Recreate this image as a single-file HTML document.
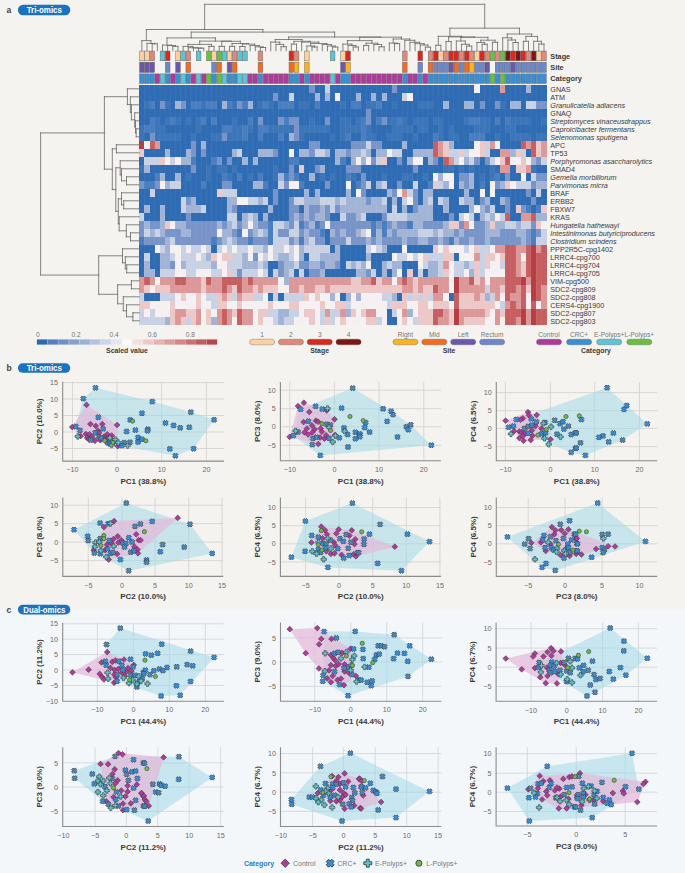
<!DOCTYPE html>
<html><head><meta charset="utf-8"><style>html,body{margin:0;padding:0;background:#f4f3ef;}svg{display:block;}</style></head>
<body><svg width="685" height="873" viewBox="0 0 685 873"><rect width="685" height="873" fill="#f4f3ef"/><rect x="0" y="609.5" width="685" height="263.5" fill="#f3f7fa"/><g shape-rendering="crispEdges"><rect x="139.30" y="84.80" width="5.21" height="8.05" fill="#2f6cb4"/><rect x="144.46" y="84.80" width="5.21" height="8.05" fill="#2f6cb4"/><rect x="149.61" y="84.80" width="5.21" height="8.05" fill="#2f6cb4"/><rect x="154.77" y="84.80" width="5.21" height="8.05" fill="#2f6cb4"/><rect x="159.92" y="84.80" width="5.21" height="8.05" fill="#2f6cb4"/><rect x="165.08" y="84.80" width="5.21" height="8.05" fill="#2f6cb4"/><rect x="170.23" y="84.80" width="5.21" height="8.05" fill="#2f6cb4"/><rect x="175.39" y="84.80" width="5.21" height="8.05" fill="#2f6cb4"/><rect x="180.54" y="84.80" width="5.21" height="8.05" fill="#2f6cb4"/><rect x="185.70" y="84.80" width="5.21" height="8.05" fill="#2f6cb4"/><rect x="190.85" y="84.80" width="5.21" height="8.05" fill="#2f6cb4"/><rect x="196.01" y="84.80" width="5.21" height="8.05" fill="#2f6cb4"/><rect x="201.16" y="84.80" width="5.21" height="8.05" fill="#2f6cb4"/><rect x="206.31" y="84.80" width="5.21" height="8.05" fill="#2f6cb4"/><rect x="211.47" y="84.80" width="5.21" height="8.05" fill="#2f6cb4"/><rect x="216.62" y="84.80" width="5.21" height="8.05" fill="#2f6cb4"/><rect x="221.78" y="84.80" width="5.21" height="8.05" fill="#2f6cb4"/><rect x="226.94" y="84.80" width="5.21" height="8.05" fill="#2f6cb4"/><rect x="232.09" y="84.80" width="5.21" height="8.05" fill="#2f6cb4"/><rect x="237.25" y="84.80" width="5.21" height="8.05" fill="#2f6cb4"/><rect x="242.40" y="84.80" width="5.21" height="8.05" fill="#2f6cb4"/><rect x="247.56" y="84.80" width="5.21" height="8.05" fill="#2f6cb4"/><rect x="252.71" y="84.80" width="5.21" height="8.05" fill="#2f6cb4"/><rect x="257.87" y="84.80" width="5.21" height="8.05" fill="#2f6cb4"/><rect x="263.02" y="84.80" width="5.21" height="8.05" fill="#2f6cb4"/><rect x="268.18" y="84.80" width="5.21" height="8.05" fill="#2f6cb4"/><rect x="273.33" y="84.80" width="5.21" height="8.05" fill="#2f6cb4"/><rect x="278.49" y="84.80" width="5.21" height="8.05" fill="#2f6cb4"/><rect x="283.64" y="84.80" width="5.21" height="8.05" fill="#2f6cb4"/><rect x="288.80" y="84.80" width="5.21" height="8.05" fill="#2f6cb4"/><rect x="293.95" y="84.80" width="5.21" height="8.05" fill="#2f6cb4"/><rect x="299.11" y="84.80" width="5.21" height="8.05" fill="#2f6cb4"/><rect x="304.26" y="84.80" width="5.21" height="8.05" fill="#2f6cb4"/><rect x="309.42" y="84.80" width="5.21" height="8.05" fill="#7894c8"/><rect x="314.57" y="84.80" width="5.21" height="8.05" fill="#2f6cb4"/><rect x="319.73" y="84.80" width="5.21" height="8.05" fill="#2f6cb4"/><rect x="324.88" y="84.80" width="5.21" height="8.05" fill="#c9d2e5"/><rect x="330.04" y="84.80" width="5.21" height="8.05" fill="#2f6cb4"/><rect x="335.19" y="84.80" width="5.21" height="8.05" fill="#2f6cb4"/><rect x="340.35" y="84.80" width="5.21" height="8.05" fill="#2f6cb4"/><rect x="345.50" y="84.80" width="5.21" height="8.05" fill="#2f6cb4"/><rect x="350.66" y="84.80" width="5.21" height="8.05" fill="#2f6cb4"/><rect x="355.81" y="84.80" width="5.21" height="8.05" fill="#2f6cb4"/><rect x="360.97" y="84.80" width="5.21" height="8.05" fill="#2f6cb4"/><rect x="366.12" y="84.80" width="5.21" height="8.05" fill="#2f6cb4"/><rect x="371.28" y="84.80" width="5.21" height="8.05" fill="#2f6cb4"/><rect x="376.43" y="84.80" width="5.21" height="8.05" fill="#2f6cb4"/><rect x="381.59" y="84.80" width="5.21" height="8.05" fill="#2f6cb4"/><rect x="386.74" y="84.80" width="5.21" height="8.05" fill="#2f6cb4"/><rect x="391.89" y="84.80" width="5.21" height="8.05" fill="#7894c8"/><rect x="397.05" y="84.80" width="5.21" height="8.05" fill="#2f6cb4"/><rect x="402.21" y="84.80" width="5.21" height="8.05" fill="#2f6cb4"/><rect x="407.36" y="84.80" width="5.21" height="8.05" fill="#2f6cb4"/><rect x="412.52" y="84.80" width="5.21" height="8.05" fill="#2f6cb4"/><rect x="417.67" y="84.80" width="5.21" height="8.05" fill="#2f6cb4"/><rect x="422.83" y="84.80" width="5.21" height="8.05" fill="#2f6cb4"/><rect x="427.98" y="84.80" width="5.21" height="8.05" fill="#2f6cb4"/><rect x="433.14" y="84.80" width="5.21" height="8.05" fill="#2f6cb4"/><rect x="438.29" y="84.80" width="5.21" height="8.05" fill="#2f6cb4"/><rect x="443.45" y="84.80" width="5.21" height="8.05" fill="#2f6cb4"/><rect x="448.60" y="84.80" width="5.21" height="8.05" fill="#2f6cb4"/><rect x="453.76" y="84.80" width="5.21" height="8.05" fill="#2f6cb4"/><rect x="458.91" y="84.80" width="5.21" height="8.05" fill="#2f6cb4"/><rect x="464.07" y="84.80" width="5.21" height="8.05" fill="#2f6cb4"/><rect x="469.22" y="84.80" width="5.21" height="8.05" fill="#2f6cb4"/><rect x="474.38" y="84.80" width="5.21" height="8.05" fill="#f5f0f1"/><rect x="479.53" y="84.80" width="5.21" height="8.05" fill="#2f6cb4"/><rect x="484.69" y="84.80" width="5.21" height="8.05" fill="#2f6cb4"/><rect x="489.84" y="84.80" width="5.21" height="8.05" fill="#2f6cb4"/><rect x="495.00" y="84.80" width="5.21" height="8.05" fill="#2f6cb4"/><rect x="500.15" y="84.80" width="5.21" height="8.05" fill="#dc9899"/><rect x="505.31" y="84.80" width="5.21" height="8.05" fill="#2f6cb4"/><rect x="510.46" y="84.80" width="5.21" height="8.05" fill="#2f6cb4"/><rect x="515.62" y="84.80" width="5.21" height="8.05" fill="#2f6cb4"/><rect x="520.77" y="84.80" width="5.21" height="8.05" fill="#2f6cb4"/><rect x="525.92" y="84.80" width="5.21" height="8.05" fill="#a2b4d6"/><rect x="531.08" y="84.80" width="5.21" height="8.05" fill="#2f6cb4"/><rect x="536.24" y="84.80" width="5.21" height="8.05" fill="#2f6cb4"/><rect x="541.39" y="84.80" width="5.21" height="8.05" fill="#2f6cb4"/><rect x="139.30" y="92.80" width="5.21" height="8.05" fill="#2f6cb4"/><rect x="144.46" y="92.80" width="5.21" height="8.05" fill="#2f6cb4"/><rect x="149.61" y="92.80" width="5.21" height="8.05" fill="#2f6cb4"/><rect x="154.77" y="92.80" width="5.21" height="8.05" fill="#2f6cb4"/><rect x="159.92" y="92.80" width="5.21" height="8.05" fill="#2f6cb4"/><rect x="165.08" y="92.80" width="5.21" height="8.05" fill="#2f6cb4"/><rect x="170.23" y="92.80" width="5.21" height="8.05" fill="#2f6cb4"/><rect x="175.39" y="92.80" width="5.21" height="8.05" fill="#2f6cb4"/><rect x="180.54" y="92.80" width="5.21" height="8.05" fill="#2f6cb4"/><rect x="185.70" y="92.80" width="5.21" height="8.05" fill="#2f6cb4"/><rect x="190.85" y="92.80" width="5.21" height="8.05" fill="#2f6cb4"/><rect x="196.01" y="92.80" width="5.21" height="8.05" fill="#2f6cb4"/><rect x="201.16" y="92.80" width="5.21" height="8.05" fill="#2f6cb4"/><rect x="206.31" y="92.80" width="5.21" height="8.05" fill="#2f6cb4"/><rect x="211.47" y="92.80" width="5.21" height="8.05" fill="#2f6cb4"/><rect x="216.62" y="92.80" width="5.21" height="8.05" fill="#2f6cb4"/><rect x="221.78" y="92.80" width="5.21" height="8.05" fill="#2f6cb4"/><rect x="226.94" y="92.80" width="5.21" height="8.05" fill="#2f6cb4"/><rect x="232.09" y="92.80" width="5.21" height="8.05" fill="#2f6cb4"/><rect x="237.25" y="92.80" width="5.21" height="8.05" fill="#2f6cb4"/><rect x="242.40" y="92.80" width="5.21" height="8.05" fill="#2f6cb4"/><rect x="247.56" y="92.80" width="5.21" height="8.05" fill="#2f6cb4"/><rect x="252.71" y="92.80" width="5.21" height="8.05" fill="#2f6cb4"/><rect x="257.87" y="92.80" width="5.21" height="8.05" fill="#2f6cb4"/><rect x="263.02" y="92.80" width="5.21" height="8.05" fill="#2f6cb4"/><rect x="268.18" y="92.80" width="5.21" height="8.05" fill="#2f6cb4"/><rect x="273.33" y="92.80" width="5.21" height="8.05" fill="#7894c8"/><rect x="278.49" y="92.80" width="5.21" height="8.05" fill="#2f6cb4"/><rect x="283.64" y="92.80" width="5.21" height="8.05" fill="#2f6cb4"/><rect x="288.80" y="92.80" width="5.21" height="8.05" fill="#c9d2e5"/><rect x="293.95" y="92.80" width="5.21" height="8.05" fill="#2f6cb4"/><rect x="299.11" y="92.80" width="5.21" height="8.05" fill="#2f6cb4"/><rect x="304.26" y="92.80" width="5.21" height="8.05" fill="#2f6cb4"/><rect x="309.42" y="92.80" width="5.21" height="8.05" fill="#2f6cb4"/><rect x="314.57" y="92.80" width="5.21" height="8.05" fill="#a2b4d6"/><rect x="319.73" y="92.80" width="5.21" height="8.05" fill="#2f6cb4"/><rect x="324.88" y="92.80" width="5.21" height="8.05" fill="#a2b4d6"/><rect x="330.04" y="92.80" width="5.21" height="8.05" fill="#2f6cb4"/><rect x="335.19" y="92.80" width="5.21" height="8.05" fill="#f5f0f1"/><rect x="340.35" y="92.80" width="5.21" height="8.05" fill="#2f6cb4"/><rect x="345.50" y="92.80" width="5.21" height="8.05" fill="#2f6cb4"/><rect x="350.66" y="92.80" width="5.21" height="8.05" fill="#2f6cb4"/><rect x="355.81" y="92.80" width="5.21" height="8.05" fill="#a2b4d6"/><rect x="360.97" y="92.80" width="5.21" height="8.05" fill="#2f6cb4"/><rect x="366.12" y="92.80" width="5.21" height="8.05" fill="#2f6cb4"/><rect x="371.28" y="92.80" width="5.21" height="8.05" fill="#a2b4d6"/><rect x="376.43" y="92.80" width="5.21" height="8.05" fill="#2f6cb4"/><rect x="381.59" y="92.80" width="5.21" height="8.05" fill="#a2b4d6"/><rect x="386.74" y="92.80" width="5.21" height="8.05" fill="#2f6cb4"/><rect x="391.89" y="92.80" width="5.21" height="8.05" fill="#2f6cb4"/><rect x="397.05" y="92.80" width="5.21" height="8.05" fill="#2f6cb4"/><rect x="402.21" y="92.80" width="5.21" height="8.05" fill="#c9d2e5"/><rect x="407.36" y="92.80" width="5.21" height="8.05" fill="#f5f0f1"/><rect x="412.52" y="92.80" width="5.21" height="8.05" fill="#2f6cb4"/><rect x="417.67" y="92.80" width="5.21" height="8.05" fill="#2f6cb4"/><rect x="422.83" y="92.80" width="5.21" height="8.05" fill="#2f6cb4"/><rect x="427.98" y="92.80" width="5.21" height="8.05" fill="#2f6cb4"/><rect x="433.14" y="92.80" width="5.21" height="8.05" fill="#2f6cb4"/><rect x="438.29" y="92.80" width="5.21" height="8.05" fill="#2f6cb4"/><rect x="443.45" y="92.80" width="5.21" height="8.05" fill="#2f6cb4"/><rect x="448.60" y="92.80" width="5.21" height="8.05" fill="#2f6cb4"/><rect x="453.76" y="92.80" width="5.21" height="8.05" fill="#2f6cb4"/><rect x="458.91" y="92.80" width="5.21" height="8.05" fill="#2f6cb4"/><rect x="464.07" y="92.80" width="5.21" height="8.05" fill="#2f6cb4"/><rect x="469.22" y="92.80" width="5.21" height="8.05" fill="#2f6cb4"/><rect x="474.38" y="92.80" width="5.21" height="8.05" fill="#2f6cb4"/><rect x="479.53" y="92.80" width="5.21" height="8.05" fill="#2f6cb4"/><rect x="484.69" y="92.80" width="5.21" height="8.05" fill="#2f6cb4"/><rect x="489.84" y="92.80" width="5.21" height="8.05" fill="#2f6cb4"/><rect x="495.00" y="92.80" width="5.21" height="8.05" fill="#2f6cb4"/><rect x="500.15" y="92.80" width="5.21" height="8.05" fill="#2f6cb4"/><rect x="505.31" y="92.80" width="5.21" height="8.05" fill="#2f6cb4"/><rect x="510.46" y="92.80" width="5.21" height="8.05" fill="#2f6cb4"/><rect x="515.62" y="92.80" width="5.21" height="8.05" fill="#2f6cb4"/><rect x="520.77" y="92.80" width="5.21" height="8.05" fill="#2f6cb4"/><rect x="525.92" y="92.80" width="5.21" height="8.05" fill="#2f6cb4"/><rect x="531.08" y="92.80" width="5.21" height="8.05" fill="#2f6cb4"/><rect x="536.24" y="92.80" width="5.21" height="8.05" fill="#2f6cb4"/><rect x="541.39" y="92.80" width="5.21" height="8.05" fill="#2f6cb4"/><rect x="139.30" y="100.80" width="5.21" height="8.05" fill="#2f6cb4"/><rect x="144.46" y="100.80" width="5.21" height="8.05" fill="#3c76b9"/><rect x="149.61" y="100.80" width="5.21" height="8.05" fill="#4a7ebf"/><rect x="154.77" y="100.80" width="5.21" height="8.05" fill="#2f6cb4"/><rect x="159.92" y="100.80" width="5.21" height="8.05" fill="#7894c8"/><rect x="165.08" y="100.80" width="5.21" height="8.05" fill="#3c76b9"/><rect x="170.23" y="100.80" width="5.21" height="8.05" fill="#2f6cb4"/><rect x="175.39" y="100.80" width="5.21" height="8.05" fill="#a2b4d6"/><rect x="180.54" y="100.80" width="5.21" height="8.05" fill="#7894c8"/><rect x="185.70" y="100.80" width="5.21" height="8.05" fill="#2f6cb4"/><rect x="190.85" y="100.80" width="5.21" height="8.05" fill="#4a7ebf"/><rect x="196.01" y="100.80" width="5.21" height="8.05" fill="#4a7ebf"/><rect x="201.16" y="100.80" width="5.21" height="8.05" fill="#3c76b9"/><rect x="206.31" y="100.80" width="5.21" height="8.05" fill="#4a7ebf"/><rect x="211.47" y="100.80" width="5.21" height="8.05" fill="#4a7ebf"/><rect x="216.62" y="100.80" width="5.21" height="8.05" fill="#2f6cb4"/><rect x="221.78" y="100.80" width="5.21" height="8.05" fill="#a2b4d6"/><rect x="226.94" y="100.80" width="5.21" height="8.05" fill="#4a7ebf"/><rect x="232.09" y="100.80" width="5.21" height="8.05" fill="#3c76b9"/><rect x="237.25" y="100.80" width="5.21" height="8.05" fill="#7894c8"/><rect x="242.40" y="100.80" width="5.21" height="8.05" fill="#4a7ebf"/><rect x="247.56" y="100.80" width="5.21" height="8.05" fill="#a2b4d6"/><rect x="252.71" y="100.80" width="5.21" height="8.05" fill="#2f6cb4"/><rect x="257.87" y="100.80" width="5.21" height="8.05" fill="#3c76b9"/><rect x="263.02" y="100.80" width="5.21" height="8.05" fill="#4a7ebf"/><rect x="268.18" y="100.80" width="5.21" height="8.05" fill="#3c76b9"/><rect x="273.33" y="100.80" width="5.21" height="8.05" fill="#2f6cb4"/><rect x="278.49" y="100.80" width="5.21" height="8.05" fill="#4a7ebf"/><rect x="283.64" y="100.80" width="5.21" height="8.05" fill="#4a7ebf"/><rect x="288.80" y="100.80" width="5.21" height="8.05" fill="#4a7ebf"/><rect x="293.95" y="100.80" width="5.21" height="8.05" fill="#2f6cb4"/><rect x="299.11" y="100.80" width="5.21" height="8.05" fill="#3c76b9"/><rect x="304.26" y="100.80" width="5.21" height="8.05" fill="#3c76b9"/><rect x="309.42" y="100.80" width="5.21" height="8.05" fill="#2f6cb4"/><rect x="314.57" y="100.80" width="5.21" height="8.05" fill="#4a7ebf"/><rect x="319.73" y="100.80" width="5.21" height="8.05" fill="#2f6cb4"/><rect x="324.88" y="100.80" width="5.21" height="8.05" fill="#2f6cb4"/><rect x="330.04" y="100.80" width="5.21" height="8.05" fill="#2f6cb4"/><rect x="335.19" y="100.80" width="5.21" height="8.05" fill="#2f6cb4"/><rect x="340.35" y="100.80" width="5.21" height="8.05" fill="#3c76b9"/><rect x="345.50" y="100.80" width="5.21" height="8.05" fill="#2f6cb4"/><rect x="350.66" y="100.80" width="5.21" height="8.05" fill="#4a7ebf"/><rect x="355.81" y="100.80" width="5.21" height="8.05" fill="#4a7ebf"/><rect x="360.97" y="100.80" width="5.21" height="8.05" fill="#2f6cb4"/><rect x="366.12" y="100.80" width="5.21" height="8.05" fill="#3c76b9"/><rect x="371.28" y="100.80" width="5.21" height="8.05" fill="#3c76b9"/><rect x="376.43" y="100.80" width="5.21" height="8.05" fill="#4a7ebf"/><rect x="381.59" y="100.80" width="5.21" height="8.05" fill="#2f6cb4"/><rect x="386.74" y="100.80" width="5.21" height="8.05" fill="#2f6cb4"/><rect x="391.89" y="100.80" width="5.21" height="8.05" fill="#3c76b9"/><rect x="397.05" y="100.80" width="5.21" height="8.05" fill="#2f6cb4"/><rect x="402.21" y="100.80" width="5.21" height="8.05" fill="#2f6cb4"/><rect x="407.36" y="100.80" width="5.21" height="8.05" fill="#2f6cb4"/><rect x="412.52" y="100.80" width="5.21" height="8.05" fill="#2f6cb4"/><rect x="417.67" y="100.80" width="5.21" height="8.05" fill="#3c76b9"/><rect x="422.83" y="100.80" width="5.21" height="8.05" fill="#3c76b9"/><rect x="427.98" y="100.80" width="5.21" height="8.05" fill="#3c76b9"/><rect x="433.14" y="100.80" width="5.21" height="8.05" fill="#2f6cb4"/><rect x="438.29" y="100.80" width="5.21" height="8.05" fill="#2f6cb4"/><rect x="443.45" y="100.80" width="5.21" height="8.05" fill="#a2b4d6"/><rect x="448.60" y="100.80" width="5.21" height="8.05" fill="#2f6cb4"/><rect x="453.76" y="100.80" width="5.21" height="8.05" fill="#2f6cb4"/><rect x="458.91" y="100.80" width="5.21" height="8.05" fill="#2f6cb4"/><rect x="464.07" y="100.80" width="5.21" height="8.05" fill="#a2b4d6"/><rect x="469.22" y="100.80" width="5.21" height="8.05" fill="#a2b4d6"/><rect x="474.38" y="100.80" width="5.21" height="8.05" fill="#2f6cb4"/><rect x="479.53" y="100.80" width="5.21" height="8.05" fill="#7894c8"/><rect x="484.69" y="100.80" width="5.21" height="8.05" fill="#2f6cb4"/><rect x="489.84" y="100.80" width="5.21" height="8.05" fill="#2f6cb4"/><rect x="495.00" y="100.80" width="5.21" height="8.05" fill="#7894c8"/><rect x="500.15" y="100.80" width="5.21" height="8.05" fill="#3c76b9"/><rect x="505.31" y="100.80" width="5.21" height="8.05" fill="#2f6cb4"/><rect x="510.46" y="100.80" width="5.21" height="8.05" fill="#a2b4d6"/><rect x="515.62" y="100.80" width="5.21" height="8.05" fill="#a2b4d6"/><rect x="520.77" y="100.80" width="5.21" height="8.05" fill="#2f6cb4"/><rect x="525.92" y="100.80" width="5.21" height="8.05" fill="#c9d2e5"/><rect x="531.08" y="100.80" width="5.21" height="8.05" fill="#c9d2e5"/><rect x="536.24" y="100.80" width="5.21" height="8.05" fill="#7894c8"/><rect x="541.39" y="100.80" width="5.21" height="8.05" fill="#7894c8"/><rect x="139.30" y="108.80" width="5.21" height="8.05" fill="#2f6cb4"/><rect x="144.46" y="108.80" width="5.21" height="8.05" fill="#2f6cb4"/><rect x="149.61" y="108.80" width="5.21" height="8.05" fill="#2f6cb4"/><rect x="154.77" y="108.80" width="5.21" height="8.05" fill="#2f6cb4"/><rect x="159.92" y="108.80" width="5.21" height="8.05" fill="#2f6cb4"/><rect x="165.08" y="108.80" width="5.21" height="8.05" fill="#2f6cb4"/><rect x="170.23" y="108.80" width="5.21" height="8.05" fill="#2f6cb4"/><rect x="175.39" y="108.80" width="5.21" height="8.05" fill="#2f6cb4"/><rect x="180.54" y="108.80" width="5.21" height="8.05" fill="#2f6cb4"/><rect x="185.70" y="108.80" width="5.21" height="8.05" fill="#2f6cb4"/><rect x="190.85" y="108.80" width="5.21" height="8.05" fill="#2f6cb4"/><rect x="196.01" y="108.80" width="5.21" height="8.05" fill="#2f6cb4"/><rect x="201.16" y="108.80" width="5.21" height="8.05" fill="#2f6cb4"/><rect x="206.31" y="108.80" width="5.21" height="8.05" fill="#2f6cb4"/><rect x="211.47" y="108.80" width="5.21" height="8.05" fill="#2f6cb4"/><rect x="216.62" y="108.80" width="5.21" height="8.05" fill="#2f6cb4"/><rect x="221.78" y="108.80" width="5.21" height="8.05" fill="#2f6cb4"/><rect x="226.94" y="108.80" width="5.21" height="8.05" fill="#2f6cb4"/><rect x="232.09" y="108.80" width="5.21" height="8.05" fill="#2f6cb4"/><rect x="237.25" y="108.80" width="5.21" height="8.05" fill="#2f6cb4"/><rect x="242.40" y="108.80" width="5.21" height="8.05" fill="#2f6cb4"/><rect x="247.56" y="108.80" width="5.21" height="8.05" fill="#2f6cb4"/><rect x="252.71" y="108.80" width="5.21" height="8.05" fill="#2f6cb4"/><rect x="257.87" y="108.80" width="5.21" height="8.05" fill="#2f6cb4"/><rect x="263.02" y="108.80" width="5.21" height="8.05" fill="#2f6cb4"/><rect x="268.18" y="108.80" width="5.21" height="8.05" fill="#2f6cb4"/><rect x="273.33" y="108.80" width="5.21" height="8.05" fill="#2f6cb4"/><rect x="278.49" y="108.80" width="5.21" height="8.05" fill="#2f6cb4"/><rect x="283.64" y="108.80" width="5.21" height="8.05" fill="#2f6cb4"/><rect x="288.80" y="108.80" width="5.21" height="8.05" fill="#2f6cb4"/><rect x="293.95" y="108.80" width="5.21" height="8.05" fill="#2f6cb4"/><rect x="299.11" y="108.80" width="5.21" height="8.05" fill="#2f6cb4"/><rect x="304.26" y="108.80" width="5.21" height="8.05" fill="#2f6cb4"/><rect x="309.42" y="108.80" width="5.21" height="8.05" fill="#2f6cb4"/><rect x="314.57" y="108.80" width="5.21" height="8.05" fill="#2f6cb4"/><rect x="319.73" y="108.80" width="5.21" height="8.05" fill="#2f6cb4"/><rect x="324.88" y="108.80" width="5.21" height="8.05" fill="#2f6cb4"/><rect x="330.04" y="108.80" width="5.21" height="8.05" fill="#2f6cb4"/><rect x="335.19" y="108.80" width="5.21" height="8.05" fill="#2f6cb4"/><rect x="340.35" y="108.80" width="5.21" height="8.05" fill="#2f6cb4"/><rect x="345.50" y="108.80" width="5.21" height="8.05" fill="#2f6cb4"/><rect x="350.66" y="108.80" width="5.21" height="8.05" fill="#2f6cb4"/><rect x="355.81" y="108.80" width="5.21" height="8.05" fill="#2f6cb4"/><rect x="360.97" y="108.80" width="5.21" height="8.05" fill="#2f6cb4"/><rect x="366.12" y="108.80" width="5.21" height="8.05" fill="#7894c8"/><rect x="371.28" y="108.80" width="5.21" height="8.05" fill="#2f6cb4"/><rect x="376.43" y="108.80" width="5.21" height="8.05" fill="#2f6cb4"/><rect x="381.59" y="108.80" width="5.21" height="8.05" fill="#2f6cb4"/><rect x="386.74" y="108.80" width="5.21" height="8.05" fill="#2f6cb4"/><rect x="391.89" y="108.80" width="5.21" height="8.05" fill="#2f6cb4"/><rect x="397.05" y="108.80" width="5.21" height="8.05" fill="#2f6cb4"/><rect x="402.21" y="108.80" width="5.21" height="8.05" fill="#2f6cb4"/><rect x="407.36" y="108.80" width="5.21" height="8.05" fill="#2f6cb4"/><rect x="412.52" y="108.80" width="5.21" height="8.05" fill="#2f6cb4"/><rect x="417.67" y="108.80" width="5.21" height="8.05" fill="#2f6cb4"/><rect x="422.83" y="108.80" width="5.21" height="8.05" fill="#2f6cb4"/><rect x="427.98" y="108.80" width="5.21" height="8.05" fill="#2f6cb4"/><rect x="433.14" y="108.80" width="5.21" height="8.05" fill="#2f6cb4"/><rect x="438.29" y="108.80" width="5.21" height="8.05" fill="#2f6cb4"/><rect x="443.45" y="108.80" width="5.21" height="8.05" fill="#2f6cb4"/><rect x="448.60" y="108.80" width="5.21" height="8.05" fill="#2f6cb4"/><rect x="453.76" y="108.80" width="5.21" height="8.05" fill="#2f6cb4"/><rect x="458.91" y="108.80" width="5.21" height="8.05" fill="#2f6cb4"/><rect x="464.07" y="108.80" width="5.21" height="8.05" fill="#2f6cb4"/><rect x="469.22" y="108.80" width="5.21" height="8.05" fill="#2f6cb4"/><rect x="474.38" y="108.80" width="5.21" height="8.05" fill="#2f6cb4"/><rect x="479.53" y="108.80" width="5.21" height="8.05" fill="#2f6cb4"/><rect x="484.69" y="108.80" width="5.21" height="8.05" fill="#2f6cb4"/><rect x="489.84" y="108.80" width="5.21" height="8.05" fill="#2f6cb4"/><rect x="495.00" y="108.80" width="5.21" height="8.05" fill="#2f6cb4"/><rect x="500.15" y="108.80" width="5.21" height="8.05" fill="#2f6cb4"/><rect x="505.31" y="108.80" width="5.21" height="8.05" fill="#2f6cb4"/><rect x="510.46" y="108.80" width="5.21" height="8.05" fill="#2f6cb4"/><rect x="515.62" y="108.80" width="5.21" height="8.05" fill="#2f6cb4"/><rect x="520.77" y="108.80" width="5.21" height="8.05" fill="#2f6cb4"/><rect x="525.92" y="108.80" width="5.21" height="8.05" fill="#2f6cb4"/><rect x="531.08" y="108.80" width="5.21" height="8.05" fill="#2f6cb4"/><rect x="536.24" y="108.80" width="5.21" height="8.05" fill="#2f6cb4"/><rect x="541.39" y="108.80" width="5.21" height="8.05" fill="#2f6cb4"/><rect x="139.30" y="116.80" width="5.21" height="8.05" fill="#2f6cb4"/><rect x="144.46" y="116.80" width="5.21" height="8.05" fill="#2f6cb4"/><rect x="149.61" y="116.80" width="5.21" height="8.05" fill="#4a7ebf"/><rect x="154.77" y="116.80" width="5.21" height="8.05" fill="#3c76b9"/><rect x="159.92" y="116.80" width="5.21" height="8.05" fill="#2f6cb4"/><rect x="165.08" y="116.80" width="5.21" height="8.05" fill="#3c76b9"/><rect x="170.23" y="116.80" width="5.21" height="8.05" fill="#4a7ebf"/><rect x="175.39" y="116.80" width="5.21" height="8.05" fill="#3c76b9"/><rect x="180.54" y="116.80" width="5.21" height="8.05" fill="#2f6cb4"/><rect x="185.70" y="116.80" width="5.21" height="8.05" fill="#3c76b9"/><rect x="190.85" y="116.80" width="5.21" height="8.05" fill="#2f6cb4"/><rect x="196.01" y="116.80" width="5.21" height="8.05" fill="#3c76b9"/><rect x="201.16" y="116.80" width="5.21" height="8.05" fill="#4a7ebf"/><rect x="206.31" y="116.80" width="5.21" height="8.05" fill="#2f6cb4"/><rect x="211.47" y="116.80" width="5.21" height="8.05" fill="#4a7ebf"/><rect x="216.62" y="116.80" width="5.21" height="8.05" fill="#2f6cb4"/><rect x="221.78" y="116.80" width="5.21" height="8.05" fill="#2f6cb4"/><rect x="226.94" y="116.80" width="5.21" height="8.05" fill="#2f6cb4"/><rect x="232.09" y="116.80" width="5.21" height="8.05" fill="#3c76b9"/><rect x="237.25" y="116.80" width="5.21" height="8.05" fill="#2f6cb4"/><rect x="242.40" y="116.80" width="5.21" height="8.05" fill="#2f6cb4"/><rect x="247.56" y="116.80" width="5.21" height="8.05" fill="#4a7ebf"/><rect x="252.71" y="116.80" width="5.21" height="8.05" fill="#2f6cb4"/><rect x="257.87" y="116.80" width="5.21" height="8.05" fill="#7894c8"/><rect x="263.02" y="116.80" width="5.21" height="8.05" fill="#2f6cb4"/><rect x="268.18" y="116.80" width="5.21" height="8.05" fill="#2f6cb4"/><rect x="273.33" y="116.80" width="5.21" height="8.05" fill="#2f6cb4"/><rect x="278.49" y="116.80" width="5.21" height="8.05" fill="#7894c8"/><rect x="283.64" y="116.80" width="5.21" height="8.05" fill="#4a7ebf"/><rect x="288.80" y="116.80" width="5.21" height="8.05" fill="#7894c8"/><rect x="293.95" y="116.80" width="5.21" height="8.05" fill="#7894c8"/><rect x="299.11" y="116.80" width="5.21" height="8.05" fill="#2f6cb4"/><rect x="304.26" y="116.80" width="5.21" height="8.05" fill="#2f6cb4"/><rect x="309.42" y="116.80" width="5.21" height="8.05" fill="#3c76b9"/><rect x="314.57" y="116.80" width="5.21" height="8.05" fill="#2f6cb4"/><rect x="319.73" y="116.80" width="5.21" height="8.05" fill="#2f6cb4"/><rect x="324.88" y="116.80" width="5.21" height="8.05" fill="#7894c8"/><rect x="330.04" y="116.80" width="5.21" height="8.05" fill="#2f6cb4"/><rect x="335.19" y="116.80" width="5.21" height="8.05" fill="#2f6cb4"/><rect x="340.35" y="116.80" width="5.21" height="8.05" fill="#3c76b9"/><rect x="345.50" y="116.80" width="5.21" height="8.05" fill="#3c76b9"/><rect x="350.66" y="116.80" width="5.21" height="8.05" fill="#2f6cb4"/><rect x="355.81" y="116.80" width="5.21" height="8.05" fill="#3c76b9"/><rect x="360.97" y="116.80" width="5.21" height="8.05" fill="#4a7ebf"/><rect x="366.12" y="116.80" width="5.21" height="8.05" fill="#7894c8"/><rect x="371.28" y="116.80" width="5.21" height="8.05" fill="#2f6cb4"/><rect x="376.43" y="116.80" width="5.21" height="8.05" fill="#4a7ebf"/><rect x="381.59" y="116.80" width="5.21" height="8.05" fill="#7894c8"/><rect x="386.74" y="116.80" width="5.21" height="8.05" fill="#3c76b9"/><rect x="391.89" y="116.80" width="5.21" height="8.05" fill="#3c76b9"/><rect x="397.05" y="116.80" width="5.21" height="8.05" fill="#4a7ebf"/><rect x="402.21" y="116.80" width="5.21" height="8.05" fill="#3c76b9"/><rect x="407.36" y="116.80" width="5.21" height="8.05" fill="#2f6cb4"/><rect x="412.52" y="116.80" width="5.21" height="8.05" fill="#3c76b9"/><rect x="417.67" y="116.80" width="5.21" height="8.05" fill="#3c76b9"/><rect x="422.83" y="116.80" width="5.21" height="8.05" fill="#3c76b9"/><rect x="427.98" y="116.80" width="5.21" height="8.05" fill="#2f6cb4"/><rect x="433.14" y="116.80" width="5.21" height="8.05" fill="#3c76b9"/><rect x="438.29" y="116.80" width="5.21" height="8.05" fill="#3c76b9"/><rect x="443.45" y="116.80" width="5.21" height="8.05" fill="#2f6cb4"/><rect x="448.60" y="116.80" width="5.21" height="8.05" fill="#2f6cb4"/><rect x="453.76" y="116.80" width="5.21" height="8.05" fill="#2f6cb4"/><rect x="458.91" y="116.80" width="5.21" height="8.05" fill="#2f6cb4"/><rect x="464.07" y="116.80" width="5.21" height="8.05" fill="#3c76b9"/><rect x="469.22" y="116.80" width="5.21" height="8.05" fill="#4a7ebf"/><rect x="474.38" y="116.80" width="5.21" height="8.05" fill="#4a7ebf"/><rect x="479.53" y="116.80" width="5.21" height="8.05" fill="#3c76b9"/><rect x="484.69" y="116.80" width="5.21" height="8.05" fill="#3c76b9"/><rect x="489.84" y="116.80" width="5.21" height="8.05" fill="#2f6cb4"/><rect x="495.00" y="116.80" width="5.21" height="8.05" fill="#4a7ebf"/><rect x="500.15" y="116.80" width="5.21" height="8.05" fill="#2f6cb4"/><rect x="505.31" y="116.80" width="5.21" height="8.05" fill="#4a7ebf"/><rect x="510.46" y="116.80" width="5.21" height="8.05" fill="#3c76b9"/><rect x="515.62" y="116.80" width="5.21" height="8.05" fill="#3c76b9"/><rect x="520.77" y="116.80" width="5.21" height="8.05" fill="#3c76b9"/><rect x="525.92" y="116.80" width="5.21" height="8.05" fill="#3c76b9"/><rect x="531.08" y="116.80" width="5.21" height="8.05" fill="#2f6cb4"/><rect x="536.24" y="116.80" width="5.21" height="8.05" fill="#2f6cb4"/><rect x="541.39" y="116.80" width="5.21" height="8.05" fill="#3c76b9"/><rect x="139.30" y="124.80" width="5.21" height="8.05" fill="#3c76b9"/><rect x="144.46" y="124.80" width="5.21" height="8.05" fill="#4a7ebf"/><rect x="149.61" y="124.80" width="5.21" height="8.05" fill="#4a7ebf"/><rect x="154.77" y="124.80" width="5.21" height="8.05" fill="#3c76b9"/><rect x="159.92" y="124.80" width="5.21" height="8.05" fill="#3c76b9"/><rect x="165.08" y="124.80" width="5.21" height="8.05" fill="#2f6cb4"/><rect x="170.23" y="124.80" width="5.21" height="8.05" fill="#2f6cb4"/><rect x="175.39" y="124.80" width="5.21" height="8.05" fill="#2f6cb4"/><rect x="180.54" y="124.80" width="5.21" height="8.05" fill="#2f6cb4"/><rect x="185.70" y="124.80" width="5.21" height="8.05" fill="#2f6cb4"/><rect x="190.85" y="124.80" width="5.21" height="8.05" fill="#2f6cb4"/><rect x="196.01" y="124.80" width="5.21" height="8.05" fill="#3c76b9"/><rect x="201.16" y="124.80" width="5.21" height="8.05" fill="#2f6cb4"/><rect x="206.31" y="124.80" width="5.21" height="8.05" fill="#2f6cb4"/><rect x="211.47" y="124.80" width="5.21" height="8.05" fill="#2f6cb4"/><rect x="216.62" y="124.80" width="5.21" height="8.05" fill="#2f6cb4"/><rect x="221.78" y="124.80" width="5.21" height="8.05" fill="#4a7ebf"/><rect x="226.94" y="124.80" width="5.21" height="8.05" fill="#4a7ebf"/><rect x="232.09" y="124.80" width="5.21" height="8.05" fill="#3c76b9"/><rect x="237.25" y="124.80" width="5.21" height="8.05" fill="#3c76b9"/><rect x="242.40" y="124.80" width="5.21" height="8.05" fill="#4a7ebf"/><rect x="247.56" y="124.80" width="5.21" height="8.05" fill="#3c76b9"/><rect x="252.71" y="124.80" width="5.21" height="8.05" fill="#2f6cb4"/><rect x="257.87" y="124.80" width="5.21" height="8.05" fill="#4a7ebf"/><rect x="263.02" y="124.80" width="5.21" height="8.05" fill="#4a7ebf"/><rect x="268.18" y="124.80" width="5.21" height="8.05" fill="#3c76b9"/><rect x="273.33" y="124.80" width="5.21" height="8.05" fill="#3c76b9"/><rect x="278.49" y="124.80" width="5.21" height="8.05" fill="#3c76b9"/><rect x="283.64" y="124.80" width="5.21" height="8.05" fill="#3c76b9"/><rect x="288.80" y="124.80" width="5.21" height="8.05" fill="#3c76b9"/><rect x="293.95" y="124.80" width="5.21" height="8.05" fill="#7894c8"/><rect x="299.11" y="124.80" width="5.21" height="8.05" fill="#3c76b9"/><rect x="304.26" y="124.80" width="5.21" height="8.05" fill="#3c76b9"/><rect x="309.42" y="124.80" width="5.21" height="8.05" fill="#3c76b9"/><rect x="314.57" y="124.80" width="5.21" height="8.05" fill="#3c76b9"/><rect x="319.73" y="124.80" width="5.21" height="8.05" fill="#3c76b9"/><rect x="324.88" y="124.80" width="5.21" height="8.05" fill="#3c76b9"/><rect x="330.04" y="124.80" width="5.21" height="8.05" fill="#2f6cb4"/><rect x="335.19" y="124.80" width="5.21" height="8.05" fill="#2f6cb4"/><rect x="340.35" y="124.80" width="5.21" height="8.05" fill="#3c76b9"/><rect x="345.50" y="124.80" width="5.21" height="8.05" fill="#3c76b9"/><rect x="350.66" y="124.80" width="5.21" height="8.05" fill="#3c76b9"/><rect x="355.81" y="124.80" width="5.21" height="8.05" fill="#3c76b9"/><rect x="360.97" y="124.80" width="5.21" height="8.05" fill="#4a7ebf"/><rect x="366.12" y="124.80" width="5.21" height="8.05" fill="#3c76b9"/><rect x="371.28" y="124.80" width="5.21" height="8.05" fill="#2f6cb4"/><rect x="376.43" y="124.80" width="5.21" height="8.05" fill="#2f6cb4"/><rect x="381.59" y="124.80" width="5.21" height="8.05" fill="#2f6cb4"/><rect x="386.74" y="124.80" width="5.21" height="8.05" fill="#2f6cb4"/><rect x="391.89" y="124.80" width="5.21" height="8.05" fill="#3c76b9"/><rect x="397.05" y="124.80" width="5.21" height="8.05" fill="#3c76b9"/><rect x="402.21" y="124.80" width="5.21" height="8.05" fill="#3c76b9"/><rect x="407.36" y="124.80" width="5.21" height="8.05" fill="#3c76b9"/><rect x="412.52" y="124.80" width="5.21" height="8.05" fill="#2f6cb4"/><rect x="417.67" y="124.80" width="5.21" height="8.05" fill="#3c76b9"/><rect x="422.83" y="124.80" width="5.21" height="8.05" fill="#3c76b9"/><rect x="427.98" y="124.80" width="5.21" height="8.05" fill="#2f6cb4"/><rect x="433.14" y="124.80" width="5.21" height="8.05" fill="#2f6cb4"/><rect x="438.29" y="124.80" width="5.21" height="8.05" fill="#3c76b9"/><rect x="443.45" y="124.80" width="5.21" height="8.05" fill="#2f6cb4"/><rect x="448.60" y="124.80" width="5.21" height="8.05" fill="#3c76b9"/><rect x="453.76" y="124.80" width="5.21" height="8.05" fill="#2f6cb4"/><rect x="458.91" y="124.80" width="5.21" height="8.05" fill="#2f6cb4"/><rect x="464.07" y="124.80" width="5.21" height="8.05" fill="#2f6cb4"/><rect x="469.22" y="124.80" width="5.21" height="8.05" fill="#2f6cb4"/><rect x="474.38" y="124.80" width="5.21" height="8.05" fill="#3c76b9"/><rect x="479.53" y="124.80" width="5.21" height="8.05" fill="#3c76b9"/><rect x="484.69" y="124.80" width="5.21" height="8.05" fill="#3c76b9"/><rect x="489.84" y="124.80" width="5.21" height="8.05" fill="#2f6cb4"/><rect x="495.00" y="124.80" width="5.21" height="8.05" fill="#2f6cb4"/><rect x="500.15" y="124.80" width="5.21" height="8.05" fill="#2f6cb4"/><rect x="505.31" y="124.80" width="5.21" height="8.05" fill="#3c76b9"/><rect x="510.46" y="124.80" width="5.21" height="8.05" fill="#3c76b9"/><rect x="515.62" y="124.80" width="5.21" height="8.05" fill="#2f6cb4"/><rect x="520.77" y="124.80" width="5.21" height="8.05" fill="#2f6cb4"/><rect x="525.92" y="124.80" width="5.21" height="8.05" fill="#2f6cb4"/><rect x="531.08" y="124.80" width="5.21" height="8.05" fill="#2f6cb4"/><rect x="536.24" y="124.80" width="5.21" height="8.05" fill="#2f6cb4"/><rect x="541.39" y="124.80" width="5.21" height="8.05" fill="#2f6cb4"/><rect x="139.30" y="132.80" width="5.21" height="8.05" fill="#3c76b9"/><rect x="144.46" y="132.80" width="5.21" height="8.05" fill="#2f6cb4"/><rect x="149.61" y="132.80" width="5.21" height="8.05" fill="#7894c8"/><rect x="154.77" y="132.80" width="5.21" height="8.05" fill="#3c76b9"/><rect x="159.92" y="132.80" width="5.21" height="8.05" fill="#3c76b9"/><rect x="165.08" y="132.80" width="5.21" height="8.05" fill="#3c76b9"/><rect x="170.23" y="132.80" width="5.21" height="8.05" fill="#3c76b9"/><rect x="175.39" y="132.80" width="5.21" height="8.05" fill="#3c76b9"/><rect x="180.54" y="132.80" width="5.21" height="8.05" fill="#2f6cb4"/><rect x="185.70" y="132.80" width="5.21" height="8.05" fill="#2f6cb4"/><rect x="190.85" y="132.80" width="5.21" height="8.05" fill="#3c76b9"/><rect x="196.01" y="132.80" width="5.21" height="8.05" fill="#2f6cb4"/><rect x="201.16" y="132.80" width="5.21" height="8.05" fill="#2f6cb4"/><rect x="206.31" y="132.80" width="5.21" height="8.05" fill="#2f6cb4"/><rect x="211.47" y="132.80" width="5.21" height="8.05" fill="#3c76b9"/><rect x="216.62" y="132.80" width="5.21" height="8.05" fill="#3c76b9"/><rect x="221.78" y="132.80" width="5.21" height="8.05" fill="#7894c8"/><rect x="226.94" y="132.80" width="5.21" height="8.05" fill="#3c76b9"/><rect x="232.09" y="132.80" width="5.21" height="8.05" fill="#3c76b9"/><rect x="237.25" y="132.80" width="5.21" height="8.05" fill="#3c76b9"/><rect x="242.40" y="132.80" width="5.21" height="8.05" fill="#4a7ebf"/><rect x="247.56" y="132.80" width="5.21" height="8.05" fill="#2f6cb4"/><rect x="252.71" y="132.80" width="5.21" height="8.05" fill="#2f6cb4"/><rect x="257.87" y="132.80" width="5.21" height="8.05" fill="#4a7ebf"/><rect x="263.02" y="132.80" width="5.21" height="8.05" fill="#2f6cb4"/><rect x="268.18" y="132.80" width="5.21" height="8.05" fill="#2f6cb4"/><rect x="273.33" y="132.80" width="5.21" height="8.05" fill="#2f6cb4"/><rect x="278.49" y="132.80" width="5.21" height="8.05" fill="#4a7ebf"/><rect x="283.64" y="132.80" width="5.21" height="8.05" fill="#2f6cb4"/><rect x="288.80" y="132.80" width="5.21" height="8.05" fill="#a2b4d6"/><rect x="293.95" y="132.80" width="5.21" height="8.05" fill="#7894c8"/><rect x="299.11" y="132.80" width="5.21" height="8.05" fill="#3c76b9"/><rect x="304.26" y="132.80" width="5.21" height="8.05" fill="#2f6cb4"/><rect x="309.42" y="132.80" width="5.21" height="8.05" fill="#2f6cb4"/><rect x="314.57" y="132.80" width="5.21" height="8.05" fill="#2f6cb4"/><rect x="319.73" y="132.80" width="5.21" height="8.05" fill="#2f6cb4"/><rect x="324.88" y="132.80" width="5.21" height="8.05" fill="#2f6cb4"/><rect x="330.04" y="132.80" width="5.21" height="8.05" fill="#3c76b9"/><rect x="335.19" y="132.80" width="5.21" height="8.05" fill="#2f6cb4"/><rect x="340.35" y="132.80" width="5.21" height="8.05" fill="#3c76b9"/><rect x="345.50" y="132.80" width="5.21" height="8.05" fill="#4a7ebf"/><rect x="350.66" y="132.80" width="5.21" height="8.05" fill="#2f6cb4"/><rect x="355.81" y="132.80" width="5.21" height="8.05" fill="#2f6cb4"/><rect x="360.97" y="132.80" width="5.21" height="8.05" fill="#4a7ebf"/><rect x="366.12" y="132.80" width="5.21" height="8.05" fill="#3c76b9"/><rect x="371.28" y="132.80" width="5.21" height="8.05" fill="#3c76b9"/><rect x="376.43" y="132.80" width="5.21" height="8.05" fill="#2f6cb4"/><rect x="381.59" y="132.80" width="5.21" height="8.05" fill="#2f6cb4"/><rect x="386.74" y="132.80" width="5.21" height="8.05" fill="#3c76b9"/><rect x="391.89" y="132.80" width="5.21" height="8.05" fill="#3c76b9"/><rect x="397.05" y="132.80" width="5.21" height="8.05" fill="#3c76b9"/><rect x="402.21" y="132.80" width="5.21" height="8.05" fill="#2f6cb4"/><rect x="407.36" y="132.80" width="5.21" height="8.05" fill="#2f6cb4"/><rect x="412.52" y="132.80" width="5.21" height="8.05" fill="#3c76b9"/><rect x="417.67" y="132.80" width="5.21" height="8.05" fill="#2f6cb4"/><rect x="422.83" y="132.80" width="5.21" height="8.05" fill="#2f6cb4"/><rect x="427.98" y="132.80" width="5.21" height="8.05" fill="#2f6cb4"/><rect x="433.14" y="132.80" width="5.21" height="8.05" fill="#4a7ebf"/><rect x="438.29" y="132.80" width="5.21" height="8.05" fill="#3c76b9"/><rect x="443.45" y="132.80" width="5.21" height="8.05" fill="#2f6cb4"/><rect x="448.60" y="132.80" width="5.21" height="8.05" fill="#3c76b9"/><rect x="453.76" y="132.80" width="5.21" height="8.05" fill="#3c76b9"/><rect x="458.91" y="132.80" width="5.21" height="8.05" fill="#2f6cb4"/><rect x="464.07" y="132.80" width="5.21" height="8.05" fill="#2f6cb4"/><rect x="469.22" y="132.80" width="5.21" height="8.05" fill="#4a7ebf"/><rect x="474.38" y="132.80" width="5.21" height="8.05" fill="#4a7ebf"/><rect x="479.53" y="132.80" width="5.21" height="8.05" fill="#4a7ebf"/><rect x="484.69" y="132.80" width="5.21" height="8.05" fill="#2f6cb4"/><rect x="489.84" y="132.80" width="5.21" height="8.05" fill="#2f6cb4"/><rect x="495.00" y="132.80" width="5.21" height="8.05" fill="#3c76b9"/><rect x="500.15" y="132.80" width="5.21" height="8.05" fill="#2f6cb4"/><rect x="505.31" y="132.80" width="5.21" height="8.05" fill="#2f6cb4"/><rect x="510.46" y="132.80" width="5.21" height="8.05" fill="#3c76b9"/><rect x="515.62" y="132.80" width="5.21" height="8.05" fill="#3c76b9"/><rect x="520.77" y="132.80" width="5.21" height="8.05" fill="#3c76b9"/><rect x="525.92" y="132.80" width="5.21" height="8.05" fill="#3c76b9"/><rect x="531.08" y="132.80" width="5.21" height="8.05" fill="#2f6cb4"/><rect x="536.24" y="132.80" width="5.21" height="8.05" fill="#3c76b9"/><rect x="541.39" y="132.80" width="5.21" height="8.05" fill="#3c76b9"/><rect x="139.30" y="140.80" width="5.21" height="8.05" fill="#b73d45"/><rect x="144.46" y="140.80" width="5.21" height="8.05" fill="#f5f0f1"/><rect x="149.61" y="140.80" width="5.21" height="8.05" fill="#c75f62"/><rect x="154.77" y="140.80" width="5.21" height="8.05" fill="#dc9899"/><rect x="159.92" y="140.80" width="5.21" height="8.05" fill="#2f6cb4"/><rect x="165.08" y="140.80" width="5.21" height="8.05" fill="#2f6cb4"/><rect x="170.23" y="140.80" width="5.21" height="8.05" fill="#2f6cb4"/><rect x="175.39" y="140.80" width="5.21" height="8.05" fill="#2f6cb4"/><rect x="180.54" y="140.80" width="5.21" height="8.05" fill="#2f6cb4"/><rect x="185.70" y="140.80" width="5.21" height="8.05" fill="#2f6cb4"/><rect x="190.85" y="140.80" width="5.21" height="8.05" fill="#7894c8"/><rect x="196.01" y="140.80" width="5.21" height="8.05" fill="#2f6cb4"/><rect x="201.16" y="140.80" width="5.21" height="8.05" fill="#a2b4d6"/><rect x="206.31" y="140.80" width="5.21" height="8.05" fill="#2f6cb4"/><rect x="211.47" y="140.80" width="5.21" height="8.05" fill="#2f6cb4"/><rect x="216.62" y="140.80" width="5.21" height="8.05" fill="#2f6cb4"/><rect x="221.78" y="140.80" width="5.21" height="8.05" fill="#2f6cb4"/><rect x="226.94" y="140.80" width="5.21" height="8.05" fill="#2f6cb4"/><rect x="232.09" y="140.80" width="5.21" height="8.05" fill="#2f6cb4"/><rect x="237.25" y="140.80" width="5.21" height="8.05" fill="#2f6cb4"/><rect x="242.40" y="140.80" width="5.21" height="8.05" fill="#2f6cb4"/><rect x="247.56" y="140.80" width="5.21" height="8.05" fill="#2f6cb4"/><rect x="252.71" y="140.80" width="5.21" height="8.05" fill="#2f6cb4"/><rect x="257.87" y="140.80" width="5.21" height="8.05" fill="#2f6cb4"/><rect x="263.02" y="140.80" width="5.21" height="8.05" fill="#2f6cb4"/><rect x="268.18" y="140.80" width="5.21" height="8.05" fill="#2f6cb4"/><rect x="273.33" y="140.80" width="5.21" height="8.05" fill="#2f6cb4"/><rect x="278.49" y="140.80" width="5.21" height="8.05" fill="#2f6cb4"/><rect x="283.64" y="140.80" width="5.21" height="8.05" fill="#2f6cb4"/><rect x="288.80" y="140.80" width="5.21" height="8.05" fill="#2f6cb4"/><rect x="293.95" y="140.80" width="5.21" height="8.05" fill="#2f6cb4"/><rect x="299.11" y="140.80" width="5.21" height="8.05" fill="#2f6cb4"/><rect x="304.26" y="140.80" width="5.21" height="8.05" fill="#2f6cb4"/><rect x="309.42" y="140.80" width="5.21" height="8.05" fill="#7894c8"/><rect x="314.57" y="140.80" width="5.21" height="8.05" fill="#7894c8"/><rect x="319.73" y="140.80" width="5.21" height="8.05" fill="#2f6cb4"/><rect x="324.88" y="140.80" width="5.21" height="8.05" fill="#2f6cb4"/><rect x="330.04" y="140.80" width="5.21" height="8.05" fill="#2f6cb4"/><rect x="335.19" y="140.80" width="5.21" height="8.05" fill="#2f6cb4"/><rect x="340.35" y="140.80" width="5.21" height="8.05" fill="#2f6cb4"/><rect x="345.50" y="140.80" width="5.21" height="8.05" fill="#2f6cb4"/><rect x="350.66" y="140.80" width="5.21" height="8.05" fill="#7894c8"/><rect x="355.81" y="140.80" width="5.21" height="8.05" fill="#7894c8"/><rect x="360.97" y="140.80" width="5.21" height="8.05" fill="#7894c8"/><rect x="366.12" y="140.80" width="5.21" height="8.05" fill="#c9d2e5"/><rect x="371.28" y="140.80" width="5.21" height="8.05" fill="#7894c8"/><rect x="376.43" y="140.80" width="5.21" height="8.05" fill="#7894c8"/><rect x="381.59" y="140.80" width="5.21" height="8.05" fill="#2f6cb4"/><rect x="386.74" y="140.80" width="5.21" height="8.05" fill="#2f6cb4"/><rect x="391.89" y="140.80" width="5.21" height="8.05" fill="#2f6cb4"/><rect x="397.05" y="140.80" width="5.21" height="8.05" fill="#2f6cb4"/><rect x="402.21" y="140.80" width="5.21" height="8.05" fill="#a2b4d6"/><rect x="407.36" y="140.80" width="5.21" height="8.05" fill="#2f6cb4"/><rect x="412.52" y="140.80" width="5.21" height="8.05" fill="#2f6cb4"/><rect x="417.67" y="140.80" width="5.21" height="8.05" fill="#2f6cb4"/><rect x="422.83" y="140.80" width="5.21" height="8.05" fill="#2f6cb4"/><rect x="427.98" y="140.80" width="5.21" height="8.05" fill="#2f6cb4"/><rect x="433.14" y="140.80" width="5.21" height="8.05" fill="#c75f62"/><rect x="438.29" y="140.80" width="5.21" height="8.05" fill="#dc9899"/><rect x="443.45" y="140.80" width="5.21" height="8.05" fill="#ecc8c8"/><rect x="448.60" y="140.80" width="5.21" height="8.05" fill="#a2b4d6"/><rect x="453.76" y="140.80" width="5.21" height="8.05" fill="#2f6cb4"/><rect x="458.91" y="140.80" width="5.21" height="8.05" fill="#2f6cb4"/><rect x="464.07" y="140.80" width="5.21" height="8.05" fill="#2f6cb4"/><rect x="469.22" y="140.80" width="5.21" height="8.05" fill="#2f6cb4"/><rect x="474.38" y="140.80" width="5.21" height="8.05" fill="#f5f0f1"/><rect x="479.53" y="140.80" width="5.21" height="8.05" fill="#ecc8c8"/><rect x="484.69" y="140.80" width="5.21" height="8.05" fill="#c9d2e5"/><rect x="489.84" y="140.80" width="5.21" height="8.05" fill="#dc9899"/><rect x="495.00" y="140.80" width="5.21" height="8.05" fill="#f5f0f1"/><rect x="500.15" y="140.80" width="5.21" height="8.05" fill="#2f6cb4"/><rect x="505.31" y="140.80" width="5.21" height="8.05" fill="#2f6cb4"/><rect x="510.46" y="140.80" width="5.21" height="8.05" fill="#2f6cb4"/><rect x="515.62" y="140.80" width="5.21" height="8.05" fill="#2f6cb4"/><rect x="520.77" y="140.80" width="5.21" height="8.05" fill="#c75f62"/><rect x="525.92" y="140.80" width="5.21" height="8.05" fill="#dc9899"/><rect x="531.08" y="140.80" width="5.21" height="8.05" fill="#c75f62"/><rect x="536.24" y="140.80" width="5.21" height="8.05" fill="#ecc8c8"/><rect x="541.39" y="140.80" width="5.21" height="8.05" fill="#dc9899"/><rect x="139.30" y="148.80" width="5.21" height="8.05" fill="#ecc8c8"/><rect x="144.46" y="148.80" width="5.21" height="8.05" fill="#2f6cb4"/><rect x="149.61" y="148.80" width="5.21" height="8.05" fill="#2f6cb4"/><rect x="154.77" y="148.80" width="5.21" height="8.05" fill="#2f6cb4"/><rect x="159.92" y="148.80" width="5.21" height="8.05" fill="#2f6cb4"/><rect x="165.08" y="148.80" width="5.21" height="8.05" fill="#a2b4d6"/><rect x="170.23" y="148.80" width="5.21" height="8.05" fill="#2f6cb4"/><rect x="175.39" y="148.80" width="5.21" height="8.05" fill="#2f6cb4"/><rect x="180.54" y="148.80" width="5.21" height="8.05" fill="#2f6cb4"/><rect x="185.70" y="148.80" width="5.21" height="8.05" fill="#a2b4d6"/><rect x="190.85" y="148.80" width="5.21" height="8.05" fill="#7894c8"/><rect x="196.01" y="148.80" width="5.21" height="8.05" fill="#2f6cb4"/><rect x="201.16" y="148.80" width="5.21" height="8.05" fill="#7894c8"/><rect x="206.31" y="148.80" width="5.21" height="8.05" fill="#2f6cb4"/><rect x="211.47" y="148.80" width="5.21" height="8.05" fill="#2f6cb4"/><rect x="216.62" y="148.80" width="5.21" height="8.05" fill="#2f6cb4"/><rect x="221.78" y="148.80" width="5.21" height="8.05" fill="#2f6cb4"/><rect x="226.94" y="148.80" width="5.21" height="8.05" fill="#2f6cb4"/><rect x="232.09" y="148.80" width="5.21" height="8.05" fill="#a2b4d6"/><rect x="237.25" y="148.80" width="5.21" height="8.05" fill="#c9d2e5"/><rect x="242.40" y="148.80" width="5.21" height="8.05" fill="#2f6cb4"/><rect x="247.56" y="148.80" width="5.21" height="8.05" fill="#2f6cb4"/><rect x="252.71" y="148.80" width="5.21" height="8.05" fill="#2f6cb4"/><rect x="257.87" y="148.80" width="5.21" height="8.05" fill="#a2b4d6"/><rect x="263.02" y="148.80" width="5.21" height="8.05" fill="#a2b4d6"/><rect x="268.18" y="148.80" width="5.21" height="8.05" fill="#a2b4d6"/><rect x="273.33" y="148.80" width="5.21" height="8.05" fill="#7894c8"/><rect x="278.49" y="148.80" width="5.21" height="8.05" fill="#2f6cb4"/><rect x="283.64" y="148.80" width="5.21" height="8.05" fill="#2f6cb4"/><rect x="288.80" y="148.80" width="5.21" height="8.05" fill="#f5f0f1"/><rect x="293.95" y="148.80" width="5.21" height="8.05" fill="#2f6cb4"/><rect x="299.11" y="148.80" width="5.21" height="8.05" fill="#a2b4d6"/><rect x="304.26" y="148.80" width="5.21" height="8.05" fill="#a2b4d6"/><rect x="309.42" y="148.80" width="5.21" height="8.05" fill="#7894c8"/><rect x="314.57" y="148.80" width="5.21" height="8.05" fill="#c9d2e5"/><rect x="319.73" y="148.80" width="5.21" height="8.05" fill="#c9d2e5"/><rect x="324.88" y="148.80" width="5.21" height="8.05" fill="#a2b4d6"/><rect x="330.04" y="148.80" width="5.21" height="8.05" fill="#2f6cb4"/><rect x="335.19" y="148.80" width="5.21" height="8.05" fill="#a2b4d6"/><rect x="340.35" y="148.80" width="5.21" height="8.05" fill="#a2b4d6"/><rect x="345.50" y="148.80" width="5.21" height="8.05" fill="#7894c8"/><rect x="350.66" y="148.80" width="5.21" height="8.05" fill="#a2b4d6"/><rect x="355.81" y="148.80" width="5.21" height="8.05" fill="#a2b4d6"/><rect x="360.97" y="148.80" width="5.21" height="8.05" fill="#c9d2e5"/><rect x="366.12" y="148.80" width="5.21" height="8.05" fill="#a2b4d6"/><rect x="371.28" y="148.80" width="5.21" height="8.05" fill="#2f6cb4"/><rect x="376.43" y="148.80" width="5.21" height="8.05" fill="#a2b4d6"/><rect x="381.59" y="148.80" width="5.21" height="8.05" fill="#a2b4d6"/><rect x="386.74" y="148.80" width="5.21" height="8.05" fill="#f5f0f1"/><rect x="391.89" y="148.80" width="5.21" height="8.05" fill="#c9d2e5"/><rect x="397.05" y="148.80" width="5.21" height="8.05" fill="#c9d2e5"/><rect x="402.21" y="148.80" width="5.21" height="8.05" fill="#2f6cb4"/><rect x="407.36" y="148.80" width="5.21" height="8.05" fill="#2f6cb4"/><rect x="412.52" y="148.80" width="5.21" height="8.05" fill="#a2b4d6"/><rect x="417.67" y="148.80" width="5.21" height="8.05" fill="#a2b4d6"/><rect x="422.83" y="148.80" width="5.21" height="8.05" fill="#a2b4d6"/><rect x="427.98" y="148.80" width="5.21" height="8.05" fill="#a2b4d6"/><rect x="433.14" y="148.80" width="5.21" height="8.05" fill="#c75f62"/><rect x="438.29" y="148.80" width="5.21" height="8.05" fill="#dc9899"/><rect x="443.45" y="148.80" width="5.21" height="8.05" fill="#ecc8c8"/><rect x="448.60" y="148.80" width="5.21" height="8.05" fill="#c9d2e5"/><rect x="453.76" y="148.80" width="5.21" height="8.05" fill="#c9d2e5"/><rect x="458.91" y="148.80" width="5.21" height="8.05" fill="#ecc8c8"/><rect x="464.07" y="148.80" width="5.21" height="8.05" fill="#c9d2e5"/><rect x="469.22" y="148.80" width="5.21" height="8.05" fill="#f5f0f1"/><rect x="474.38" y="148.80" width="5.21" height="8.05" fill="#f5f0f1"/><rect x="479.53" y="148.80" width="5.21" height="8.05" fill="#ecc8c8"/><rect x="484.69" y="148.80" width="5.21" height="8.05" fill="#c9d2e5"/><rect x="489.84" y="148.80" width="5.21" height="8.05" fill="#2f6cb4"/><rect x="495.00" y="148.80" width="5.21" height="8.05" fill="#2f6cb4"/><rect x="500.15" y="148.80" width="5.21" height="8.05" fill="#dc9899"/><rect x="505.31" y="148.80" width="5.21" height="8.05" fill="#dc9899"/><rect x="510.46" y="148.80" width="5.21" height="8.05" fill="#a2b4d6"/><rect x="515.62" y="148.80" width="5.21" height="8.05" fill="#ecc8c8"/><rect x="520.77" y="148.80" width="5.21" height="8.05" fill="#c9d2e5"/><rect x="525.92" y="148.80" width="5.21" height="8.05" fill="#2f6cb4"/><rect x="531.08" y="148.80" width="5.21" height="8.05" fill="#c75f62"/><rect x="536.24" y="148.80" width="5.21" height="8.05" fill="#ecc8c8"/><rect x="541.39" y="148.80" width="5.21" height="8.05" fill="#dc9899"/><rect x="139.30" y="156.80" width="5.21" height="8.05" fill="#2f6cb4"/><rect x="144.46" y="156.80" width="5.21" height="8.05" fill="#c9d2e5"/><rect x="149.61" y="156.80" width="5.21" height="8.05" fill="#c9d2e5"/><rect x="154.77" y="156.80" width="5.21" height="8.05" fill="#c9d2e5"/><rect x="159.92" y="156.80" width="5.21" height="8.05" fill="#ecc8c8"/><rect x="165.08" y="156.80" width="5.21" height="8.05" fill="#f5f0f1"/><rect x="170.23" y="156.80" width="5.21" height="8.05" fill="#c9d2e5"/><rect x="175.39" y="156.80" width="5.21" height="8.05" fill="#f5f0f1"/><rect x="180.54" y="156.80" width="5.21" height="8.05" fill="#a2b4d6"/><rect x="185.70" y="156.80" width="5.21" height="8.05" fill="#a2b4d6"/><rect x="190.85" y="156.80" width="5.21" height="8.05" fill="#4a7ebf"/><rect x="196.01" y="156.80" width="5.21" height="8.05" fill="#2f6cb4"/><rect x="201.16" y="156.80" width="5.21" height="8.05" fill="#2f6cb4"/><rect x="206.31" y="156.80" width="5.21" height="8.05" fill="#2f6cb4"/><rect x="211.47" y="156.80" width="5.21" height="8.05" fill="#4a7ebf"/><rect x="216.62" y="156.80" width="5.21" height="8.05" fill="#7894c8"/><rect x="221.78" y="156.80" width="5.21" height="8.05" fill="#2f6cb4"/><rect x="226.94" y="156.80" width="5.21" height="8.05" fill="#7894c8"/><rect x="232.09" y="156.80" width="5.21" height="8.05" fill="#2f6cb4"/><rect x="237.25" y="156.80" width="5.21" height="8.05" fill="#2f6cb4"/><rect x="242.40" y="156.80" width="5.21" height="8.05" fill="#a2b4d6"/><rect x="247.56" y="156.80" width="5.21" height="8.05" fill="#2f6cb4"/><rect x="252.71" y="156.80" width="5.21" height="8.05" fill="#a2b4d6"/><rect x="257.87" y="156.80" width="5.21" height="8.05" fill="#2f6cb4"/><rect x="263.02" y="156.80" width="5.21" height="8.05" fill="#2f6cb4"/><rect x="268.18" y="156.80" width="5.21" height="8.05" fill="#2f6cb4"/><rect x="273.33" y="156.80" width="5.21" height="8.05" fill="#2f6cb4"/><rect x="278.49" y="156.80" width="5.21" height="8.05" fill="#2f6cb4"/><rect x="283.64" y="156.80" width="5.21" height="8.05" fill="#2f6cb4"/><rect x="288.80" y="156.80" width="5.21" height="8.05" fill="#4a7ebf"/><rect x="293.95" y="156.80" width="5.21" height="8.05" fill="#4a7ebf"/><rect x="299.11" y="156.80" width="5.21" height="8.05" fill="#2f6cb4"/><rect x="304.26" y="156.80" width="5.21" height="8.05" fill="#2f6cb4"/><rect x="309.42" y="156.80" width="5.21" height="8.05" fill="#2f6cb4"/><rect x="314.57" y="156.80" width="5.21" height="8.05" fill="#2f6cb4"/><rect x="319.73" y="156.80" width="5.21" height="8.05" fill="#2f6cb4"/><rect x="324.88" y="156.80" width="5.21" height="8.05" fill="#2f6cb4"/><rect x="330.04" y="156.80" width="5.21" height="8.05" fill="#2f6cb4"/><rect x="335.19" y="156.80" width="5.21" height="8.05" fill="#a2b4d6"/><rect x="340.35" y="156.80" width="5.21" height="8.05" fill="#4a7ebf"/><rect x="345.50" y="156.80" width="5.21" height="8.05" fill="#2f6cb4"/><rect x="350.66" y="156.80" width="5.21" height="8.05" fill="#a2b4d6"/><rect x="355.81" y="156.80" width="5.21" height="8.05" fill="#f5f0f1"/><rect x="360.97" y="156.80" width="5.21" height="8.05" fill="#a2b4d6"/><rect x="366.12" y="156.80" width="5.21" height="8.05" fill="#f5f0f1"/><rect x="371.28" y="156.80" width="5.21" height="8.05" fill="#7894c8"/><rect x="376.43" y="156.80" width="5.21" height="8.05" fill="#c9d2e5"/><rect x="381.59" y="156.80" width="5.21" height="8.05" fill="#ecc8c8"/><rect x="386.74" y="156.80" width="5.21" height="8.05" fill="#2f6cb4"/><rect x="391.89" y="156.80" width="5.21" height="8.05" fill="#2f6cb4"/><rect x="397.05" y="156.80" width="5.21" height="8.05" fill="#7894c8"/><rect x="402.21" y="156.80" width="5.21" height="8.05" fill="#2f6cb4"/><rect x="407.36" y="156.80" width="5.21" height="8.05" fill="#a2b4d6"/><rect x="412.52" y="156.80" width="5.21" height="8.05" fill="#f5f0f1"/><rect x="417.67" y="156.80" width="5.21" height="8.05" fill="#f5f0f1"/><rect x="422.83" y="156.80" width="5.21" height="8.05" fill="#2f6cb4"/><rect x="427.98" y="156.80" width="5.21" height="8.05" fill="#a2b4d6"/><rect x="433.14" y="156.80" width="5.21" height="8.05" fill="#7894c8"/><rect x="438.29" y="156.80" width="5.21" height="8.05" fill="#2f6cb4"/><rect x="443.45" y="156.80" width="5.21" height="8.05" fill="#c75f62"/><rect x="448.60" y="156.80" width="5.21" height="8.05" fill="#dc9899"/><rect x="453.76" y="156.80" width="5.21" height="8.05" fill="#c9d2e5"/><rect x="458.91" y="156.80" width="5.21" height="8.05" fill="#f5f0f1"/><rect x="464.07" y="156.80" width="5.21" height="8.05" fill="#a2b4d6"/><rect x="469.22" y="156.80" width="5.21" height="8.05" fill="#c9d2e5"/><rect x="474.38" y="156.80" width="5.21" height="8.05" fill="#7894c8"/><rect x="479.53" y="156.80" width="5.21" height="8.05" fill="#2f6cb4"/><rect x="484.69" y="156.80" width="5.21" height="8.05" fill="#7894c8"/><rect x="489.84" y="156.80" width="5.21" height="8.05" fill="#c9d2e5"/><rect x="495.00" y="156.80" width="5.21" height="8.05" fill="#f5f0f1"/><rect x="500.15" y="156.80" width="5.21" height="8.05" fill="#ecc8c8"/><rect x="505.31" y="156.80" width="5.21" height="8.05" fill="#c75f62"/><rect x="510.46" y="156.80" width="5.21" height="8.05" fill="#f5f0f1"/><rect x="515.62" y="156.80" width="5.21" height="8.05" fill="#f5f0f1"/><rect x="520.77" y="156.80" width="5.21" height="8.05" fill="#ecc8c8"/><rect x="525.92" y="156.80" width="5.21" height="8.05" fill="#f5f0f1"/><rect x="531.08" y="156.80" width="5.21" height="8.05" fill="#a2b4d6"/><rect x="536.24" y="156.80" width="5.21" height="8.05" fill="#7894c8"/><rect x="541.39" y="156.80" width="5.21" height="8.05" fill="#c9d2e5"/><rect x="139.30" y="164.80" width="5.21" height="8.05" fill="#3c76b9"/><rect x="144.46" y="164.80" width="5.21" height="8.05" fill="#a2b4d6"/><rect x="149.61" y="164.80" width="5.21" height="8.05" fill="#2f6cb4"/><rect x="154.77" y="164.80" width="5.21" height="8.05" fill="#2f6cb4"/><rect x="159.92" y="164.80" width="5.21" height="8.05" fill="#2f6cb4"/><rect x="165.08" y="164.80" width="5.21" height="8.05" fill="#2f6cb4"/><rect x="170.23" y="164.80" width="5.21" height="8.05" fill="#2f6cb4"/><rect x="175.39" y="164.80" width="5.21" height="8.05" fill="#2f6cb4"/><rect x="180.54" y="164.80" width="5.21" height="8.05" fill="#2f6cb4"/><rect x="185.70" y="164.80" width="5.21" height="8.05" fill="#2f6cb4"/><rect x="190.85" y="164.80" width="5.21" height="8.05" fill="#7894c8"/><rect x="196.01" y="164.80" width="5.21" height="8.05" fill="#2f6cb4"/><rect x="201.16" y="164.80" width="5.21" height="8.05" fill="#2f6cb4"/><rect x="206.31" y="164.80" width="5.21" height="8.05" fill="#3c76b9"/><rect x="211.47" y="164.80" width="5.21" height="8.05" fill="#2f6cb4"/><rect x="216.62" y="164.80" width="5.21" height="8.05" fill="#3c76b9"/><rect x="221.78" y="164.80" width="5.21" height="8.05" fill="#3c76b9"/><rect x="226.94" y="164.80" width="5.21" height="8.05" fill="#2f6cb4"/><rect x="232.09" y="164.80" width="5.21" height="8.05" fill="#3c76b9"/><rect x="237.25" y="164.80" width="5.21" height="8.05" fill="#2f6cb4"/><rect x="242.40" y="164.80" width="5.21" height="8.05" fill="#2f6cb4"/><rect x="247.56" y="164.80" width="5.21" height="8.05" fill="#2f6cb4"/><rect x="252.71" y="164.80" width="5.21" height="8.05" fill="#2f6cb4"/><rect x="257.87" y="164.80" width="5.21" height="8.05" fill="#2f6cb4"/><rect x="263.02" y="164.80" width="5.21" height="8.05" fill="#2f6cb4"/><rect x="268.18" y="164.80" width="5.21" height="8.05" fill="#2f6cb4"/><rect x="273.33" y="164.80" width="5.21" height="8.05" fill="#3c76b9"/><rect x="278.49" y="164.80" width="5.21" height="8.05" fill="#2f6cb4"/><rect x="283.64" y="164.80" width="5.21" height="8.05" fill="#2f6cb4"/><rect x="288.80" y="164.80" width="5.21" height="8.05" fill="#7894c8"/><rect x="293.95" y="164.80" width="5.21" height="8.05" fill="#2f6cb4"/><rect x="299.11" y="164.80" width="5.21" height="8.05" fill="#ecc8c8"/><rect x="304.26" y="164.80" width="5.21" height="8.05" fill="#2f6cb4"/><rect x="309.42" y="164.80" width="5.21" height="8.05" fill="#2f6cb4"/><rect x="314.57" y="164.80" width="5.21" height="8.05" fill="#7894c8"/><rect x="319.73" y="164.80" width="5.21" height="8.05" fill="#a2b4d6"/><rect x="324.88" y="164.80" width="5.21" height="8.05" fill="#2f6cb4"/><rect x="330.04" y="164.80" width="5.21" height="8.05" fill="#2f6cb4"/><rect x="335.19" y="164.80" width="5.21" height="8.05" fill="#2f6cb4"/><rect x="340.35" y="164.80" width="5.21" height="8.05" fill="#2f6cb4"/><rect x="345.50" y="164.80" width="5.21" height="8.05" fill="#7894c8"/><rect x="350.66" y="164.80" width="5.21" height="8.05" fill="#7894c8"/><rect x="355.81" y="164.80" width="5.21" height="8.05" fill="#7894c8"/><rect x="360.97" y="164.80" width="5.21" height="8.05" fill="#2f6cb4"/><rect x="366.12" y="164.80" width="5.21" height="8.05" fill="#2f6cb4"/><rect x="371.28" y="164.80" width="5.21" height="8.05" fill="#2f6cb4"/><rect x="376.43" y="164.80" width="5.21" height="8.05" fill="#2f6cb4"/><rect x="381.59" y="164.80" width="5.21" height="8.05" fill="#2f6cb4"/><rect x="386.74" y="164.80" width="5.21" height="8.05" fill="#2f6cb4"/><rect x="391.89" y="164.80" width="5.21" height="8.05" fill="#2f6cb4"/><rect x="397.05" y="164.80" width="5.21" height="8.05" fill="#2f6cb4"/><rect x="402.21" y="164.80" width="5.21" height="8.05" fill="#2f6cb4"/><rect x="407.36" y="164.80" width="5.21" height="8.05" fill="#2f6cb4"/><rect x="412.52" y="164.80" width="5.21" height="8.05" fill="#7894c8"/><rect x="417.67" y="164.80" width="5.21" height="8.05" fill="#2f6cb4"/><rect x="422.83" y="164.80" width="5.21" height="8.05" fill="#2f6cb4"/><rect x="427.98" y="164.80" width="5.21" height="8.05" fill="#2f6cb4"/><rect x="433.14" y="164.80" width="5.21" height="8.05" fill="#2f6cb4"/><rect x="438.29" y="164.80" width="5.21" height="8.05" fill="#2f6cb4"/><rect x="443.45" y="164.80" width="5.21" height="8.05" fill="#3c76b9"/><rect x="448.60" y="164.80" width="5.21" height="8.05" fill="#3c76b9"/><rect x="453.76" y="164.80" width="5.21" height="8.05" fill="#2f6cb4"/><rect x="458.91" y="164.80" width="5.21" height="8.05" fill="#3c76b9"/><rect x="464.07" y="164.80" width="5.21" height="8.05" fill="#2f6cb4"/><rect x="469.22" y="164.80" width="5.21" height="8.05" fill="#3c76b9"/><rect x="474.38" y="164.80" width="5.21" height="8.05" fill="#2f6cb4"/><rect x="479.53" y="164.80" width="5.21" height="8.05" fill="#2f6cb4"/><rect x="484.69" y="164.80" width="5.21" height="8.05" fill="#2f6cb4"/><rect x="489.84" y="164.80" width="5.21" height="8.05" fill="#3c76b9"/><rect x="495.00" y="164.80" width="5.21" height="8.05" fill="#2f6cb4"/><rect x="500.15" y="164.80" width="5.21" height="8.05" fill="#dc9899"/><rect x="505.31" y="164.80" width="5.21" height="8.05" fill="#dc9899"/><rect x="510.46" y="164.80" width="5.21" height="8.05" fill="#2f6cb4"/><rect x="515.62" y="164.80" width="5.21" height="8.05" fill="#ecc8c8"/><rect x="520.77" y="164.80" width="5.21" height="8.05" fill="#ecc8c8"/><rect x="525.92" y="164.80" width="5.21" height="8.05" fill="#dc9899"/><rect x="531.08" y="164.80" width="5.21" height="8.05" fill="#3c76b9"/><rect x="536.24" y="164.80" width="5.21" height="8.05" fill="#2f6cb4"/><rect x="541.39" y="164.80" width="5.21" height="8.05" fill="#2f6cb4"/><rect x="139.30" y="172.80" width="5.21" height="8.05" fill="#2f6cb4"/><rect x="144.46" y="172.80" width="5.21" height="8.05" fill="#2f6cb4"/><rect x="149.61" y="172.80" width="5.21" height="8.05" fill="#2f6cb4"/><rect x="154.77" y="172.80" width="5.21" height="8.05" fill="#4a7ebf"/><rect x="159.92" y="172.80" width="5.21" height="8.05" fill="#a2b4d6"/><rect x="165.08" y="172.80" width="5.21" height="8.05" fill="#2f6cb4"/><rect x="170.23" y="172.80" width="5.21" height="8.05" fill="#2f6cb4"/><rect x="175.39" y="172.80" width="5.21" height="8.05" fill="#a2b4d6"/><rect x="180.54" y="172.80" width="5.21" height="8.05" fill="#2f6cb4"/><rect x="185.70" y="172.80" width="5.21" height="8.05" fill="#3c76b9"/><rect x="190.85" y="172.80" width="5.21" height="8.05" fill="#2f6cb4"/><rect x="196.01" y="172.80" width="5.21" height="8.05" fill="#2f6cb4"/><rect x="201.16" y="172.80" width="5.21" height="8.05" fill="#2f6cb4"/><rect x="206.31" y="172.80" width="5.21" height="8.05" fill="#3c76b9"/><rect x="211.47" y="172.80" width="5.21" height="8.05" fill="#2f6cb4"/><rect x="216.62" y="172.80" width="5.21" height="8.05" fill="#2f6cb4"/><rect x="221.78" y="172.80" width="5.21" height="8.05" fill="#4a7ebf"/><rect x="226.94" y="172.80" width="5.21" height="8.05" fill="#3c76b9"/><rect x="232.09" y="172.80" width="5.21" height="8.05" fill="#2f6cb4"/><rect x="237.25" y="172.80" width="5.21" height="8.05" fill="#4a7ebf"/><rect x="242.40" y="172.80" width="5.21" height="8.05" fill="#2f6cb4"/><rect x="247.56" y="172.80" width="5.21" height="8.05" fill="#3c76b9"/><rect x="252.71" y="172.80" width="5.21" height="8.05" fill="#2f6cb4"/><rect x="257.87" y="172.80" width="5.21" height="8.05" fill="#4a7ebf"/><rect x="263.02" y="172.80" width="5.21" height="8.05" fill="#2f6cb4"/><rect x="268.18" y="172.80" width="5.21" height="8.05" fill="#2f6cb4"/><rect x="273.33" y="172.80" width="5.21" height="8.05" fill="#3c76b9"/><rect x="278.49" y="172.80" width="5.21" height="8.05" fill="#a2b4d6"/><rect x="283.64" y="172.80" width="5.21" height="8.05" fill="#4a7ebf"/><rect x="288.80" y="172.80" width="5.21" height="8.05" fill="#7894c8"/><rect x="293.95" y="172.80" width="5.21" height="8.05" fill="#4a7ebf"/><rect x="299.11" y="172.80" width="5.21" height="8.05" fill="#2f6cb4"/><rect x="304.26" y="172.80" width="5.21" height="8.05" fill="#2f6cb4"/><rect x="309.42" y="172.80" width="5.21" height="8.05" fill="#a2b4d6"/><rect x="314.57" y="172.80" width="5.21" height="8.05" fill="#2f6cb4"/><rect x="319.73" y="172.80" width="5.21" height="8.05" fill="#3c76b9"/><rect x="324.88" y="172.80" width="5.21" height="8.05" fill="#2f6cb4"/><rect x="330.04" y="172.80" width="5.21" height="8.05" fill="#3c76b9"/><rect x="335.19" y="172.80" width="5.21" height="8.05" fill="#2f6cb4"/><rect x="340.35" y="172.80" width="5.21" height="8.05" fill="#2f6cb4"/><rect x="345.50" y="172.80" width="5.21" height="8.05" fill="#4a7ebf"/><rect x="350.66" y="172.80" width="5.21" height="8.05" fill="#3c76b9"/><rect x="355.81" y="172.80" width="5.21" height="8.05" fill="#2f6cb4"/><rect x="360.97" y="172.80" width="5.21" height="8.05" fill="#7894c8"/><rect x="366.12" y="172.80" width="5.21" height="8.05" fill="#2f6cb4"/><rect x="371.28" y="172.80" width="5.21" height="8.05" fill="#2f6cb4"/><rect x="376.43" y="172.80" width="5.21" height="8.05" fill="#2f6cb4"/><rect x="381.59" y="172.80" width="5.21" height="8.05" fill="#3c76b9"/><rect x="386.74" y="172.80" width="5.21" height="8.05" fill="#2f6cb4"/><rect x="391.89" y="172.80" width="5.21" height="8.05" fill="#2f6cb4"/><rect x="397.05" y="172.80" width="5.21" height="8.05" fill="#2f6cb4"/><rect x="402.21" y="172.80" width="5.21" height="8.05" fill="#3c76b9"/><rect x="407.36" y="172.80" width="5.21" height="8.05" fill="#3c76b9"/><rect x="412.52" y="172.80" width="5.21" height="8.05" fill="#2f6cb4"/><rect x="417.67" y="172.80" width="5.21" height="8.05" fill="#2f6cb4"/><rect x="422.83" y="172.80" width="5.21" height="8.05" fill="#3c76b9"/><rect x="427.98" y="172.80" width="5.21" height="8.05" fill="#2f6cb4"/><rect x="433.14" y="172.80" width="5.21" height="8.05" fill="#f5f0f1"/><rect x="438.29" y="172.80" width="5.21" height="8.05" fill="#a2b4d6"/><rect x="443.45" y="172.80" width="5.21" height="8.05" fill="#f5f0f1"/><rect x="448.60" y="172.80" width="5.21" height="8.05" fill="#f5f0f1"/><rect x="453.76" y="172.80" width="5.21" height="8.05" fill="#2f6cb4"/><rect x="458.91" y="172.80" width="5.21" height="8.05" fill="#7894c8"/><rect x="464.07" y="172.80" width="5.21" height="8.05" fill="#7894c8"/><rect x="469.22" y="172.80" width="5.21" height="8.05" fill="#a2b4d6"/><rect x="474.38" y="172.80" width="5.21" height="8.05" fill="#2f6cb4"/><rect x="479.53" y="172.80" width="5.21" height="8.05" fill="#3c76b9"/><rect x="484.69" y="172.80" width="5.21" height="8.05" fill="#2f6cb4"/><rect x="489.84" y="172.80" width="5.21" height="8.05" fill="#3c76b9"/><rect x="495.00" y="172.80" width="5.21" height="8.05" fill="#4a7ebf"/><rect x="500.15" y="172.80" width="5.21" height="8.05" fill="#2f6cb4"/><rect x="505.31" y="172.80" width="5.21" height="8.05" fill="#7894c8"/><rect x="510.46" y="172.80" width="5.21" height="8.05" fill="#2f6cb4"/><rect x="515.62" y="172.80" width="5.21" height="8.05" fill="#2f6cb4"/><rect x="520.77" y="172.80" width="5.21" height="8.05" fill="#f5f0f1"/><rect x="525.92" y="172.80" width="5.21" height="8.05" fill="#2f6cb4"/><rect x="531.08" y="172.80" width="5.21" height="8.05" fill="#c9d2e5"/><rect x="536.24" y="172.80" width="5.21" height="8.05" fill="#7894c8"/><rect x="541.39" y="172.80" width="5.21" height="8.05" fill="#7894c8"/><rect x="139.30" y="180.80" width="5.21" height="8.05" fill="#7894c8"/><rect x="144.46" y="180.80" width="5.21" height="8.05" fill="#4a7ebf"/><rect x="149.61" y="180.80" width="5.21" height="8.05" fill="#4a7ebf"/><rect x="154.77" y="180.80" width="5.21" height="8.05" fill="#7894c8"/><rect x="159.92" y="180.80" width="5.21" height="8.05" fill="#f5f0f1"/><rect x="165.08" y="180.80" width="5.21" height="8.05" fill="#a2b4d6"/><rect x="170.23" y="180.80" width="5.21" height="8.05" fill="#c9d2e5"/><rect x="175.39" y="180.80" width="5.21" height="8.05" fill="#c9d2e5"/><rect x="180.54" y="180.80" width="5.21" height="8.05" fill="#2f6cb4"/><rect x="185.70" y="180.80" width="5.21" height="8.05" fill="#2f6cb4"/><rect x="190.85" y="180.80" width="5.21" height="8.05" fill="#2f6cb4"/><rect x="196.01" y="180.80" width="5.21" height="8.05" fill="#2f6cb4"/><rect x="201.16" y="180.80" width="5.21" height="8.05" fill="#4a7ebf"/><rect x="206.31" y="180.80" width="5.21" height="8.05" fill="#2f6cb4"/><rect x="211.47" y="180.80" width="5.21" height="8.05" fill="#2f6cb4"/><rect x="216.62" y="180.80" width="5.21" height="8.05" fill="#2f6cb4"/><rect x="221.78" y="180.80" width="5.21" height="8.05" fill="#7894c8"/><rect x="226.94" y="180.80" width="5.21" height="8.05" fill="#7894c8"/><rect x="232.09" y="180.80" width="5.21" height="8.05" fill="#2f6cb4"/><rect x="237.25" y="180.80" width="5.21" height="8.05" fill="#2f6cb4"/><rect x="242.40" y="180.80" width="5.21" height="8.05" fill="#2f6cb4"/><rect x="247.56" y="180.80" width="5.21" height="8.05" fill="#2f6cb4"/><rect x="252.71" y="180.80" width="5.21" height="8.05" fill="#a2b4d6"/><rect x="257.87" y="180.80" width="5.21" height="8.05" fill="#a2b4d6"/><rect x="263.02" y="180.80" width="5.21" height="8.05" fill="#4a7ebf"/><rect x="268.18" y="180.80" width="5.21" height="8.05" fill="#2f6cb4"/><rect x="273.33" y="180.80" width="5.21" height="8.05" fill="#2f6cb4"/><rect x="278.49" y="180.80" width="5.21" height="8.05" fill="#c9d2e5"/><rect x="283.64" y="180.80" width="5.21" height="8.05" fill="#7894c8"/><rect x="288.80" y="180.80" width="5.21" height="8.05" fill="#f5f0f1"/><rect x="293.95" y="180.80" width="5.21" height="8.05" fill="#f5f0f1"/><rect x="299.11" y="180.80" width="5.21" height="8.05" fill="#4a7ebf"/><rect x="304.26" y="180.80" width="5.21" height="8.05" fill="#2f6cb4"/><rect x="309.42" y="180.80" width="5.21" height="8.05" fill="#2f6cb4"/><rect x="314.57" y="180.80" width="5.21" height="8.05" fill="#2f6cb4"/><rect x="319.73" y="180.80" width="5.21" height="8.05" fill="#2f6cb4"/><rect x="324.88" y="180.80" width="5.21" height="8.05" fill="#7894c8"/><rect x="330.04" y="180.80" width="5.21" height="8.05" fill="#2f6cb4"/><rect x="335.19" y="180.80" width="5.21" height="8.05" fill="#2f6cb4"/><rect x="340.35" y="180.80" width="5.21" height="8.05" fill="#2f6cb4"/><rect x="345.50" y="180.80" width="5.21" height="8.05" fill="#f5f0f1"/><rect x="350.66" y="180.80" width="5.21" height="8.05" fill="#2f6cb4"/><rect x="355.81" y="180.80" width="5.21" height="8.05" fill="#4a7ebf"/><rect x="360.97" y="180.80" width="5.21" height="8.05" fill="#7894c8"/><rect x="366.12" y="180.80" width="5.21" height="8.05" fill="#c9d2e5"/><rect x="371.28" y="180.80" width="5.21" height="8.05" fill="#2f6cb4"/><rect x="376.43" y="180.80" width="5.21" height="8.05" fill="#a2b4d6"/><rect x="381.59" y="180.80" width="5.21" height="8.05" fill="#c9d2e5"/><rect x="386.74" y="180.80" width="5.21" height="8.05" fill="#2f6cb4"/><rect x="391.89" y="180.80" width="5.21" height="8.05" fill="#2f6cb4"/><rect x="397.05" y="180.80" width="5.21" height="8.05" fill="#7894c8"/><rect x="402.21" y="180.80" width="5.21" height="8.05" fill="#2f6cb4"/><rect x="407.36" y="180.80" width="5.21" height="8.05" fill="#2f6cb4"/><rect x="412.52" y="180.80" width="5.21" height="8.05" fill="#c9d2e5"/><rect x="417.67" y="180.80" width="5.21" height="8.05" fill="#2f6cb4"/><rect x="422.83" y="180.80" width="5.21" height="8.05" fill="#2f6cb4"/><rect x="427.98" y="180.80" width="5.21" height="8.05" fill="#4a7ebf"/><rect x="433.14" y="180.80" width="5.21" height="8.05" fill="#ecc8c8"/><rect x="438.29" y="180.80" width="5.21" height="8.05" fill="#c9d2e5"/><rect x="443.45" y="180.80" width="5.21" height="8.05" fill="#a2b4d6"/><rect x="448.60" y="180.80" width="5.21" height="8.05" fill="#f5f0f1"/><rect x="453.76" y="180.80" width="5.21" height="8.05" fill="#2f6cb4"/><rect x="458.91" y="180.80" width="5.21" height="8.05" fill="#a2b4d6"/><rect x="464.07" y="180.80" width="5.21" height="8.05" fill="#7894c8"/><rect x="469.22" y="180.80" width="5.21" height="8.05" fill="#a2b4d6"/><rect x="474.38" y="180.80" width="5.21" height="8.05" fill="#2f6cb4"/><rect x="479.53" y="180.80" width="5.21" height="8.05" fill="#4a7ebf"/><rect x="484.69" y="180.80" width="5.21" height="8.05" fill="#2f6cb4"/><rect x="489.84" y="180.80" width="5.21" height="8.05" fill="#f5f0f1"/><rect x="495.00" y="180.80" width="5.21" height="8.05" fill="#7894c8"/><rect x="500.15" y="180.80" width="5.21" height="8.05" fill="#a2b4d6"/><rect x="505.31" y="180.80" width="5.21" height="8.05" fill="#ecc8c8"/><rect x="510.46" y="180.80" width="5.21" height="8.05" fill="#f5f0f1"/><rect x="515.62" y="180.80" width="5.21" height="8.05" fill="#c9d2e5"/><rect x="520.77" y="180.80" width="5.21" height="8.05" fill="#c9d2e5"/><rect x="525.92" y="180.80" width="5.21" height="8.05" fill="#c9d2e5"/><rect x="531.08" y="180.80" width="5.21" height="8.05" fill="#7894c8"/><rect x="536.24" y="180.80" width="5.21" height="8.05" fill="#a2b4d6"/><rect x="541.39" y="180.80" width="5.21" height="8.05" fill="#a2b4d6"/><rect x="139.30" y="188.80" width="5.21" height="8.05" fill="#2f6cb4"/><rect x="144.46" y="188.80" width="5.21" height="8.05" fill="#2f6cb4"/><rect x="149.61" y="188.80" width="5.21" height="8.05" fill="#c9d2e5"/><rect x="154.77" y="188.80" width="5.21" height="8.05" fill="#2f6cb4"/><rect x="159.92" y="188.80" width="5.21" height="8.05" fill="#2f6cb4"/><rect x="165.08" y="188.80" width="5.21" height="8.05" fill="#2f6cb4"/><rect x="170.23" y="188.80" width="5.21" height="8.05" fill="#2f6cb4"/><rect x="175.39" y="188.80" width="5.21" height="8.05" fill="#2f6cb4"/><rect x="180.54" y="188.80" width="5.21" height="8.05" fill="#2f6cb4"/><rect x="185.70" y="188.80" width="5.21" height="8.05" fill="#2f6cb4"/><rect x="190.85" y="188.80" width="5.21" height="8.05" fill="#2f6cb4"/><rect x="196.01" y="188.80" width="5.21" height="8.05" fill="#2f6cb4"/><rect x="201.16" y="188.80" width="5.21" height="8.05" fill="#2f6cb4"/><rect x="206.31" y="188.80" width="5.21" height="8.05" fill="#2f6cb4"/><rect x="211.47" y="188.80" width="5.21" height="8.05" fill="#2f6cb4"/><rect x="216.62" y="188.80" width="5.21" height="8.05" fill="#ecc8c8"/><rect x="221.78" y="188.80" width="5.21" height="8.05" fill="#c9d2e5"/><rect x="226.94" y="188.80" width="5.21" height="8.05" fill="#c9d2e5"/><rect x="232.09" y="188.80" width="5.21" height="8.05" fill="#c9d2e5"/><rect x="237.25" y="188.80" width="5.21" height="8.05" fill="#2f6cb4"/><rect x="242.40" y="188.80" width="5.21" height="8.05" fill="#2f6cb4"/><rect x="247.56" y="188.80" width="5.21" height="8.05" fill="#2f6cb4"/><rect x="252.71" y="188.80" width="5.21" height="8.05" fill="#2f6cb4"/><rect x="257.87" y="188.80" width="5.21" height="8.05" fill="#2f6cb4"/><rect x="263.02" y="188.80" width="5.21" height="8.05" fill="#2f6cb4"/><rect x="268.18" y="188.80" width="5.21" height="8.05" fill="#2f6cb4"/><rect x="273.33" y="188.80" width="5.21" height="8.05" fill="#7894c8"/><rect x="278.49" y="188.80" width="5.21" height="8.05" fill="#2f6cb4"/><rect x="283.64" y="188.80" width="5.21" height="8.05" fill="#2f6cb4"/><rect x="288.80" y="188.80" width="5.21" height="8.05" fill="#2f6cb4"/><rect x="293.95" y="188.80" width="5.21" height="8.05" fill="#2f6cb4"/><rect x="299.11" y="188.80" width="5.21" height="8.05" fill="#2f6cb4"/><rect x="304.26" y="188.80" width="5.21" height="8.05" fill="#a2b4d6"/><rect x="309.42" y="188.80" width="5.21" height="8.05" fill="#2f6cb4"/><rect x="314.57" y="188.80" width="5.21" height="8.05" fill="#a2b4d6"/><rect x="319.73" y="188.80" width="5.21" height="8.05" fill="#2f6cb4"/><rect x="324.88" y="188.80" width="5.21" height="8.05" fill="#2f6cb4"/><rect x="330.04" y="188.80" width="5.21" height="8.05" fill="#2f6cb4"/><rect x="335.19" y="188.80" width="5.21" height="8.05" fill="#2f6cb4"/><rect x="340.35" y="188.80" width="5.21" height="8.05" fill="#2f6cb4"/><rect x="345.50" y="188.80" width="5.21" height="8.05" fill="#a2b4d6"/><rect x="350.66" y="188.80" width="5.21" height="8.05" fill="#2f6cb4"/><rect x="355.81" y="188.80" width="5.21" height="8.05" fill="#f5f0f1"/><rect x="360.97" y="188.80" width="5.21" height="8.05" fill="#7894c8"/><rect x="366.12" y="188.80" width="5.21" height="8.05" fill="#2f6cb4"/><rect x="371.28" y="188.80" width="5.21" height="8.05" fill="#2f6cb4"/><rect x="376.43" y="188.80" width="5.21" height="8.05" fill="#2f6cb4"/><rect x="381.59" y="188.80" width="5.21" height="8.05" fill="#2f6cb4"/><rect x="386.74" y="188.80" width="5.21" height="8.05" fill="#a2b4d6"/><rect x="391.89" y="188.80" width="5.21" height="8.05" fill="#7894c8"/><rect x="397.05" y="188.80" width="5.21" height="8.05" fill="#f5f0f1"/><rect x="402.21" y="188.80" width="5.21" height="8.05" fill="#dc9899"/><rect x="407.36" y="188.80" width="5.21" height="8.05" fill="#c9d2e5"/><rect x="412.52" y="188.80" width="5.21" height="8.05" fill="#7894c8"/><rect x="417.67" y="188.80" width="5.21" height="8.05" fill="#2f6cb4"/><rect x="422.83" y="188.80" width="5.21" height="8.05" fill="#a2b4d6"/><rect x="427.98" y="188.80" width="5.21" height="8.05" fill="#a2b4d6"/><rect x="433.14" y="188.80" width="5.21" height="8.05" fill="#2f6cb4"/><rect x="438.29" y="188.80" width="5.21" height="8.05" fill="#2f6cb4"/><rect x="443.45" y="188.80" width="5.21" height="8.05" fill="#2f6cb4"/><rect x="448.60" y="188.80" width="5.21" height="8.05" fill="#2f6cb4"/><rect x="453.76" y="188.80" width="5.21" height="8.05" fill="#2f6cb4"/><rect x="458.91" y="188.80" width="5.21" height="8.05" fill="#2f6cb4"/><rect x="464.07" y="188.80" width="5.21" height="8.05" fill="#a2b4d6"/><rect x="469.22" y="188.80" width="5.21" height="8.05" fill="#2f6cb4"/><rect x="474.38" y="188.80" width="5.21" height="8.05" fill="#2f6cb4"/><rect x="479.53" y="188.80" width="5.21" height="8.05" fill="#f5f0f1"/><rect x="484.69" y="188.80" width="5.21" height="8.05" fill="#2f6cb4"/><rect x="489.84" y="188.80" width="5.21" height="8.05" fill="#f5f0f1"/><rect x="495.00" y="188.80" width="5.21" height="8.05" fill="#2f6cb4"/><rect x="500.15" y="188.80" width="5.21" height="8.05" fill="#2f6cb4"/><rect x="505.31" y="188.80" width="5.21" height="8.05" fill="#2f6cb4"/><rect x="510.46" y="188.80" width="5.21" height="8.05" fill="#2f6cb4"/><rect x="515.62" y="188.80" width="5.21" height="8.05" fill="#2f6cb4"/><rect x="520.77" y="188.80" width="5.21" height="8.05" fill="#2f6cb4"/><rect x="525.92" y="188.80" width="5.21" height="8.05" fill="#7894c8"/><rect x="531.08" y="188.80" width="5.21" height="8.05" fill="#2f6cb4"/><rect x="536.24" y="188.80" width="5.21" height="8.05" fill="#c9d2e5"/><rect x="541.39" y="188.80" width="5.21" height="8.05" fill="#2f6cb4"/><rect x="139.30" y="196.80" width="5.21" height="8.05" fill="#2f6cb4"/><rect x="144.46" y="196.80" width="5.21" height="8.05" fill="#2f6cb4"/><rect x="149.61" y="196.80" width="5.21" height="8.05" fill="#2f6cb4"/><rect x="154.77" y="196.80" width="5.21" height="8.05" fill="#2f6cb4"/><rect x="159.92" y="196.80" width="5.21" height="8.05" fill="#2f6cb4"/><rect x="165.08" y="196.80" width="5.21" height="8.05" fill="#2f6cb4"/><rect x="170.23" y="196.80" width="5.21" height="8.05" fill="#2f6cb4"/><rect x="175.39" y="196.80" width="5.21" height="8.05" fill="#2f6cb4"/><rect x="180.54" y="196.80" width="5.21" height="8.05" fill="#c9d2e5"/><rect x="185.70" y="196.80" width="5.21" height="8.05" fill="#7894c8"/><rect x="190.85" y="196.80" width="5.21" height="8.05" fill="#a2b4d6"/><rect x="196.01" y="196.80" width="5.21" height="8.05" fill="#2f6cb4"/><rect x="201.16" y="196.80" width="5.21" height="8.05" fill="#2f6cb4"/><rect x="206.31" y="196.80" width="5.21" height="8.05" fill="#2f6cb4"/><rect x="211.47" y="196.80" width="5.21" height="8.05" fill="#2f6cb4"/><rect x="216.62" y="196.80" width="5.21" height="8.05" fill="#2f6cb4"/><rect x="221.78" y="196.80" width="5.21" height="8.05" fill="#2f6cb4"/><rect x="226.94" y="196.80" width="5.21" height="8.05" fill="#a2b4d6"/><rect x="232.09" y="196.80" width="5.21" height="8.05" fill="#a2b4d6"/><rect x="237.25" y="196.80" width="5.21" height="8.05" fill="#f5f0f1"/><rect x="242.40" y="196.80" width="5.21" height="8.05" fill="#f5f0f1"/><rect x="247.56" y="196.80" width="5.21" height="8.05" fill="#c9d2e5"/><rect x="252.71" y="196.80" width="5.21" height="8.05" fill="#c9d2e5"/><rect x="257.87" y="196.80" width="5.21" height="8.05" fill="#a2b4d6"/><rect x="263.02" y="196.80" width="5.21" height="8.05" fill="#c9d2e5"/><rect x="268.18" y="196.80" width="5.21" height="8.05" fill="#2f6cb4"/><rect x="273.33" y="196.80" width="5.21" height="8.05" fill="#7894c8"/><rect x="278.49" y="196.80" width="5.21" height="8.05" fill="#2f6cb4"/><rect x="283.64" y="196.80" width="5.21" height="8.05" fill="#2f6cb4"/><rect x="288.80" y="196.80" width="5.21" height="8.05" fill="#7894c8"/><rect x="293.95" y="196.80" width="5.21" height="8.05" fill="#c9d2e5"/><rect x="299.11" y="196.80" width="5.21" height="8.05" fill="#c9d2e5"/><rect x="304.26" y="196.80" width="5.21" height="8.05" fill="#a2b4d6"/><rect x="309.42" y="196.80" width="5.21" height="8.05" fill="#a2b4d6"/><rect x="314.57" y="196.80" width="5.21" height="8.05" fill="#a2b4d6"/><rect x="319.73" y="196.80" width="5.21" height="8.05" fill="#c9d2e5"/><rect x="324.88" y="196.80" width="5.21" height="8.05" fill="#c9d2e5"/><rect x="330.04" y="196.80" width="5.21" height="8.05" fill="#c9d2e5"/><rect x="335.19" y="196.80" width="5.21" height="8.05" fill="#a2b4d6"/><rect x="340.35" y="196.80" width="5.21" height="8.05" fill="#c9d2e5"/><rect x="345.50" y="196.80" width="5.21" height="8.05" fill="#a2b4d6"/><rect x="350.66" y="196.80" width="5.21" height="8.05" fill="#a2b4d6"/><rect x="355.81" y="196.80" width="5.21" height="8.05" fill="#a2b4d6"/><rect x="360.97" y="196.80" width="5.21" height="8.05" fill="#a2b4d6"/><rect x="366.12" y="196.80" width="5.21" height="8.05" fill="#7894c8"/><rect x="371.28" y="196.80" width="5.21" height="8.05" fill="#a2b4d6"/><rect x="376.43" y="196.80" width="5.21" height="8.05" fill="#a2b4d6"/><rect x="381.59" y="196.80" width="5.21" height="8.05" fill="#c9d2e5"/><rect x="386.74" y="196.80" width="5.21" height="8.05" fill="#2f6cb4"/><rect x="391.89" y="196.80" width="5.21" height="8.05" fill="#a2b4d6"/><rect x="397.05" y="196.80" width="5.21" height="8.05" fill="#2f6cb4"/><rect x="402.21" y="196.80" width="5.21" height="8.05" fill="#c9d2e5"/><rect x="407.36" y="196.80" width="5.21" height="8.05" fill="#f5f0f1"/><rect x="412.52" y="196.80" width="5.21" height="8.05" fill="#7894c8"/><rect x="417.67" y="196.80" width="5.21" height="8.05" fill="#2f6cb4"/><rect x="422.83" y="196.80" width="5.21" height="8.05" fill="#a2b4d6"/><rect x="427.98" y="196.80" width="5.21" height="8.05" fill="#c9d2e5"/><rect x="433.14" y="196.80" width="5.21" height="8.05" fill="#2f6cb4"/><rect x="438.29" y="196.80" width="5.21" height="8.05" fill="#c9d2e5"/><rect x="443.45" y="196.80" width="5.21" height="8.05" fill="#a2b4d6"/><rect x="448.60" y="196.80" width="5.21" height="8.05" fill="#2f6cb4"/><rect x="453.76" y="196.80" width="5.21" height="8.05" fill="#2f6cb4"/><rect x="458.91" y="196.80" width="5.21" height="8.05" fill="#c9d2e5"/><rect x="464.07" y="196.80" width="5.21" height="8.05" fill="#a2b4d6"/><rect x="469.22" y="196.80" width="5.21" height="8.05" fill="#a2b4d6"/><rect x="474.38" y="196.80" width="5.21" height="8.05" fill="#2f6cb4"/><rect x="479.53" y="196.80" width="5.21" height="8.05" fill="#7894c8"/><rect x="484.69" y="196.80" width="5.21" height="8.05" fill="#a2b4d6"/><rect x="489.84" y="196.80" width="5.21" height="8.05" fill="#2f6cb4"/><rect x="495.00" y="196.80" width="5.21" height="8.05" fill="#2f6cb4"/><rect x="500.15" y="196.80" width="5.21" height="8.05" fill="#a2b4d6"/><rect x="505.31" y="196.80" width="5.21" height="8.05" fill="#7894c8"/><rect x="510.46" y="196.80" width="5.21" height="8.05" fill="#2f6cb4"/><rect x="515.62" y="196.80" width="5.21" height="8.05" fill="#2f6cb4"/><rect x="520.77" y="196.80" width="5.21" height="8.05" fill="#2f6cb4"/><rect x="525.92" y="196.80" width="5.21" height="8.05" fill="#2f6cb4"/><rect x="531.08" y="196.80" width="5.21" height="8.05" fill="#7894c8"/><rect x="536.24" y="196.80" width="5.21" height="8.05" fill="#2f6cb4"/><rect x="541.39" y="196.80" width="5.21" height="8.05" fill="#2f6cb4"/><rect x="139.30" y="204.80" width="5.21" height="8.05" fill="#2f6cb4"/><rect x="144.46" y="204.80" width="5.21" height="8.05" fill="#a2b4d6"/><rect x="149.61" y="204.80" width="5.21" height="8.05" fill="#2f6cb4"/><rect x="154.77" y="204.80" width="5.21" height="8.05" fill="#2f6cb4"/><rect x="159.92" y="204.80" width="5.21" height="8.05" fill="#a2b4d6"/><rect x="165.08" y="204.80" width="5.21" height="8.05" fill="#2f6cb4"/><rect x="170.23" y="204.80" width="5.21" height="8.05" fill="#2f6cb4"/><rect x="175.39" y="204.80" width="5.21" height="8.05" fill="#2f6cb4"/><rect x="180.54" y="204.80" width="5.21" height="8.05" fill="#c9d2e5"/><rect x="185.70" y="204.80" width="5.21" height="8.05" fill="#a2b4d6"/><rect x="190.85" y="204.80" width="5.21" height="8.05" fill="#a2b4d6"/><rect x="196.01" y="204.80" width="5.21" height="8.05" fill="#a2b4d6"/><rect x="201.16" y="204.80" width="5.21" height="8.05" fill="#c9d2e5"/><rect x="206.31" y="204.80" width="5.21" height="8.05" fill="#2f6cb4"/><rect x="211.47" y="204.80" width="5.21" height="8.05" fill="#2f6cb4"/><rect x="216.62" y="204.80" width="5.21" height="8.05" fill="#2f6cb4"/><rect x="221.78" y="204.80" width="5.21" height="8.05" fill="#2f6cb4"/><rect x="226.94" y="204.80" width="5.21" height="8.05" fill="#a2b4d6"/><rect x="232.09" y="204.80" width="5.21" height="8.05" fill="#7894c8"/><rect x="237.25" y="204.80" width="5.21" height="8.05" fill="#2f6cb4"/><rect x="242.40" y="204.80" width="5.21" height="8.05" fill="#2f6cb4"/><rect x="247.56" y="204.80" width="5.21" height="8.05" fill="#2f6cb4"/><rect x="252.71" y="204.80" width="5.21" height="8.05" fill="#2f6cb4"/><rect x="257.87" y="204.80" width="5.21" height="8.05" fill="#2f6cb4"/><rect x="263.02" y="204.80" width="5.21" height="8.05" fill="#2f6cb4"/><rect x="268.18" y="204.80" width="5.21" height="8.05" fill="#a2b4d6"/><rect x="273.33" y="204.80" width="5.21" height="8.05" fill="#2f6cb4"/><rect x="278.49" y="204.80" width="5.21" height="8.05" fill="#2f6cb4"/><rect x="283.64" y="204.80" width="5.21" height="8.05" fill="#2f6cb4"/><rect x="288.80" y="204.80" width="5.21" height="8.05" fill="#7894c8"/><rect x="293.95" y="204.80" width="5.21" height="8.05" fill="#7894c8"/><rect x="299.11" y="204.80" width="5.21" height="8.05" fill="#2f6cb4"/><rect x="304.26" y="204.80" width="5.21" height="8.05" fill="#a2b4d6"/><rect x="309.42" y="204.80" width="5.21" height="8.05" fill="#7894c8"/><rect x="314.57" y="204.80" width="5.21" height="8.05" fill="#7894c8"/><rect x="319.73" y="204.80" width="5.21" height="8.05" fill="#a2b4d6"/><rect x="324.88" y="204.80" width="5.21" height="8.05" fill="#7894c8"/><rect x="330.04" y="204.80" width="5.21" height="8.05" fill="#c9d2e5"/><rect x="335.19" y="204.80" width="5.21" height="8.05" fill="#7894c8"/><rect x="340.35" y="204.80" width="5.21" height="8.05" fill="#a2b4d6"/><rect x="345.50" y="204.80" width="5.21" height="8.05" fill="#a2b4d6"/><rect x="350.66" y="204.80" width="5.21" height="8.05" fill="#a2b4d6"/><rect x="355.81" y="204.80" width="5.21" height="8.05" fill="#a2b4d6"/><rect x="360.97" y="204.80" width="5.21" height="8.05" fill="#a2b4d6"/><rect x="366.12" y="204.80" width="5.21" height="8.05" fill="#a2b4d6"/><rect x="371.28" y="204.80" width="5.21" height="8.05" fill="#a2b4d6"/><rect x="376.43" y="204.80" width="5.21" height="8.05" fill="#a2b4d6"/><rect x="381.59" y="204.80" width="5.21" height="8.05" fill="#a2b4d6"/><rect x="386.74" y="204.80" width="5.21" height="8.05" fill="#2f6cb4"/><rect x="391.89" y="204.80" width="5.21" height="8.05" fill="#c9d2e5"/><rect x="397.05" y="204.80" width="5.21" height="8.05" fill="#2f6cb4"/><rect x="402.21" y="204.80" width="5.21" height="8.05" fill="#a2b4d6"/><rect x="407.36" y="204.80" width="5.21" height="8.05" fill="#2f6cb4"/><rect x="412.52" y="204.80" width="5.21" height="8.05" fill="#7894c8"/><rect x="417.67" y="204.80" width="5.21" height="8.05" fill="#a2b4d6"/><rect x="422.83" y="204.80" width="5.21" height="8.05" fill="#a2b4d6"/><rect x="427.98" y="204.80" width="5.21" height="8.05" fill="#a2b4d6"/><rect x="433.14" y="204.80" width="5.21" height="8.05" fill="#2f6cb4"/><rect x="438.29" y="204.80" width="5.21" height="8.05" fill="#2f6cb4"/><rect x="443.45" y="204.80" width="5.21" height="8.05" fill="#a2b4d6"/><rect x="448.60" y="204.80" width="5.21" height="8.05" fill="#2f6cb4"/><rect x="453.76" y="204.80" width="5.21" height="8.05" fill="#2f6cb4"/><rect x="458.91" y="204.80" width="5.21" height="8.05" fill="#2f6cb4"/><rect x="464.07" y="204.80" width="5.21" height="8.05" fill="#2f6cb4"/><rect x="469.22" y="204.80" width="5.21" height="8.05" fill="#a2b4d6"/><rect x="474.38" y="204.80" width="5.21" height="8.05" fill="#f5f0f1"/><rect x="479.53" y="204.80" width="5.21" height="8.05" fill="#a2b4d6"/><rect x="484.69" y="204.80" width="5.21" height="8.05" fill="#7894c8"/><rect x="489.84" y="204.80" width="5.21" height="8.05" fill="#c9d2e5"/><rect x="495.00" y="204.80" width="5.21" height="8.05" fill="#2f6cb4"/><rect x="500.15" y="204.80" width="5.21" height="8.05" fill="#2f6cb4"/><rect x="505.31" y="204.80" width="5.21" height="8.05" fill="#7894c8"/><rect x="510.46" y="204.80" width="5.21" height="8.05" fill="#2f6cb4"/><rect x="515.62" y="204.80" width="5.21" height="8.05" fill="#ecc8c8"/><rect x="520.77" y="204.80" width="5.21" height="8.05" fill="#7894c8"/><rect x="525.92" y="204.80" width="5.21" height="8.05" fill="#4a7ebf"/><rect x="531.08" y="204.80" width="5.21" height="8.05" fill="#2f6cb4"/><rect x="536.24" y="204.80" width="5.21" height="8.05" fill="#4a7ebf"/><rect x="541.39" y="204.80" width="5.21" height="8.05" fill="#ecc8c8"/><rect x="139.30" y="212.80" width="5.21" height="8.05" fill="#c9d2e5"/><rect x="144.46" y="212.80" width="5.21" height="8.05" fill="#2f6cb4"/><rect x="149.61" y="212.80" width="5.21" height="8.05" fill="#2f6cb4"/><rect x="154.77" y="212.80" width="5.21" height="8.05" fill="#2f6cb4"/><rect x="159.92" y="212.80" width="5.21" height="8.05" fill="#a2b4d6"/><rect x="165.08" y="212.80" width="5.21" height="8.05" fill="#2f6cb4"/><rect x="170.23" y="212.80" width="5.21" height="8.05" fill="#2f6cb4"/><rect x="175.39" y="212.80" width="5.21" height="8.05" fill="#2f6cb4"/><rect x="180.54" y="212.80" width="5.21" height="8.05" fill="#2f6cb4"/><rect x="185.70" y="212.80" width="5.21" height="8.05" fill="#7894c8"/><rect x="190.85" y="212.80" width="5.21" height="8.05" fill="#2f6cb4"/><rect x="196.01" y="212.80" width="5.21" height="8.05" fill="#2f6cb4"/><rect x="201.16" y="212.80" width="5.21" height="8.05" fill="#2f6cb4"/><rect x="206.31" y="212.80" width="5.21" height="8.05" fill="#2f6cb4"/><rect x="211.47" y="212.80" width="5.21" height="8.05" fill="#2f6cb4"/><rect x="216.62" y="212.80" width="5.21" height="8.05" fill="#2f6cb4"/><rect x="221.78" y="212.80" width="5.21" height="8.05" fill="#2f6cb4"/><rect x="226.94" y="212.80" width="5.21" height="8.05" fill="#c9d2e5"/><rect x="232.09" y="212.80" width="5.21" height="8.05" fill="#c9d2e5"/><rect x="237.25" y="212.80" width="5.21" height="8.05" fill="#2f6cb4"/><rect x="242.40" y="212.80" width="5.21" height="8.05" fill="#a2b4d6"/><rect x="247.56" y="212.80" width="5.21" height="8.05" fill="#c9d2e5"/><rect x="252.71" y="212.80" width="5.21" height="8.05" fill="#a2b4d6"/><rect x="257.87" y="212.80" width="5.21" height="8.05" fill="#2f6cb4"/><rect x="263.02" y="212.80" width="5.21" height="8.05" fill="#a2b4d6"/><rect x="268.18" y="212.80" width="5.21" height="8.05" fill="#2f6cb4"/><rect x="273.33" y="212.80" width="5.21" height="8.05" fill="#2f6cb4"/><rect x="278.49" y="212.80" width="5.21" height="8.05" fill="#2f6cb4"/><rect x="283.64" y="212.80" width="5.21" height="8.05" fill="#2f6cb4"/><rect x="288.80" y="212.80" width="5.21" height="8.05" fill="#7894c8"/><rect x="293.95" y="212.80" width="5.21" height="8.05" fill="#a2b4d6"/><rect x="299.11" y="212.80" width="5.21" height="8.05" fill="#7894c8"/><rect x="304.26" y="212.80" width="5.21" height="8.05" fill="#a2b4d6"/><rect x="309.42" y="212.80" width="5.21" height="8.05" fill="#7894c8"/><rect x="314.57" y="212.80" width="5.21" height="8.05" fill="#a2b4d6"/><rect x="319.73" y="212.80" width="5.21" height="8.05" fill="#a2b4d6"/><rect x="324.88" y="212.80" width="5.21" height="8.05" fill="#7894c8"/><rect x="330.04" y="212.80" width="5.21" height="8.05" fill="#2f6cb4"/><rect x="335.19" y="212.80" width="5.21" height="8.05" fill="#2f6cb4"/><rect x="340.35" y="212.80" width="5.21" height="8.05" fill="#c9d2e5"/><rect x="345.50" y="212.80" width="5.21" height="8.05" fill="#7894c8"/><rect x="350.66" y="212.80" width="5.21" height="8.05" fill="#7894c8"/><rect x="355.81" y="212.80" width="5.21" height="8.05" fill="#a2b4d6"/><rect x="360.97" y="212.80" width="5.21" height="8.05" fill="#c9d2e5"/><rect x="366.12" y="212.80" width="5.21" height="8.05" fill="#2f6cb4"/><rect x="371.28" y="212.80" width="5.21" height="8.05" fill="#2f6cb4"/><rect x="376.43" y="212.80" width="5.21" height="8.05" fill="#2f6cb4"/><rect x="381.59" y="212.80" width="5.21" height="8.05" fill="#7894c8"/><rect x="386.74" y="212.80" width="5.21" height="8.05" fill="#c9d2e5"/><rect x="391.89" y="212.80" width="5.21" height="8.05" fill="#c9d2e5"/><rect x="397.05" y="212.80" width="5.21" height="8.05" fill="#c9d2e5"/><rect x="402.21" y="212.80" width="5.21" height="8.05" fill="#c9d2e5"/><rect x="407.36" y="212.80" width="5.21" height="8.05" fill="#a2b4d6"/><rect x="412.52" y="212.80" width="5.21" height="8.05" fill="#a2b4d6"/><rect x="417.67" y="212.80" width="5.21" height="8.05" fill="#a2b4d6"/><rect x="422.83" y="212.80" width="5.21" height="8.05" fill="#a2b4d6"/><rect x="427.98" y="212.80" width="5.21" height="8.05" fill="#a2b4d6"/><rect x="433.14" y="212.80" width="5.21" height="8.05" fill="#2f6cb4"/><rect x="438.29" y="212.80" width="5.21" height="8.05" fill="#2f6cb4"/><rect x="443.45" y="212.80" width="5.21" height="8.05" fill="#2f6cb4"/><rect x="448.60" y="212.80" width="5.21" height="8.05" fill="#7894c8"/><rect x="453.76" y="212.80" width="5.21" height="8.05" fill="#2f6cb4"/><rect x="458.91" y="212.80" width="5.21" height="8.05" fill="#c9d2e5"/><rect x="464.07" y="212.80" width="5.21" height="8.05" fill="#f5f0f1"/><rect x="469.22" y="212.80" width="5.21" height="8.05" fill="#c9d2e5"/><rect x="474.38" y="212.80" width="5.21" height="8.05" fill="#2f6cb4"/><rect x="479.53" y="212.80" width="5.21" height="8.05" fill="#a2b4d6"/><rect x="484.69" y="212.80" width="5.21" height="8.05" fill="#c9d2e5"/><rect x="489.84" y="212.80" width="5.21" height="8.05" fill="#a2b4d6"/><rect x="495.00" y="212.80" width="5.21" height="8.05" fill="#f5f0f1"/><rect x="500.15" y="212.80" width="5.21" height="8.05" fill="#c9d2e5"/><rect x="505.31" y="212.80" width="5.21" height="8.05" fill="#c75f62"/><rect x="510.46" y="212.80" width="5.21" height="8.05" fill="#2f6cb4"/><rect x="515.62" y="212.80" width="5.21" height="8.05" fill="#2f6cb4"/><rect x="520.77" y="212.80" width="5.21" height="8.05" fill="#dc9899"/><rect x="525.92" y="212.80" width="5.21" height="8.05" fill="#dc9899"/><rect x="531.08" y="212.80" width="5.21" height="8.05" fill="#c75f62"/><rect x="536.24" y="212.80" width="5.21" height="8.05" fill="#a2b4d6"/><rect x="541.39" y="212.80" width="5.21" height="8.05" fill="#a2b4d6"/><rect x="139.30" y="220.80" width="5.21" height="8.05" fill="#7894c8"/><rect x="144.46" y="220.80" width="5.21" height="8.05" fill="#a2b4d6"/><rect x="149.61" y="220.80" width="5.21" height="8.05" fill="#7894c8"/><rect x="154.77" y="220.80" width="5.21" height="8.05" fill="#7894c8"/><rect x="159.92" y="220.80" width="5.21" height="8.05" fill="#a2b4d6"/><rect x="165.08" y="220.80" width="5.21" height="8.05" fill="#ecc8c8"/><rect x="170.23" y="220.80" width="5.21" height="8.05" fill="#f5f0f1"/><rect x="175.39" y="220.80" width="5.21" height="8.05" fill="#a2b4d6"/><rect x="180.54" y="220.80" width="5.21" height="8.05" fill="#a2b4d6"/><rect x="185.70" y="220.80" width="5.21" height="8.05" fill="#7894c8"/><rect x="190.85" y="220.80" width="5.21" height="8.05" fill="#7894c8"/><rect x="196.01" y="220.80" width="5.21" height="8.05" fill="#7894c8"/><rect x="201.16" y="220.80" width="5.21" height="8.05" fill="#7894c8"/><rect x="206.31" y="220.80" width="5.21" height="8.05" fill="#7894c8"/><rect x="211.47" y="220.80" width="5.21" height="8.05" fill="#7894c8"/><rect x="216.62" y="220.80" width="5.21" height="8.05" fill="#a2b4d6"/><rect x="221.78" y="220.80" width="5.21" height="8.05" fill="#7894c8"/><rect x="226.94" y="220.80" width="5.21" height="8.05" fill="#a2b4d6"/><rect x="232.09" y="220.80" width="5.21" height="8.05" fill="#c9d2e5"/><rect x="237.25" y="220.80" width="5.21" height="8.05" fill="#7894c8"/><rect x="242.40" y="220.80" width="5.21" height="8.05" fill="#a2b4d6"/><rect x="247.56" y="220.80" width="5.21" height="8.05" fill="#f5f0f1"/><rect x="252.71" y="220.80" width="5.21" height="8.05" fill="#a2b4d6"/><rect x="257.87" y="220.80" width="5.21" height="8.05" fill="#7894c8"/><rect x="263.02" y="220.80" width="5.21" height="8.05" fill="#7894c8"/><rect x="268.18" y="220.80" width="5.21" height="8.05" fill="#4a7ebf"/><rect x="273.33" y="220.80" width="5.21" height="8.05" fill="#c9d2e5"/><rect x="278.49" y="220.80" width="5.21" height="8.05" fill="#c9d2e5"/><rect x="283.64" y="220.80" width="5.21" height="8.05" fill="#a2b4d6"/><rect x="288.80" y="220.80" width="5.21" height="8.05" fill="#7894c8"/><rect x="293.95" y="220.80" width="5.21" height="8.05" fill="#c9d2e5"/><rect x="299.11" y="220.80" width="5.21" height="8.05" fill="#4a7ebf"/><rect x="304.26" y="220.80" width="5.21" height="8.05" fill="#7894c8"/><rect x="309.42" y="220.80" width="5.21" height="8.05" fill="#a2b4d6"/><rect x="314.57" y="220.80" width="5.21" height="8.05" fill="#4a7ebf"/><rect x="319.73" y="220.80" width="5.21" height="8.05" fill="#7894c8"/><rect x="324.88" y="220.80" width="5.21" height="8.05" fill="#f5f0f1"/><rect x="330.04" y="220.80" width="5.21" height="8.05" fill="#7894c8"/><rect x="335.19" y="220.80" width="5.21" height="8.05" fill="#7894c8"/><rect x="340.35" y="220.80" width="5.21" height="8.05" fill="#7894c8"/><rect x="345.50" y="220.80" width="5.21" height="8.05" fill="#7894c8"/><rect x="350.66" y="220.80" width="5.21" height="8.05" fill="#7894c8"/><rect x="355.81" y="220.80" width="5.21" height="8.05" fill="#7894c8"/><rect x="360.97" y="220.80" width="5.21" height="8.05" fill="#7894c8"/><rect x="366.12" y="220.80" width="5.21" height="8.05" fill="#7894c8"/><rect x="371.28" y="220.80" width="5.21" height="8.05" fill="#4a7ebf"/><rect x="376.43" y="220.80" width="5.21" height="8.05" fill="#7894c8"/><rect x="381.59" y="220.80" width="5.21" height="8.05" fill="#4a7ebf"/><rect x="386.74" y="220.80" width="5.21" height="8.05" fill="#7894c8"/><rect x="391.89" y="220.80" width="5.21" height="8.05" fill="#a2b4d6"/><rect x="397.05" y="220.80" width="5.21" height="8.05" fill="#7894c8"/><rect x="402.21" y="220.80" width="5.21" height="8.05" fill="#7894c8"/><rect x="407.36" y="220.80" width="5.21" height="8.05" fill="#4a7ebf"/><rect x="412.52" y="220.80" width="5.21" height="8.05" fill="#a2b4d6"/><rect x="417.67" y="220.80" width="5.21" height="8.05" fill="#a2b4d6"/><rect x="422.83" y="220.80" width="5.21" height="8.05" fill="#7894c8"/><rect x="427.98" y="220.80" width="5.21" height="8.05" fill="#7894c8"/><rect x="433.14" y="220.80" width="5.21" height="8.05" fill="#7894c8"/><rect x="438.29" y="220.80" width="5.21" height="8.05" fill="#7894c8"/><rect x="443.45" y="220.80" width="5.21" height="8.05" fill="#a2b4d6"/><rect x="448.60" y="220.80" width="5.21" height="8.05" fill="#ecc8c8"/><rect x="453.76" y="220.80" width="5.21" height="8.05" fill="#ecc8c8"/><rect x="458.91" y="220.80" width="5.21" height="8.05" fill="#7894c8"/><rect x="464.07" y="220.80" width="5.21" height="8.05" fill="#dc9899"/><rect x="469.22" y="220.80" width="5.21" height="8.05" fill="#f5f0f1"/><rect x="474.38" y="220.80" width="5.21" height="8.05" fill="#7894c8"/><rect x="479.53" y="220.80" width="5.21" height="8.05" fill="#7894c8"/><rect x="484.69" y="220.80" width="5.21" height="8.05" fill="#a2b4d6"/><rect x="489.84" y="220.80" width="5.21" height="8.05" fill="#ecc8c8"/><rect x="495.00" y="220.80" width="5.21" height="8.05" fill="#a2b4d6"/><rect x="500.15" y="220.80" width="5.21" height="8.05" fill="#a2b4d6"/><rect x="505.31" y="220.80" width="5.21" height="8.05" fill="#c9d2e5"/><rect x="510.46" y="220.80" width="5.21" height="8.05" fill="#c9d2e5"/><rect x="515.62" y="220.80" width="5.21" height="8.05" fill="#a2b4d6"/><rect x="520.77" y="220.80" width="5.21" height="8.05" fill="#c9d2e5"/><rect x="525.92" y="220.80" width="5.21" height="8.05" fill="#c9d2e5"/><rect x="531.08" y="220.80" width="5.21" height="8.05" fill="#7894c8"/><rect x="536.24" y="220.80" width="5.21" height="8.05" fill="#ecc8c8"/><rect x="541.39" y="220.80" width="5.21" height="8.05" fill="#f5f0f1"/><rect x="139.30" y="228.80" width="5.21" height="8.05" fill="#7894c8"/><rect x="144.46" y="228.80" width="5.21" height="8.05" fill="#c9d2e5"/><rect x="149.61" y="228.80" width="5.21" height="8.05" fill="#a2b4d6"/><rect x="154.77" y="228.80" width="5.21" height="8.05" fill="#c9d2e5"/><rect x="159.92" y="228.80" width="5.21" height="8.05" fill="#a2b4d6"/><rect x="165.08" y="228.80" width="5.21" height="8.05" fill="#7894c8"/><rect x="170.23" y="228.80" width="5.21" height="8.05" fill="#7894c8"/><rect x="175.39" y="228.80" width="5.21" height="8.05" fill="#7894c8"/><rect x="180.54" y="228.80" width="5.21" height="8.05" fill="#a2b4d6"/><rect x="185.70" y="228.80" width="5.21" height="8.05" fill="#a2b4d6"/><rect x="190.85" y="228.80" width="5.21" height="8.05" fill="#7894c8"/><rect x="196.01" y="228.80" width="5.21" height="8.05" fill="#7894c8"/><rect x="201.16" y="228.80" width="5.21" height="8.05" fill="#7894c8"/><rect x="206.31" y="228.80" width="5.21" height="8.05" fill="#7894c8"/><rect x="211.47" y="228.80" width="5.21" height="8.05" fill="#7894c8"/><rect x="216.62" y="228.80" width="5.21" height="8.05" fill="#f5f0f1"/><rect x="221.78" y="228.80" width="5.21" height="8.05" fill="#a2b4d6"/><rect x="226.94" y="228.80" width="5.21" height="8.05" fill="#a2b4d6"/><rect x="232.09" y="228.80" width="5.21" height="8.05" fill="#7894c8"/><rect x="237.25" y="228.80" width="5.21" height="8.05" fill="#4a7ebf"/><rect x="242.40" y="228.80" width="5.21" height="8.05" fill="#f5f0f1"/><rect x="247.56" y="228.80" width="5.21" height="8.05" fill="#7894c8"/><rect x="252.71" y="228.80" width="5.21" height="8.05" fill="#a2b4d6"/><rect x="257.87" y="228.80" width="5.21" height="8.05" fill="#c9d2e5"/><rect x="263.02" y="228.80" width="5.21" height="8.05" fill="#a2b4d6"/><rect x="268.18" y="228.80" width="5.21" height="8.05" fill="#4a7ebf"/><rect x="273.33" y="228.80" width="5.21" height="8.05" fill="#c9d2e5"/><rect x="278.49" y="228.80" width="5.21" height="8.05" fill="#7894c8"/><rect x="283.64" y="228.80" width="5.21" height="8.05" fill="#7894c8"/><rect x="288.80" y="228.80" width="5.21" height="8.05" fill="#c9d2e5"/><rect x="293.95" y="228.80" width="5.21" height="8.05" fill="#c9d2e5"/><rect x="299.11" y="228.80" width="5.21" height="8.05" fill="#7894c8"/><rect x="304.26" y="228.80" width="5.21" height="8.05" fill="#a2b4d6"/><rect x="309.42" y="228.80" width="5.21" height="8.05" fill="#7894c8"/><rect x="314.57" y="228.80" width="5.21" height="8.05" fill="#7894c8"/><rect x="319.73" y="228.80" width="5.21" height="8.05" fill="#4a7ebf"/><rect x="324.88" y="228.80" width="5.21" height="8.05" fill="#2f6cb4"/><rect x="330.04" y="228.80" width="5.21" height="8.05" fill="#a2b4d6"/><rect x="335.19" y="228.80" width="5.21" height="8.05" fill="#7894c8"/><rect x="340.35" y="228.80" width="5.21" height="8.05" fill="#a2b4d6"/><rect x="345.50" y="228.80" width="5.21" height="8.05" fill="#7894c8"/><rect x="350.66" y="228.80" width="5.21" height="8.05" fill="#7894c8"/><rect x="355.81" y="228.80" width="5.21" height="8.05" fill="#a2b4d6"/><rect x="360.97" y="228.80" width="5.21" height="8.05" fill="#c9d2e5"/><rect x="366.12" y="228.80" width="5.21" height="8.05" fill="#f5f0f1"/><rect x="371.28" y="228.80" width="5.21" height="8.05" fill="#4a7ebf"/><rect x="376.43" y="228.80" width="5.21" height="8.05" fill="#a2b4d6"/><rect x="381.59" y="228.80" width="5.21" height="8.05" fill="#4a7ebf"/><rect x="386.74" y="228.80" width="5.21" height="8.05" fill="#a2b4d6"/><rect x="391.89" y="228.80" width="5.21" height="8.05" fill="#7894c8"/><rect x="397.05" y="228.80" width="5.21" height="8.05" fill="#a2b4d6"/><rect x="402.21" y="228.80" width="5.21" height="8.05" fill="#a2b4d6"/><rect x="407.36" y="228.80" width="5.21" height="8.05" fill="#a2b4d6"/><rect x="412.52" y="228.80" width="5.21" height="8.05" fill="#a2b4d6"/><rect x="417.67" y="228.80" width="5.21" height="8.05" fill="#c9d2e5"/><rect x="422.83" y="228.80" width="5.21" height="8.05" fill="#c9d2e5"/><rect x="427.98" y="228.80" width="5.21" height="8.05" fill="#c9d2e5"/><rect x="433.14" y="228.80" width="5.21" height="8.05" fill="#a2b4d6"/><rect x="438.29" y="228.80" width="5.21" height="8.05" fill="#c9d2e5"/><rect x="443.45" y="228.80" width="5.21" height="8.05" fill="#a2b4d6"/><rect x="448.60" y="228.80" width="5.21" height="8.05" fill="#a2b4d6"/><rect x="453.76" y="228.80" width="5.21" height="8.05" fill="#7894c8"/><rect x="458.91" y="228.80" width="5.21" height="8.05" fill="#a2b4d6"/><rect x="464.07" y="228.80" width="5.21" height="8.05" fill="#7894c8"/><rect x="469.22" y="228.80" width="5.21" height="8.05" fill="#7894c8"/><rect x="474.38" y="228.80" width="5.21" height="8.05" fill="#7894c8"/><rect x="479.53" y="228.80" width="5.21" height="8.05" fill="#7894c8"/><rect x="484.69" y="228.80" width="5.21" height="8.05" fill="#a2b4d6"/><rect x="489.84" y="228.80" width="5.21" height="8.05" fill="#a2b4d6"/><rect x="495.00" y="228.80" width="5.21" height="8.05" fill="#a2b4d6"/><rect x="500.15" y="228.80" width="5.21" height="8.05" fill="#7894c8"/><rect x="505.31" y="228.80" width="5.21" height="8.05" fill="#7894c8"/><rect x="510.46" y="228.80" width="5.21" height="8.05" fill="#7894c8"/><rect x="515.62" y="228.80" width="5.21" height="8.05" fill="#a2b4d6"/><rect x="520.77" y="228.80" width="5.21" height="8.05" fill="#a2b4d6"/><rect x="525.92" y="228.80" width="5.21" height="8.05" fill="#7894c8"/><rect x="531.08" y="228.80" width="5.21" height="8.05" fill="#4a7ebf"/><rect x="536.24" y="228.80" width="5.21" height="8.05" fill="#7894c8"/><rect x="541.39" y="228.80" width="5.21" height="8.05" fill="#c9d2e5"/><rect x="139.30" y="236.80" width="5.21" height="8.05" fill="#4a7ebf"/><rect x="144.46" y="236.80" width="5.21" height="8.05" fill="#7894c8"/><rect x="149.61" y="236.80" width="5.21" height="8.05" fill="#7894c8"/><rect x="154.77" y="236.80" width="5.21" height="8.05" fill="#7894c8"/><rect x="159.92" y="236.80" width="5.21" height="8.05" fill="#7894c8"/><rect x="165.08" y="236.80" width="5.21" height="8.05" fill="#a2b4d6"/><rect x="170.23" y="236.80" width="5.21" height="8.05" fill="#c9d2e5"/><rect x="175.39" y="236.80" width="5.21" height="8.05" fill="#7894c8"/><rect x="180.54" y="236.80" width="5.21" height="8.05" fill="#7894c8"/><rect x="185.70" y="236.80" width="5.21" height="8.05" fill="#7894c8"/><rect x="190.85" y="236.80" width="5.21" height="8.05" fill="#7894c8"/><rect x="196.01" y="236.80" width="5.21" height="8.05" fill="#7894c8"/><rect x="201.16" y="236.80" width="5.21" height="8.05" fill="#7894c8"/><rect x="206.31" y="236.80" width="5.21" height="8.05" fill="#7894c8"/><rect x="211.47" y="236.80" width="5.21" height="8.05" fill="#4a7ebf"/><rect x="216.62" y="236.80" width="5.21" height="8.05" fill="#7894c8"/><rect x="221.78" y="236.80" width="5.21" height="8.05" fill="#a2b4d6"/><rect x="226.94" y="236.80" width="5.21" height="8.05" fill="#c9d2e5"/><rect x="232.09" y="236.80" width="5.21" height="8.05" fill="#a2b4d6"/><rect x="237.25" y="236.80" width="5.21" height="8.05" fill="#7894c8"/><rect x="242.40" y="236.80" width="5.21" height="8.05" fill="#7894c8"/><rect x="247.56" y="236.80" width="5.21" height="8.05" fill="#4a7ebf"/><rect x="252.71" y="236.80" width="5.21" height="8.05" fill="#7894c8"/><rect x="257.87" y="236.80" width="5.21" height="8.05" fill="#7894c8"/><rect x="263.02" y="236.80" width="5.21" height="8.05" fill="#7894c8"/><rect x="268.18" y="236.80" width="5.21" height="8.05" fill="#4a7ebf"/><rect x="273.33" y="236.80" width="5.21" height="8.05" fill="#c9d2e5"/><rect x="278.49" y="236.80" width="5.21" height="8.05" fill="#c9d2e5"/><rect x="283.64" y="236.80" width="5.21" height="8.05" fill="#c9d2e5"/><rect x="288.80" y="236.80" width="5.21" height="8.05" fill="#7894c8"/><rect x="293.95" y="236.80" width="5.21" height="8.05" fill="#a2b4d6"/><rect x="299.11" y="236.80" width="5.21" height="8.05" fill="#4a7ebf"/><rect x="304.26" y="236.80" width="5.21" height="8.05" fill="#a2b4d6"/><rect x="309.42" y="236.80" width="5.21" height="8.05" fill="#c9d2e5"/><rect x="314.57" y="236.80" width="5.21" height="8.05" fill="#7894c8"/><rect x="319.73" y="236.80" width="5.21" height="8.05" fill="#7894c8"/><rect x="324.88" y="236.80" width="5.21" height="8.05" fill="#2f6cb4"/><rect x="330.04" y="236.80" width="5.21" height="8.05" fill="#7894c8"/><rect x="335.19" y="236.80" width="5.21" height="8.05" fill="#7894c8"/><rect x="340.35" y="236.80" width="5.21" height="8.05" fill="#7894c8"/><rect x="345.50" y="236.80" width="5.21" height="8.05" fill="#c9d2e5"/><rect x="350.66" y="236.80" width="5.21" height="8.05" fill="#7894c8"/><rect x="355.81" y="236.80" width="5.21" height="8.05" fill="#7894c8"/><rect x="360.97" y="236.80" width="5.21" height="8.05" fill="#7894c8"/><rect x="366.12" y="236.80" width="5.21" height="8.05" fill="#a2b4d6"/><rect x="371.28" y="236.80" width="5.21" height="8.05" fill="#7894c8"/><rect x="376.43" y="236.80" width="5.21" height="8.05" fill="#a2b4d6"/><rect x="381.59" y="236.80" width="5.21" height="8.05" fill="#7894c8"/><rect x="386.74" y="236.80" width="5.21" height="8.05" fill="#7894c8"/><rect x="391.89" y="236.80" width="5.21" height="8.05" fill="#7894c8"/><rect x="397.05" y="236.80" width="5.21" height="8.05" fill="#7894c8"/><rect x="402.21" y="236.80" width="5.21" height="8.05" fill="#a2b4d6"/><rect x="407.36" y="236.80" width="5.21" height="8.05" fill="#7894c8"/><rect x="412.52" y="236.80" width="5.21" height="8.05" fill="#7894c8"/><rect x="417.67" y="236.80" width="5.21" height="8.05" fill="#a2b4d6"/><rect x="422.83" y="236.80" width="5.21" height="8.05" fill="#a2b4d6"/><rect x="427.98" y="236.80" width="5.21" height="8.05" fill="#7894c8"/><rect x="433.14" y="236.80" width="5.21" height="8.05" fill="#7894c8"/><rect x="438.29" y="236.80" width="5.21" height="8.05" fill="#a2b4d6"/><rect x="443.45" y="236.80" width="5.21" height="8.05" fill="#7894c8"/><rect x="448.60" y="236.80" width="5.21" height="8.05" fill="#4a7ebf"/><rect x="453.76" y="236.80" width="5.21" height="8.05" fill="#a2b4d6"/><rect x="458.91" y="236.80" width="5.21" height="8.05" fill="#7894c8"/><rect x="464.07" y="236.80" width="5.21" height="8.05" fill="#7894c8"/><rect x="469.22" y="236.80" width="5.21" height="8.05" fill="#a2b4d6"/><rect x="474.38" y="236.80" width="5.21" height="8.05" fill="#7894c8"/><rect x="479.53" y="236.80" width="5.21" height="8.05" fill="#7894c8"/><rect x="484.69" y="236.80" width="5.21" height="8.05" fill="#a2b4d6"/><rect x="489.84" y="236.80" width="5.21" height="8.05" fill="#7894c8"/><rect x="495.00" y="236.80" width="5.21" height="8.05" fill="#7894c8"/><rect x="500.15" y="236.80" width="5.21" height="8.05" fill="#7894c8"/><rect x="505.31" y="236.80" width="5.21" height="8.05" fill="#7894c8"/><rect x="510.46" y="236.80" width="5.21" height="8.05" fill="#7894c8"/><rect x="515.62" y="236.80" width="5.21" height="8.05" fill="#7894c8"/><rect x="520.77" y="236.80" width="5.21" height="8.05" fill="#a2b4d6"/><rect x="525.92" y="236.80" width="5.21" height="8.05" fill="#7894c8"/><rect x="531.08" y="236.80" width="5.21" height="8.05" fill="#4a7ebf"/><rect x="536.24" y="236.80" width="5.21" height="8.05" fill="#c9d2e5"/><rect x="541.39" y="236.80" width="5.21" height="8.05" fill="#c9d2e5"/><rect x="139.30" y="244.80" width="5.21" height="8.05" fill="#2f6cb4"/><rect x="144.46" y="244.80" width="5.21" height="8.05" fill="#2f6cb4"/><rect x="149.61" y="244.80" width="5.21" height="8.05" fill="#2f6cb4"/><rect x="154.77" y="244.80" width="5.21" height="8.05" fill="#f5f0f1"/><rect x="159.92" y="244.80" width="5.21" height="8.05" fill="#c9d2e5"/><rect x="165.08" y="244.80" width="5.21" height="8.05" fill="#a2b4d6"/><rect x="170.23" y="244.80" width="5.21" height="8.05" fill="#f5f0f1"/><rect x="175.39" y="244.80" width="5.21" height="8.05" fill="#f5f0f1"/><rect x="180.54" y="244.80" width="5.21" height="8.05" fill="#c9d2e5"/><rect x="185.70" y="244.80" width="5.21" height="8.05" fill="#f5f0f1"/><rect x="190.85" y="244.80" width="5.21" height="8.05" fill="#c9d2e5"/><rect x="196.01" y="244.80" width="5.21" height="8.05" fill="#c9d2e5"/><rect x="201.16" y="244.80" width="5.21" height="8.05" fill="#f5f0f1"/><rect x="206.31" y="244.80" width="5.21" height="8.05" fill="#c9d2e5"/><rect x="211.47" y="244.80" width="5.21" height="8.05" fill="#2f6cb4"/><rect x="216.62" y="244.80" width="5.21" height="8.05" fill="#c9d2e5"/><rect x="221.78" y="244.80" width="5.21" height="8.05" fill="#f5f0f1"/><rect x="226.94" y="244.80" width="5.21" height="8.05" fill="#c9d2e5"/><rect x="232.09" y="244.80" width="5.21" height="8.05" fill="#f5f0f1"/><rect x="237.25" y="244.80" width="5.21" height="8.05" fill="#c9d2e5"/><rect x="242.40" y="244.80" width="5.21" height="8.05" fill="#c9d2e5"/><rect x="247.56" y="244.80" width="5.21" height="8.05" fill="#f5f0f1"/><rect x="252.71" y="244.80" width="5.21" height="8.05" fill="#c9d2e5"/><rect x="257.87" y="244.80" width="5.21" height="8.05" fill="#c9d2e5"/><rect x="263.02" y="244.80" width="5.21" height="8.05" fill="#a2b4d6"/><rect x="268.18" y="244.80" width="5.21" height="8.05" fill="#f5f0f1"/><rect x="273.33" y="244.80" width="5.21" height="8.05" fill="#c9d2e5"/><rect x="278.49" y="244.80" width="5.21" height="8.05" fill="#c9d2e5"/><rect x="283.64" y="244.80" width="5.21" height="8.05" fill="#f5f0f1"/><rect x="288.80" y="244.80" width="5.21" height="8.05" fill="#c9d2e5"/><rect x="293.95" y="244.80" width="5.21" height="8.05" fill="#f5f0f1"/><rect x="299.11" y="244.80" width="5.21" height="8.05" fill="#a2b4d6"/><rect x="304.26" y="244.80" width="5.21" height="8.05" fill="#c9d2e5"/><rect x="309.42" y="244.80" width="5.21" height="8.05" fill="#c9d2e5"/><rect x="314.57" y="244.80" width="5.21" height="8.05" fill="#c9d2e5"/><rect x="319.73" y="244.80" width="5.21" height="8.05" fill="#c9d2e5"/><rect x="324.88" y="244.80" width="5.21" height="8.05" fill="#c9d2e5"/><rect x="330.04" y="244.80" width="5.21" height="8.05" fill="#2f6cb4"/><rect x="335.19" y="244.80" width="5.21" height="8.05" fill="#a2b4d6"/><rect x="340.35" y="244.80" width="5.21" height="8.05" fill="#2f6cb4"/><rect x="345.50" y="244.80" width="5.21" height="8.05" fill="#2f6cb4"/><rect x="350.66" y="244.80" width="5.21" height="8.05" fill="#2f6cb4"/><rect x="355.81" y="244.80" width="5.21" height="8.05" fill="#2f6cb4"/><rect x="360.97" y="244.80" width="5.21" height="8.05" fill="#2f6cb4"/><rect x="366.12" y="244.80" width="5.21" height="8.05" fill="#c9d2e5"/><rect x="371.28" y="244.80" width="5.21" height="8.05" fill="#f5f0f1"/><rect x="376.43" y="244.80" width="5.21" height="8.05" fill="#c9d2e5"/><rect x="381.59" y="244.80" width="5.21" height="8.05" fill="#a2b4d6"/><rect x="386.74" y="244.80" width="5.21" height="8.05" fill="#2f6cb4"/><rect x="391.89" y="244.80" width="5.21" height="8.05" fill="#2f6cb4"/><rect x="397.05" y="244.80" width="5.21" height="8.05" fill="#2f6cb4"/><rect x="402.21" y="244.80" width="5.21" height="8.05" fill="#f5f0f1"/><rect x="407.36" y="244.80" width="5.21" height="8.05" fill="#2f6cb4"/><rect x="412.52" y="244.80" width="5.21" height="8.05" fill="#2f6cb4"/><rect x="417.67" y="244.80" width="5.21" height="8.05" fill="#2f6cb4"/><rect x="422.83" y="244.80" width="5.21" height="8.05" fill="#2f6cb4"/><rect x="427.98" y="244.80" width="5.21" height="8.05" fill="#2f6cb4"/><rect x="433.14" y="244.80" width="5.21" height="8.05" fill="#ecc8c8"/><rect x="438.29" y="244.80" width="5.21" height="8.05" fill="#f5f0f1"/><rect x="443.45" y="244.80" width="5.21" height="8.05" fill="#ecc8c8"/><rect x="448.60" y="244.80" width="5.21" height="8.05" fill="#f5f0f1"/><rect x="453.76" y="244.80" width="5.21" height="8.05" fill="#f5f0f1"/><rect x="458.91" y="244.80" width="5.21" height="8.05" fill="#f5f0f1"/><rect x="464.07" y="244.80" width="5.21" height="8.05" fill="#c9d2e5"/><rect x="469.22" y="244.80" width="5.21" height="8.05" fill="#f5f0f1"/><rect x="474.38" y="244.80" width="5.21" height="8.05" fill="#ecc8c8"/><rect x="479.53" y="244.80" width="5.21" height="8.05" fill="#c9d2e5"/><rect x="484.69" y="244.80" width="5.21" height="8.05" fill="#c9d2e5"/><rect x="489.84" y="244.80" width="5.21" height="8.05" fill="#f5f0f1"/><rect x="495.00" y="244.80" width="5.21" height="8.05" fill="#dc9899"/><rect x="500.15" y="244.80" width="5.21" height="8.05" fill="#dc9899"/><rect x="505.31" y="244.80" width="5.21" height="8.05" fill="#c75f62"/><rect x="510.46" y="244.80" width="5.21" height="8.05" fill="#c75f62"/><rect x="515.62" y="244.80" width="5.21" height="8.05" fill="#dc9899"/><rect x="520.77" y="244.80" width="5.21" height="8.05" fill="#dc9899"/><rect x="525.92" y="244.80" width="5.21" height="8.05" fill="#c75f62"/><rect x="531.08" y="244.80" width="5.21" height="8.05" fill="#b73d45"/><rect x="536.24" y="244.80" width="5.21" height="8.05" fill="#dc9899"/><rect x="541.39" y="244.80" width="5.21" height="8.05" fill="#c75f62"/><rect x="139.30" y="252.80" width="5.21" height="8.05" fill="#2f6cb4"/><rect x="144.46" y="252.80" width="5.21" height="8.05" fill="#c9d2e5"/><rect x="149.61" y="252.80" width="5.21" height="8.05" fill="#2f6cb4"/><rect x="154.77" y="252.80" width="5.21" height="8.05" fill="#2f6cb4"/><rect x="159.92" y="252.80" width="5.21" height="8.05" fill="#a2b4d6"/><rect x="165.08" y="252.80" width="5.21" height="8.05" fill="#a2b4d6"/><rect x="170.23" y="252.80" width="5.21" height="8.05" fill="#c9d2e5"/><rect x="175.39" y="252.80" width="5.21" height="8.05" fill="#f5f0f1"/><rect x="180.54" y="252.80" width="5.21" height="8.05" fill="#c9d2e5"/><rect x="185.70" y="252.80" width="5.21" height="8.05" fill="#c9d2e5"/><rect x="190.85" y="252.80" width="5.21" height="8.05" fill="#c9d2e5"/><rect x="196.01" y="252.80" width="5.21" height="8.05" fill="#f5f0f1"/><rect x="201.16" y="252.80" width="5.21" height="8.05" fill="#c9d2e5"/><rect x="206.31" y="252.80" width="5.21" height="8.05" fill="#a2b4d6"/><rect x="211.47" y="252.80" width="5.21" height="8.05" fill="#ecc8c8"/><rect x="216.62" y="252.80" width="5.21" height="8.05" fill="#f5f0f1"/><rect x="221.78" y="252.80" width="5.21" height="8.05" fill="#ecc8c8"/><rect x="226.94" y="252.80" width="5.21" height="8.05" fill="#ecc8c8"/><rect x="232.09" y="252.80" width="5.21" height="8.05" fill="#c9d2e5"/><rect x="237.25" y="252.80" width="5.21" height="8.05" fill="#c9d2e5"/><rect x="242.40" y="252.80" width="5.21" height="8.05" fill="#a2b4d6"/><rect x="247.56" y="252.80" width="5.21" height="8.05" fill="#f5f0f1"/><rect x="252.71" y="252.80" width="5.21" height="8.05" fill="#7894c8"/><rect x="257.87" y="252.80" width="5.21" height="8.05" fill="#f5f0f1"/><rect x="263.02" y="252.80" width="5.21" height="8.05" fill="#c9d2e5"/><rect x="268.18" y="252.80" width="5.21" height="8.05" fill="#f5f0f1"/><rect x="273.33" y="252.80" width="5.21" height="8.05" fill="#c9d2e5"/><rect x="278.49" y="252.80" width="5.21" height="8.05" fill="#a2b4d6"/><rect x="283.64" y="252.80" width="5.21" height="8.05" fill="#a2b4d6"/><rect x="288.80" y="252.80" width="5.21" height="8.05" fill="#c9d2e5"/><rect x="293.95" y="252.80" width="5.21" height="8.05" fill="#f5f0f1"/><rect x="299.11" y="252.80" width="5.21" height="8.05" fill="#a2b4d6"/><rect x="304.26" y="252.80" width="5.21" height="8.05" fill="#2f6cb4"/><rect x="309.42" y="252.80" width="5.21" height="8.05" fill="#c9d2e5"/><rect x="314.57" y="252.80" width="5.21" height="8.05" fill="#c9d2e5"/><rect x="319.73" y="252.80" width="5.21" height="8.05" fill="#a2b4d6"/><rect x="324.88" y="252.80" width="5.21" height="8.05" fill="#a2b4d6"/><rect x="330.04" y="252.80" width="5.21" height="8.05" fill="#a2b4d6"/><rect x="335.19" y="252.80" width="5.21" height="8.05" fill="#a2b4d6"/><rect x="340.35" y="252.80" width="5.21" height="8.05" fill="#2f6cb4"/><rect x="345.50" y="252.80" width="5.21" height="8.05" fill="#2f6cb4"/><rect x="350.66" y="252.80" width="5.21" height="8.05" fill="#2f6cb4"/><rect x="355.81" y="252.80" width="5.21" height="8.05" fill="#2f6cb4"/><rect x="360.97" y="252.80" width="5.21" height="8.05" fill="#2f6cb4"/><rect x="366.12" y="252.80" width="5.21" height="8.05" fill="#a2b4d6"/><rect x="371.28" y="252.80" width="5.21" height="8.05" fill="#2f6cb4"/><rect x="376.43" y="252.80" width="5.21" height="8.05" fill="#2f6cb4"/><rect x="381.59" y="252.80" width="5.21" height="8.05" fill="#2f6cb4"/><rect x="386.74" y="252.80" width="5.21" height="8.05" fill="#2f6cb4"/><rect x="391.89" y="252.80" width="5.21" height="8.05" fill="#f5f0f1"/><rect x="397.05" y="252.80" width="5.21" height="8.05" fill="#c9d2e5"/><rect x="402.21" y="252.80" width="5.21" height="8.05" fill="#c9d2e5"/><rect x="407.36" y="252.80" width="5.21" height="8.05" fill="#f5f0f1"/><rect x="412.52" y="252.80" width="5.21" height="8.05" fill="#c9d2e5"/><rect x="417.67" y="252.80" width="5.21" height="8.05" fill="#f5f0f1"/><rect x="422.83" y="252.80" width="5.21" height="8.05" fill="#ecc8c8"/><rect x="427.98" y="252.80" width="5.21" height="8.05" fill="#c9d2e5"/><rect x="433.14" y="252.80" width="5.21" height="8.05" fill="#c9d2e5"/><rect x="438.29" y="252.80" width="5.21" height="8.05" fill="#c9d2e5"/><rect x="443.45" y="252.80" width="5.21" height="8.05" fill="#ecc8c8"/><rect x="448.60" y="252.80" width="5.21" height="8.05" fill="#ecc8c8"/><rect x="453.76" y="252.80" width="5.21" height="8.05" fill="#2f6cb4"/><rect x="458.91" y="252.80" width="5.21" height="8.05" fill="#f5f0f1"/><rect x="464.07" y="252.80" width="5.21" height="8.05" fill="#f5f0f1"/><rect x="469.22" y="252.80" width="5.21" height="8.05" fill="#f5f0f1"/><rect x="474.38" y="252.80" width="5.21" height="8.05" fill="#dc9899"/><rect x="479.53" y="252.80" width="5.21" height="8.05" fill="#c9d2e5"/><rect x="484.69" y="252.80" width="5.21" height="8.05" fill="#ecc8c8"/><rect x="489.84" y="252.80" width="5.21" height="8.05" fill="#ecc8c8"/><rect x="495.00" y="252.80" width="5.21" height="8.05" fill="#f5f0f1"/><rect x="500.15" y="252.80" width="5.21" height="8.05" fill="#ecc8c8"/><rect x="505.31" y="252.80" width="5.21" height="8.05" fill="#c75f62"/><rect x="510.46" y="252.80" width="5.21" height="8.05" fill="#c75f62"/><rect x="515.62" y="252.80" width="5.21" height="8.05" fill="#dc9899"/><rect x="520.77" y="252.80" width="5.21" height="8.05" fill="#f5f0f1"/><rect x="525.92" y="252.80" width="5.21" height="8.05" fill="#c75f62"/><rect x="531.08" y="252.80" width="5.21" height="8.05" fill="#b73d45"/><rect x="536.24" y="252.80" width="5.21" height="8.05" fill="#c75f62"/><rect x="541.39" y="252.80" width="5.21" height="8.05" fill="#c75f62"/><rect x="139.30" y="260.80" width="5.21" height="8.05" fill="#2f6cb4"/><rect x="144.46" y="260.80" width="5.21" height="8.05" fill="#a2b4d6"/><rect x="149.61" y="260.80" width="5.21" height="8.05" fill="#2f6cb4"/><rect x="154.77" y="260.80" width="5.21" height="8.05" fill="#2f6cb4"/><rect x="159.92" y="260.80" width="5.21" height="8.05" fill="#a2b4d6"/><rect x="165.08" y="260.80" width="5.21" height="8.05" fill="#a2b4d6"/><rect x="170.23" y="260.80" width="5.21" height="8.05" fill="#7894c8"/><rect x="175.39" y="260.80" width="5.21" height="8.05" fill="#f5f0f1"/><rect x="180.54" y="260.80" width="5.21" height="8.05" fill="#a2b4d6"/><rect x="185.70" y="260.80" width="5.21" height="8.05" fill="#c9d2e5"/><rect x="190.85" y="260.80" width="5.21" height="8.05" fill="#c9d2e5"/><rect x="196.01" y="260.80" width="5.21" height="8.05" fill="#c9d2e5"/><rect x="201.16" y="260.80" width="5.21" height="8.05" fill="#c9d2e5"/><rect x="206.31" y="260.80" width="5.21" height="8.05" fill="#c9d2e5"/><rect x="211.47" y="260.80" width="5.21" height="8.05" fill="#a2b4d6"/><rect x="216.62" y="260.80" width="5.21" height="8.05" fill="#f5f0f1"/><rect x="221.78" y="260.80" width="5.21" height="8.05" fill="#f5f0f1"/><rect x="226.94" y="260.80" width="5.21" height="8.05" fill="#c9d2e5"/><rect x="232.09" y="260.80" width="5.21" height="8.05" fill="#c9d2e5"/><rect x="237.25" y="260.80" width="5.21" height="8.05" fill="#c9d2e5"/><rect x="242.40" y="260.80" width="5.21" height="8.05" fill="#a2b4d6"/><rect x="247.56" y="260.80" width="5.21" height="8.05" fill="#a2b4d6"/><rect x="252.71" y="260.80" width="5.21" height="8.05" fill="#a2b4d6"/><rect x="257.87" y="260.80" width="5.21" height="8.05" fill="#c9d2e5"/><rect x="263.02" y="260.80" width="5.21" height="8.05" fill="#a2b4d6"/><rect x="268.18" y="260.80" width="5.21" height="8.05" fill="#2f6cb4"/><rect x="273.33" y="260.80" width="5.21" height="8.05" fill="#2f6cb4"/><rect x="278.49" y="260.80" width="5.21" height="8.05" fill="#7894c8"/><rect x="283.64" y="260.80" width="5.21" height="8.05" fill="#a2b4d6"/><rect x="288.80" y="260.80" width="5.21" height="8.05" fill="#a2b4d6"/><rect x="293.95" y="260.80" width="5.21" height="8.05" fill="#c9d2e5"/><rect x="299.11" y="260.80" width="5.21" height="8.05" fill="#7894c8"/><rect x="304.26" y="260.80" width="5.21" height="8.05" fill="#7894c8"/><rect x="309.42" y="260.80" width="5.21" height="8.05" fill="#a2b4d6"/><rect x="314.57" y="260.80" width="5.21" height="8.05" fill="#a2b4d6"/><rect x="319.73" y="260.80" width="5.21" height="8.05" fill="#7894c8"/><rect x="324.88" y="260.80" width="5.21" height="8.05" fill="#a2b4d6"/><rect x="330.04" y="260.80" width="5.21" height="8.05" fill="#a2b4d6"/><rect x="335.19" y="260.80" width="5.21" height="8.05" fill="#7894c8"/><rect x="340.35" y="260.80" width="5.21" height="8.05" fill="#2f6cb4"/><rect x="345.50" y="260.80" width="5.21" height="8.05" fill="#c9d2e5"/><rect x="350.66" y="260.80" width="5.21" height="8.05" fill="#a2b4d6"/><rect x="355.81" y="260.80" width="5.21" height="8.05" fill="#c9d2e5"/><rect x="360.97" y="260.80" width="5.21" height="8.05" fill="#a2b4d6"/><rect x="366.12" y="260.80" width="5.21" height="8.05" fill="#f5f0f1"/><rect x="371.28" y="260.80" width="5.21" height="8.05" fill="#2f6cb4"/><rect x="376.43" y="260.80" width="5.21" height="8.05" fill="#2f6cb4"/><rect x="381.59" y="260.80" width="5.21" height="8.05" fill="#a2b4d6"/><rect x="386.74" y="260.80" width="5.21" height="8.05" fill="#c9d2e5"/><rect x="391.89" y="260.80" width="5.21" height="8.05" fill="#a2b4d6"/><rect x="397.05" y="260.80" width="5.21" height="8.05" fill="#a2b4d6"/><rect x="402.21" y="260.80" width="5.21" height="8.05" fill="#2f6cb4"/><rect x="407.36" y="260.80" width="5.21" height="8.05" fill="#2f6cb4"/><rect x="412.52" y="260.80" width="5.21" height="8.05" fill="#2f6cb4"/><rect x="417.67" y="260.80" width="5.21" height="8.05" fill="#f5f0f1"/><rect x="422.83" y="260.80" width="5.21" height="8.05" fill="#c9d2e5"/><rect x="427.98" y="260.80" width="5.21" height="8.05" fill="#a2b4d6"/><rect x="433.14" y="260.80" width="5.21" height="8.05" fill="#a2b4d6"/><rect x="438.29" y="260.80" width="5.21" height="8.05" fill="#c9d2e5"/><rect x="443.45" y="260.80" width="5.21" height="8.05" fill="#dc9899"/><rect x="448.60" y="260.80" width="5.21" height="8.05" fill="#f5f0f1"/><rect x="453.76" y="260.80" width="5.21" height="8.05" fill="#c9d2e5"/><rect x="458.91" y="260.80" width="5.21" height="8.05" fill="#c9d2e5"/><rect x="464.07" y="260.80" width="5.21" height="8.05" fill="#a2b4d6"/><rect x="469.22" y="260.80" width="5.21" height="8.05" fill="#c9d2e5"/><rect x="474.38" y="260.80" width="5.21" height="8.05" fill="#ecc8c8"/><rect x="479.53" y="260.80" width="5.21" height="8.05" fill="#c9d2e5"/><rect x="484.69" y="260.80" width="5.21" height="8.05" fill="#ecc8c8"/><rect x="489.84" y="260.80" width="5.21" height="8.05" fill="#f5f0f1"/><rect x="495.00" y="260.80" width="5.21" height="8.05" fill="#f5f0f1"/><rect x="500.15" y="260.80" width="5.21" height="8.05" fill="#c9d2e5"/><rect x="505.31" y="260.80" width="5.21" height="8.05" fill="#c75f62"/><rect x="510.46" y="260.80" width="5.21" height="8.05" fill="#c75f62"/><rect x="515.62" y="260.80" width="5.21" height="8.05" fill="#dc9899"/><rect x="520.77" y="260.80" width="5.21" height="8.05" fill="#ecc8c8"/><rect x="525.92" y="260.80" width="5.21" height="8.05" fill="#c75f62"/><rect x="531.08" y="260.80" width="5.21" height="8.05" fill="#b73d45"/><rect x="536.24" y="260.80" width="5.21" height="8.05" fill="#c75f62"/><rect x="541.39" y="260.80" width="5.21" height="8.05" fill="#c75f62"/><rect x="139.30" y="268.80" width="5.21" height="8.05" fill="#2f6cb4"/><rect x="144.46" y="268.80" width="5.21" height="8.05" fill="#a2b4d6"/><rect x="149.61" y="268.80" width="5.21" height="8.05" fill="#a2b4d6"/><rect x="154.77" y="268.80" width="5.21" height="8.05" fill="#2f6cb4"/><rect x="159.92" y="268.80" width="5.21" height="8.05" fill="#c9d2e5"/><rect x="165.08" y="268.80" width="5.21" height="8.05" fill="#c9d2e5"/><rect x="170.23" y="268.80" width="5.21" height="8.05" fill="#c9d2e5"/><rect x="175.39" y="268.80" width="5.21" height="8.05" fill="#f5f0f1"/><rect x="180.54" y="268.80" width="5.21" height="8.05" fill="#f5f0f1"/><rect x="185.70" y="268.80" width="5.21" height="8.05" fill="#c9d2e5"/><rect x="190.85" y="268.80" width="5.21" height="8.05" fill="#c9d2e5"/><rect x="196.01" y="268.80" width="5.21" height="8.05" fill="#f5f0f1"/><rect x="201.16" y="268.80" width="5.21" height="8.05" fill="#f5f0f1"/><rect x="206.31" y="268.80" width="5.21" height="8.05" fill="#f5f0f1"/><rect x="211.47" y="268.80" width="5.21" height="8.05" fill="#c9d2e5"/><rect x="216.62" y="268.80" width="5.21" height="8.05" fill="#c9d2e5"/><rect x="221.78" y="268.80" width="5.21" height="8.05" fill="#f5f0f1"/><rect x="226.94" y="268.80" width="5.21" height="8.05" fill="#ecc8c8"/><rect x="232.09" y="268.80" width="5.21" height="8.05" fill="#c9d2e5"/><rect x="237.25" y="268.80" width="5.21" height="8.05" fill="#7894c8"/><rect x="242.40" y="268.80" width="5.21" height="8.05" fill="#c9d2e5"/><rect x="247.56" y="268.80" width="5.21" height="8.05" fill="#c9d2e5"/><rect x="252.71" y="268.80" width="5.21" height="8.05" fill="#c9d2e5"/><rect x="257.87" y="268.80" width="5.21" height="8.05" fill="#f5f0f1"/><rect x="263.02" y="268.80" width="5.21" height="8.05" fill="#c9d2e5"/><rect x="268.18" y="268.80" width="5.21" height="8.05" fill="#2f6cb4"/><rect x="273.33" y="268.80" width="5.21" height="8.05" fill="#c9d2e5"/><rect x="278.49" y="268.80" width="5.21" height="8.05" fill="#7894c8"/><rect x="283.64" y="268.80" width="5.21" height="8.05" fill="#a2b4d6"/><rect x="288.80" y="268.80" width="5.21" height="8.05" fill="#c9d2e5"/><rect x="293.95" y="268.80" width="5.21" height="8.05" fill="#2f6cb4"/><rect x="299.11" y="268.80" width="5.21" height="8.05" fill="#c9d2e5"/><rect x="304.26" y="268.80" width="5.21" height="8.05" fill="#2f6cb4"/><rect x="309.42" y="268.80" width="5.21" height="8.05" fill="#7894c8"/><rect x="314.57" y="268.80" width="5.21" height="8.05" fill="#7894c8"/><rect x="319.73" y="268.80" width="5.21" height="8.05" fill="#a2b4d6"/><rect x="324.88" y="268.80" width="5.21" height="8.05" fill="#2f6cb4"/><rect x="330.04" y="268.80" width="5.21" height="8.05" fill="#2f6cb4"/><rect x="335.19" y="268.80" width="5.21" height="8.05" fill="#2f6cb4"/><rect x="340.35" y="268.80" width="5.21" height="8.05" fill="#2f6cb4"/><rect x="345.50" y="268.80" width="5.21" height="8.05" fill="#2f6cb4"/><rect x="350.66" y="268.80" width="5.21" height="8.05" fill="#2f6cb4"/><rect x="355.81" y="268.80" width="5.21" height="8.05" fill="#a2b4d6"/><rect x="360.97" y="268.80" width="5.21" height="8.05" fill="#a2b4d6"/><rect x="366.12" y="268.80" width="5.21" height="8.05" fill="#7894c8"/><rect x="371.28" y="268.80" width="5.21" height="8.05" fill="#c9d2e5"/><rect x="376.43" y="268.80" width="5.21" height="8.05" fill="#2f6cb4"/><rect x="381.59" y="268.80" width="5.21" height="8.05" fill="#a2b4d6"/><rect x="386.74" y="268.80" width="5.21" height="8.05" fill="#2f6cb4"/><rect x="391.89" y="268.80" width="5.21" height="8.05" fill="#a2b4d6"/><rect x="397.05" y="268.80" width="5.21" height="8.05" fill="#f5f0f1"/><rect x="402.21" y="268.80" width="5.21" height="8.05" fill="#2f6cb4"/><rect x="407.36" y="268.80" width="5.21" height="8.05" fill="#ecc8c8"/><rect x="412.52" y="268.80" width="5.21" height="8.05" fill="#2f6cb4"/><rect x="417.67" y="268.80" width="5.21" height="8.05" fill="#c9d2e5"/><rect x="422.83" y="268.80" width="5.21" height="8.05" fill="#2f6cb4"/><rect x="427.98" y="268.80" width="5.21" height="8.05" fill="#a2b4d6"/><rect x="433.14" y="268.80" width="5.21" height="8.05" fill="#a2b4d6"/><rect x="438.29" y="268.80" width="5.21" height="8.05" fill="#c9d2e5"/><rect x="443.45" y="268.80" width="5.21" height="8.05" fill="#ecc8c8"/><rect x="448.60" y="268.80" width="5.21" height="8.05" fill="#f5f0f1"/><rect x="453.76" y="268.80" width="5.21" height="8.05" fill="#c9d2e5"/><rect x="458.91" y="268.80" width="5.21" height="8.05" fill="#c9d2e5"/><rect x="464.07" y="268.80" width="5.21" height="8.05" fill="#f5f0f1"/><rect x="469.22" y="268.80" width="5.21" height="8.05" fill="#a2b4d6"/><rect x="474.38" y="268.80" width="5.21" height="8.05" fill="#ecc8c8"/><rect x="479.53" y="268.80" width="5.21" height="8.05" fill="#c9d2e5"/><rect x="484.69" y="268.80" width="5.21" height="8.05" fill="#f5f0f1"/><rect x="489.84" y="268.80" width="5.21" height="8.05" fill="#f5f0f1"/><rect x="495.00" y="268.80" width="5.21" height="8.05" fill="#f5f0f1"/><rect x="500.15" y="268.80" width="5.21" height="8.05" fill="#f5f0f1"/><rect x="505.31" y="268.80" width="5.21" height="8.05" fill="#c75f62"/><rect x="510.46" y="268.80" width="5.21" height="8.05" fill="#c75f62"/><rect x="515.62" y="268.80" width="5.21" height="8.05" fill="#dc9899"/><rect x="520.77" y="268.80" width="5.21" height="8.05" fill="#ecc8c8"/><rect x="525.92" y="268.80" width="5.21" height="8.05" fill="#c75f62"/><rect x="531.08" y="268.80" width="5.21" height="8.05" fill="#b73d45"/><rect x="536.24" y="268.80" width="5.21" height="8.05" fill="#c75f62"/><rect x="541.39" y="268.80" width="5.21" height="8.05" fill="#c75f62"/><rect x="139.30" y="276.80" width="5.21" height="8.05" fill="#dc9899"/><rect x="144.46" y="276.80" width="5.21" height="8.05" fill="#c75f62"/><rect x="149.61" y="276.80" width="5.21" height="8.05" fill="#dc9899"/><rect x="154.77" y="276.80" width="5.21" height="8.05" fill="#f5f0f1"/><rect x="159.92" y="276.80" width="5.21" height="8.05" fill="#dc9899"/><rect x="165.08" y="276.80" width="5.21" height="8.05" fill="#dc9899"/><rect x="170.23" y="276.80" width="5.21" height="8.05" fill="#dc9899"/><rect x="175.39" y="276.80" width="5.21" height="8.05" fill="#c75f62"/><rect x="180.54" y="276.80" width="5.21" height="8.05" fill="#c75f62"/><rect x="185.70" y="276.80" width="5.21" height="8.05" fill="#dc9899"/><rect x="190.85" y="276.80" width="5.21" height="8.05" fill="#dc9899"/><rect x="196.01" y="276.80" width="5.21" height="8.05" fill="#dc9899"/><rect x="201.16" y="276.80" width="5.21" height="8.05" fill="#ecc8c8"/><rect x="206.31" y="276.80" width="5.21" height="8.05" fill="#c75f62"/><rect x="211.47" y="276.80" width="5.21" height="8.05" fill="#dc9899"/><rect x="216.62" y="276.80" width="5.21" height="8.05" fill="#dc9899"/><rect x="221.78" y="276.80" width="5.21" height="8.05" fill="#c75f62"/><rect x="226.94" y="276.80" width="5.21" height="8.05" fill="#c75f62"/><rect x="232.09" y="276.80" width="5.21" height="8.05" fill="#c75f62"/><rect x="237.25" y="276.80" width="5.21" height="8.05" fill="#c75f62"/><rect x="242.40" y="276.80" width="5.21" height="8.05" fill="#dc9899"/><rect x="247.56" y="276.80" width="5.21" height="8.05" fill="#c75f62"/><rect x="252.71" y="276.80" width="5.21" height="8.05" fill="#dc9899"/><rect x="257.87" y="276.80" width="5.21" height="8.05" fill="#dc9899"/><rect x="263.02" y="276.80" width="5.21" height="8.05" fill="#dc9899"/><rect x="268.18" y="276.80" width="5.21" height="8.05" fill="#dc9899"/><rect x="273.33" y="276.80" width="5.21" height="8.05" fill="#dc9899"/><rect x="278.49" y="276.80" width="5.21" height="8.05" fill="#f5f0f1"/><rect x="283.64" y="276.80" width="5.21" height="8.05" fill="#a2b4d6"/><rect x="288.80" y="276.80" width="5.21" height="8.05" fill="#dc9899"/><rect x="293.95" y="276.80" width="5.21" height="8.05" fill="#dc9899"/><rect x="299.11" y="276.80" width="5.21" height="8.05" fill="#dc9899"/><rect x="304.26" y="276.80" width="5.21" height="8.05" fill="#dc9899"/><rect x="309.42" y="276.80" width="5.21" height="8.05" fill="#dc9899"/><rect x="314.57" y="276.80" width="5.21" height="8.05" fill="#dc9899"/><rect x="319.73" y="276.80" width="5.21" height="8.05" fill="#dc9899"/><rect x="324.88" y="276.80" width="5.21" height="8.05" fill="#dc9899"/><rect x="330.04" y="276.80" width="5.21" height="8.05" fill="#dc9899"/><rect x="335.19" y="276.80" width="5.21" height="8.05" fill="#dc9899"/><rect x="340.35" y="276.80" width="5.21" height="8.05" fill="#dc9899"/><rect x="345.50" y="276.80" width="5.21" height="8.05" fill="#dc9899"/><rect x="350.66" y="276.80" width="5.21" height="8.05" fill="#ecc8c8"/><rect x="355.81" y="276.80" width="5.21" height="8.05" fill="#ecc8c8"/><rect x="360.97" y="276.80" width="5.21" height="8.05" fill="#dc9899"/><rect x="366.12" y="276.80" width="5.21" height="8.05" fill="#dc9899"/><rect x="371.28" y="276.80" width="5.21" height="8.05" fill="#c75f62"/><rect x="376.43" y="276.80" width="5.21" height="8.05" fill="#ecc8c8"/><rect x="381.59" y="276.80" width="5.21" height="8.05" fill="#dc9899"/><rect x="386.74" y="276.80" width="5.21" height="8.05" fill="#dc9899"/><rect x="391.89" y="276.80" width="5.21" height="8.05" fill="#f5f0f1"/><rect x="397.05" y="276.80" width="5.21" height="8.05" fill="#dc9899"/><rect x="402.21" y="276.80" width="5.21" height="8.05" fill="#c75f62"/><rect x="407.36" y="276.80" width="5.21" height="8.05" fill="#dc9899"/><rect x="412.52" y="276.80" width="5.21" height="8.05" fill="#ecc8c8"/><rect x="417.67" y="276.80" width="5.21" height="8.05" fill="#dc9899"/><rect x="422.83" y="276.80" width="5.21" height="8.05" fill="#dc9899"/><rect x="427.98" y="276.80" width="5.21" height="8.05" fill="#dc9899"/><rect x="433.14" y="276.80" width="5.21" height="8.05" fill="#dc9899"/><rect x="438.29" y="276.80" width="5.21" height="8.05" fill="#dc9899"/><rect x="443.45" y="276.80" width="5.21" height="8.05" fill="#dc9899"/><rect x="448.60" y="276.80" width="5.21" height="8.05" fill="#f5f0f1"/><rect x="453.76" y="276.80" width="5.21" height="8.05" fill="#b73d45"/><rect x="458.91" y="276.80" width="5.21" height="8.05" fill="#dc9899"/><rect x="464.07" y="276.80" width="5.21" height="8.05" fill="#dc9899"/><rect x="469.22" y="276.80" width="5.21" height="8.05" fill="#c75f62"/><rect x="474.38" y="276.80" width="5.21" height="8.05" fill="#ecc8c8"/><rect x="479.53" y="276.80" width="5.21" height="8.05" fill="#dc9899"/><rect x="484.69" y="276.80" width="5.21" height="8.05" fill="#f5f0f1"/><rect x="489.84" y="276.80" width="5.21" height="8.05" fill="#dc9899"/><rect x="495.00" y="276.80" width="5.21" height="8.05" fill="#dc9899"/><rect x="500.15" y="276.80" width="5.21" height="8.05" fill="#dc9899"/><rect x="505.31" y="276.80" width="5.21" height="8.05" fill="#c75f62"/><rect x="510.46" y="276.80" width="5.21" height="8.05" fill="#c75f62"/><rect x="515.62" y="276.80" width="5.21" height="8.05" fill="#c75f62"/><rect x="520.77" y="276.80" width="5.21" height="8.05" fill="#b73d45"/><rect x="525.92" y="276.80" width="5.21" height="8.05" fill="#dc9899"/><rect x="531.08" y="276.80" width="5.21" height="8.05" fill="#b73d45"/><rect x="536.24" y="276.80" width="5.21" height="8.05" fill="#c75f62"/><rect x="541.39" y="276.80" width="5.21" height="8.05" fill="#c75f62"/><rect x="139.30" y="284.80" width="5.21" height="8.05" fill="#dc9899"/><rect x="144.46" y="284.80" width="5.21" height="8.05" fill="#ecc8c8"/><rect x="149.61" y="284.80" width="5.21" height="8.05" fill="#f5f0f1"/><rect x="154.77" y="284.80" width="5.21" height="8.05" fill="#ecc8c8"/><rect x="159.92" y="284.80" width="5.21" height="8.05" fill="#ecc8c8"/><rect x="165.08" y="284.80" width="5.21" height="8.05" fill="#ecc8c8"/><rect x="170.23" y="284.80" width="5.21" height="8.05" fill="#dc9899"/><rect x="175.39" y="284.80" width="5.21" height="8.05" fill="#dc9899"/><rect x="180.54" y="284.80" width="5.21" height="8.05" fill="#dc9899"/><rect x="185.70" y="284.80" width="5.21" height="8.05" fill="#dc9899"/><rect x="190.85" y="284.80" width="5.21" height="8.05" fill="#dc9899"/><rect x="196.01" y="284.80" width="5.21" height="8.05" fill="#dc9899"/><rect x="201.16" y="284.80" width="5.21" height="8.05" fill="#ecc8c8"/><rect x="206.31" y="284.80" width="5.21" height="8.05" fill="#dc9899"/><rect x="211.47" y="284.80" width="5.21" height="8.05" fill="#dc9899"/><rect x="216.62" y="284.80" width="5.21" height="8.05" fill="#dc9899"/><rect x="221.78" y="284.80" width="5.21" height="8.05" fill="#c75f62"/><rect x="226.94" y="284.80" width="5.21" height="8.05" fill="#dc9899"/><rect x="232.09" y="284.80" width="5.21" height="8.05" fill="#ecc8c8"/><rect x="237.25" y="284.80" width="5.21" height="8.05" fill="#c75f62"/><rect x="242.40" y="284.80" width="5.21" height="8.05" fill="#dc9899"/><rect x="247.56" y="284.80" width="5.21" height="8.05" fill="#dc9899"/><rect x="252.71" y="284.80" width="5.21" height="8.05" fill="#ecc8c8"/><rect x="257.87" y="284.80" width="5.21" height="8.05" fill="#dc9899"/><rect x="263.02" y="284.80" width="5.21" height="8.05" fill="#ecc8c8"/><rect x="268.18" y="284.80" width="5.21" height="8.05" fill="#ecc8c8"/><rect x="273.33" y="284.80" width="5.21" height="8.05" fill="#ecc8c8"/><rect x="278.49" y="284.80" width="5.21" height="8.05" fill="#f5f0f1"/><rect x="283.64" y="284.80" width="5.21" height="8.05" fill="#f5f0f1"/><rect x="288.80" y="284.80" width="5.21" height="8.05" fill="#dc9899"/><rect x="293.95" y="284.80" width="5.21" height="8.05" fill="#dc9899"/><rect x="299.11" y="284.80" width="5.21" height="8.05" fill="#ecc8c8"/><rect x="304.26" y="284.80" width="5.21" height="8.05" fill="#dc9899"/><rect x="309.42" y="284.80" width="5.21" height="8.05" fill="#dc9899"/><rect x="314.57" y="284.80" width="5.21" height="8.05" fill="#ecc8c8"/><rect x="319.73" y="284.80" width="5.21" height="8.05" fill="#ecc8c8"/><rect x="324.88" y="284.80" width="5.21" height="8.05" fill="#dc9899"/><rect x="330.04" y="284.80" width="5.21" height="8.05" fill="#ecc8c8"/><rect x="335.19" y="284.80" width="5.21" height="8.05" fill="#ecc8c8"/><rect x="340.35" y="284.80" width="5.21" height="8.05" fill="#ecc8c8"/><rect x="345.50" y="284.80" width="5.21" height="8.05" fill="#ecc8c8"/><rect x="350.66" y="284.80" width="5.21" height="8.05" fill="#ecc8c8"/><rect x="355.81" y="284.80" width="5.21" height="8.05" fill="#ecc8c8"/><rect x="360.97" y="284.80" width="5.21" height="8.05" fill="#ecc8c8"/><rect x="366.12" y="284.80" width="5.21" height="8.05" fill="#ecc8c8"/><rect x="371.28" y="284.80" width="5.21" height="8.05" fill="#ecc8c8"/><rect x="376.43" y="284.80" width="5.21" height="8.05" fill="#ecc8c8"/><rect x="381.59" y="284.80" width="5.21" height="8.05" fill="#ecc8c8"/><rect x="386.74" y="284.80" width="5.21" height="8.05" fill="#ecc8c8"/><rect x="391.89" y="284.80" width="5.21" height="8.05" fill="#ecc8c8"/><rect x="397.05" y="284.80" width="5.21" height="8.05" fill="#ecc8c8"/><rect x="402.21" y="284.80" width="5.21" height="8.05" fill="#dc9899"/><rect x="407.36" y="284.80" width="5.21" height="8.05" fill="#dc9899"/><rect x="412.52" y="284.80" width="5.21" height="8.05" fill="#ecc8c8"/><rect x="417.67" y="284.80" width="5.21" height="8.05" fill="#dc9899"/><rect x="422.83" y="284.80" width="5.21" height="8.05" fill="#ecc8c8"/><rect x="427.98" y="284.80" width="5.21" height="8.05" fill="#ecc8c8"/><rect x="433.14" y="284.80" width="5.21" height="8.05" fill="#c75f62"/><rect x="438.29" y="284.80" width="5.21" height="8.05" fill="#dc9899"/><rect x="443.45" y="284.80" width="5.21" height="8.05" fill="#dc9899"/><rect x="448.60" y="284.80" width="5.21" height="8.05" fill="#f5f0f1"/><rect x="453.76" y="284.80" width="5.21" height="8.05" fill="#b73d45"/><rect x="458.91" y="284.80" width="5.21" height="8.05" fill="#dc9899"/><rect x="464.07" y="284.80" width="5.21" height="8.05" fill="#dc9899"/><rect x="469.22" y="284.80" width="5.21" height="8.05" fill="#dc9899"/><rect x="474.38" y="284.80" width="5.21" height="8.05" fill="#dc9899"/><rect x="479.53" y="284.80" width="5.21" height="8.05" fill="#dc9899"/><rect x="484.69" y="284.80" width="5.21" height="8.05" fill="#c9d2e5"/><rect x="489.84" y="284.80" width="5.21" height="8.05" fill="#dc9899"/><rect x="495.00" y="284.80" width="5.21" height="8.05" fill="#dc9899"/><rect x="500.15" y="284.80" width="5.21" height="8.05" fill="#ecc8c8"/><rect x="505.31" y="284.80" width="5.21" height="8.05" fill="#c75f62"/><rect x="510.46" y="284.80" width="5.21" height="8.05" fill="#c75f62"/><rect x="515.62" y="284.80" width="5.21" height="8.05" fill="#dc9899"/><rect x="520.77" y="284.80" width="5.21" height="8.05" fill="#c75f62"/><rect x="525.92" y="284.80" width="5.21" height="8.05" fill="#ecc8c8"/><rect x="531.08" y="284.80" width="5.21" height="8.05" fill="#b73d45"/><rect x="536.24" y="284.80" width="5.21" height="8.05" fill="#c75f62"/><rect x="541.39" y="284.80" width="5.21" height="8.05" fill="#dc9899"/><rect x="139.30" y="292.80" width="5.21" height="8.05" fill="#c9d2e5"/><rect x="144.46" y="292.80" width="5.21" height="8.05" fill="#2f6cb4"/><rect x="149.61" y="292.80" width="5.21" height="8.05" fill="#2f6cb4"/><rect x="154.77" y="292.80" width="5.21" height="8.05" fill="#2f6cb4"/><rect x="159.92" y="292.80" width="5.21" height="8.05" fill="#c9d2e5"/><rect x="165.08" y="292.80" width="5.21" height="8.05" fill="#c9d2e5"/><rect x="170.23" y="292.80" width="5.21" height="8.05" fill="#c9d2e5"/><rect x="175.39" y="292.80" width="5.21" height="8.05" fill="#f5f0f1"/><rect x="180.54" y="292.80" width="5.21" height="8.05" fill="#ecc8c8"/><rect x="185.70" y="292.80" width="5.21" height="8.05" fill="#f5f0f1"/><rect x="190.85" y="292.80" width="5.21" height="8.05" fill="#f5f0f1"/><rect x="196.01" y="292.80" width="5.21" height="8.05" fill="#ecc8c8"/><rect x="201.16" y="292.80" width="5.21" height="8.05" fill="#f5f0f1"/><rect x="206.31" y="292.80" width="5.21" height="8.05" fill="#c9d2e5"/><rect x="211.47" y="292.80" width="5.21" height="8.05" fill="#c9d2e5"/><rect x="216.62" y="292.80" width="5.21" height="8.05" fill="#ecc8c8"/><rect x="221.78" y="292.80" width="5.21" height="8.05" fill="#dc9899"/><rect x="226.94" y="292.80" width="5.21" height="8.05" fill="#ecc8c8"/><rect x="232.09" y="292.80" width="5.21" height="8.05" fill="#c9d2e5"/><rect x="237.25" y="292.80" width="5.21" height="8.05" fill="#dc9899"/><rect x="242.40" y="292.80" width="5.21" height="8.05" fill="#ecc8c8"/><rect x="247.56" y="292.80" width="5.21" height="8.05" fill="#ecc8c8"/><rect x="252.71" y="292.80" width="5.21" height="8.05" fill="#c9d2e5"/><rect x="257.87" y="292.80" width="5.21" height="8.05" fill="#c9d2e5"/><rect x="263.02" y="292.80" width="5.21" height="8.05" fill="#f5f0f1"/><rect x="268.18" y="292.80" width="5.21" height="8.05" fill="#2f6cb4"/><rect x="273.33" y="292.80" width="5.21" height="8.05" fill="#c9d2e5"/><rect x="278.49" y="292.80" width="5.21" height="8.05" fill="#2f6cb4"/><rect x="283.64" y="292.80" width="5.21" height="8.05" fill="#c9d2e5"/><rect x="288.80" y="292.80" width="5.21" height="8.05" fill="#c9d2e5"/><rect x="293.95" y="292.80" width="5.21" height="8.05" fill="#c9d2e5"/><rect x="299.11" y="292.80" width="5.21" height="8.05" fill="#c9d2e5"/><rect x="304.26" y="292.80" width="5.21" height="8.05" fill="#ecc8c8"/><rect x="309.42" y="292.80" width="5.21" height="8.05" fill="#f5f0f1"/><rect x="314.57" y="292.80" width="5.21" height="8.05" fill="#ecc8c8"/><rect x="319.73" y="292.80" width="5.21" height="8.05" fill="#f5f0f1"/><rect x="324.88" y="292.80" width="5.21" height="8.05" fill="#f5f0f1"/><rect x="330.04" y="292.80" width="5.21" height="8.05" fill="#a2b4d6"/><rect x="335.19" y="292.80" width="5.21" height="8.05" fill="#f5f0f1"/><rect x="340.35" y="292.80" width="5.21" height="8.05" fill="#2f6cb4"/><rect x="345.50" y="292.80" width="5.21" height="8.05" fill="#a2b4d6"/><rect x="350.66" y="292.80" width="5.21" height="8.05" fill="#f5f0f1"/><rect x="355.81" y="292.80" width="5.21" height="8.05" fill="#a2b4d6"/><rect x="360.97" y="292.80" width="5.21" height="8.05" fill="#f5f0f1"/><rect x="366.12" y="292.80" width="5.21" height="8.05" fill="#f5f0f1"/><rect x="371.28" y="292.80" width="5.21" height="8.05" fill="#f5f0f1"/><rect x="376.43" y="292.80" width="5.21" height="8.05" fill="#f5f0f1"/><rect x="381.59" y="292.80" width="5.21" height="8.05" fill="#c9d2e5"/><rect x="386.74" y="292.80" width="5.21" height="8.05" fill="#c9d2e5"/><rect x="391.89" y="292.80" width="5.21" height="8.05" fill="#a2b4d6"/><rect x="397.05" y="292.80" width="5.21" height="8.05" fill="#2f6cb4"/><rect x="402.21" y="292.80" width="5.21" height="8.05" fill="#ecc8c8"/><rect x="407.36" y="292.80" width="5.21" height="8.05" fill="#c9d2e5"/><rect x="412.52" y="292.80" width="5.21" height="8.05" fill="#ecc8c8"/><rect x="417.67" y="292.80" width="5.21" height="8.05" fill="#c9d2e5"/><rect x="422.83" y="292.80" width="5.21" height="8.05" fill="#ecc8c8"/><rect x="427.98" y="292.80" width="5.21" height="8.05" fill="#c9d2e5"/><rect x="433.14" y="292.80" width="5.21" height="8.05" fill="#dc9899"/><rect x="438.29" y="292.80" width="5.21" height="8.05" fill="#dc9899"/><rect x="443.45" y="292.80" width="5.21" height="8.05" fill="#f5f0f1"/><rect x="448.60" y="292.80" width="5.21" height="8.05" fill="#2f6cb4"/><rect x="453.76" y="292.80" width="5.21" height="8.05" fill="#c75f62"/><rect x="458.91" y="292.80" width="5.21" height="8.05" fill="#ecc8c8"/><rect x="464.07" y="292.80" width="5.21" height="8.05" fill="#ecc8c8"/><rect x="469.22" y="292.80" width="5.21" height="8.05" fill="#ecc8c8"/><rect x="474.38" y="292.80" width="5.21" height="8.05" fill="#dc9899"/><rect x="479.53" y="292.80" width="5.21" height="8.05" fill="#ecc8c8"/><rect x="484.69" y="292.80" width="5.21" height="8.05" fill="#a2b4d6"/><rect x="489.84" y="292.80" width="5.21" height="8.05" fill="#c9d2e5"/><rect x="495.00" y="292.80" width="5.21" height="8.05" fill="#dc9899"/><rect x="500.15" y="292.80" width="5.21" height="8.05" fill="#f5f0f1"/><rect x="505.31" y="292.80" width="5.21" height="8.05" fill="#c75f62"/><rect x="510.46" y="292.80" width="5.21" height="8.05" fill="#dc9899"/><rect x="515.62" y="292.80" width="5.21" height="8.05" fill="#dc9899"/><rect x="520.77" y="292.80" width="5.21" height="8.05" fill="#c75f62"/><rect x="525.92" y="292.80" width="5.21" height="8.05" fill="#f5f0f1"/><rect x="531.08" y="292.80" width="5.21" height="8.05" fill="#b73d45"/><rect x="536.24" y="292.80" width="5.21" height="8.05" fill="#c75f62"/><rect x="541.39" y="292.80" width="5.21" height="8.05" fill="#dc9899"/><rect x="139.30" y="300.80" width="5.21" height="8.05" fill="#ecc8c8"/><rect x="144.46" y="300.80" width="5.21" height="8.05" fill="#ecc8c8"/><rect x="149.61" y="300.80" width="5.21" height="8.05" fill="#f5f0f1"/><rect x="154.77" y="300.80" width="5.21" height="8.05" fill="#f5f0f1"/><rect x="159.92" y="300.80" width="5.21" height="8.05" fill="#f5f0f1"/><rect x="165.08" y="300.80" width="5.21" height="8.05" fill="#f5f0f1"/><rect x="170.23" y="300.80" width="5.21" height="8.05" fill="#ecc8c8"/><rect x="175.39" y="300.80" width="5.21" height="8.05" fill="#f5f0f1"/><rect x="180.54" y="300.80" width="5.21" height="8.05" fill="#f5f0f1"/><rect x="185.70" y="300.80" width="5.21" height="8.05" fill="#f5f0f1"/><rect x="190.85" y="300.80" width="5.21" height="8.05" fill="#f5f0f1"/><rect x="196.01" y="300.80" width="5.21" height="8.05" fill="#ecc8c8"/><rect x="201.16" y="300.80" width="5.21" height="8.05" fill="#f5f0f1"/><rect x="206.31" y="300.80" width="5.21" height="8.05" fill="#f5f0f1"/><rect x="211.47" y="300.80" width="5.21" height="8.05" fill="#c9d2e5"/><rect x="216.62" y="300.80" width="5.21" height="8.05" fill="#ecc8c8"/><rect x="221.78" y="300.80" width="5.21" height="8.05" fill="#ecc8c8"/><rect x="226.94" y="300.80" width="5.21" height="8.05" fill="#f5f0f1"/><rect x="232.09" y="300.80" width="5.21" height="8.05" fill="#f5f0f1"/><rect x="237.25" y="300.80" width="5.21" height="8.05" fill="#ecc8c8"/><rect x="242.40" y="300.80" width="5.21" height="8.05" fill="#f5f0f1"/><rect x="247.56" y="300.80" width="5.21" height="8.05" fill="#f5f0f1"/><rect x="252.71" y="300.80" width="5.21" height="8.05" fill="#f5f0f1"/><rect x="257.87" y="300.80" width="5.21" height="8.05" fill="#f5f0f1"/><rect x="263.02" y="300.80" width="5.21" height="8.05" fill="#f5f0f1"/><rect x="268.18" y="300.80" width="5.21" height="8.05" fill="#ecc8c8"/><rect x="273.33" y="300.80" width="5.21" height="8.05" fill="#f5f0f1"/><rect x="278.49" y="300.80" width="5.21" height="8.05" fill="#f5f0f1"/><rect x="283.64" y="300.80" width="5.21" height="8.05" fill="#f5f0f1"/><rect x="288.80" y="300.80" width="5.21" height="8.05" fill="#ecc8c8"/><rect x="293.95" y="300.80" width="5.21" height="8.05" fill="#ecc8c8"/><rect x="299.11" y="300.80" width="5.21" height="8.05" fill="#f5f0f1"/><rect x="304.26" y="300.80" width="5.21" height="8.05" fill="#f5f0f1"/><rect x="309.42" y="300.80" width="5.21" height="8.05" fill="#f5f0f1"/><rect x="314.57" y="300.80" width="5.21" height="8.05" fill="#f5f0f1"/><rect x="319.73" y="300.80" width="5.21" height="8.05" fill="#ecc8c8"/><rect x="324.88" y="300.80" width="5.21" height="8.05" fill="#f5f0f1"/><rect x="330.04" y="300.80" width="5.21" height="8.05" fill="#f5f0f1"/><rect x="335.19" y="300.80" width="5.21" height="8.05" fill="#ecc8c8"/><rect x="340.35" y="300.80" width="5.21" height="8.05" fill="#ecc8c8"/><rect x="345.50" y="300.80" width="5.21" height="8.05" fill="#c9d2e5"/><rect x="350.66" y="300.80" width="5.21" height="8.05" fill="#f5f0f1"/><rect x="355.81" y="300.80" width="5.21" height="8.05" fill="#f5f0f1"/><rect x="360.97" y="300.80" width="5.21" height="8.05" fill="#f5f0f1"/><rect x="366.12" y="300.80" width="5.21" height="8.05" fill="#f5f0f1"/><rect x="371.28" y="300.80" width="5.21" height="8.05" fill="#f5f0f1"/><rect x="376.43" y="300.80" width="5.21" height="8.05" fill="#f5f0f1"/><rect x="381.59" y="300.80" width="5.21" height="8.05" fill="#f5f0f1"/><rect x="386.74" y="300.80" width="5.21" height="8.05" fill="#c9d2e5"/><rect x="391.89" y="300.80" width="5.21" height="8.05" fill="#ecc8c8"/><rect x="397.05" y="300.80" width="5.21" height="8.05" fill="#ecc8c8"/><rect x="402.21" y="300.80" width="5.21" height="8.05" fill="#ecc8c8"/><rect x="407.36" y="300.80" width="5.21" height="8.05" fill="#f5f0f1"/><rect x="412.52" y="300.80" width="5.21" height="8.05" fill="#f5f0f1"/><rect x="417.67" y="300.80" width="5.21" height="8.05" fill="#ecc8c8"/><rect x="422.83" y="300.80" width="5.21" height="8.05" fill="#ecc8c8"/><rect x="427.98" y="300.80" width="5.21" height="8.05" fill="#f5f0f1"/><rect x="433.14" y="300.80" width="5.21" height="8.05" fill="#ecc8c8"/><rect x="438.29" y="300.80" width="5.21" height="8.05" fill="#ecc8c8"/><rect x="443.45" y="300.80" width="5.21" height="8.05" fill="#ecc8c8"/><rect x="448.60" y="300.80" width="5.21" height="8.05" fill="#f5f0f1"/><rect x="453.76" y="300.80" width="5.21" height="8.05" fill="#c75f62"/><rect x="458.91" y="300.80" width="5.21" height="8.05" fill="#ecc8c8"/><rect x="464.07" y="300.80" width="5.21" height="8.05" fill="#ecc8c8"/><rect x="469.22" y="300.80" width="5.21" height="8.05" fill="#ecc8c8"/><rect x="474.38" y="300.80" width="5.21" height="8.05" fill="#ecc8c8"/><rect x="479.53" y="300.80" width="5.21" height="8.05" fill="#ecc8c8"/><rect x="484.69" y="300.80" width="5.21" height="8.05" fill="#ecc8c8"/><rect x="489.84" y="300.80" width="5.21" height="8.05" fill="#ecc8c8"/><rect x="495.00" y="300.80" width="5.21" height="8.05" fill="#f5f0f1"/><rect x="500.15" y="300.80" width="5.21" height="8.05" fill="#c9d2e5"/><rect x="505.31" y="300.80" width="5.21" height="8.05" fill="#dc9899"/><rect x="510.46" y="300.80" width="5.21" height="8.05" fill="#c75f62"/><rect x="515.62" y="300.80" width="5.21" height="8.05" fill="#dc9899"/><rect x="520.77" y="300.80" width="5.21" height="8.05" fill="#c75f62"/><rect x="525.92" y="300.80" width="5.21" height="8.05" fill="#f5f0f1"/><rect x="531.08" y="300.80" width="5.21" height="8.05" fill="#c75f62"/><rect x="536.24" y="300.80" width="5.21" height="8.05" fill="#f5f0f1"/><rect x="541.39" y="300.80" width="5.21" height="8.05" fill="#dc9899"/><rect x="139.30" y="308.80" width="5.21" height="8.05" fill="#c9d2e5"/><rect x="144.46" y="308.80" width="5.21" height="8.05" fill="#f5f0f1"/><rect x="149.61" y="308.80" width="5.21" height="8.05" fill="#c9d2e5"/><rect x="154.77" y="308.80" width="5.21" height="8.05" fill="#f5f0f1"/><rect x="159.92" y="308.80" width="5.21" height="8.05" fill="#f5f0f1"/><rect x="165.08" y="308.80" width="5.21" height="8.05" fill="#f5f0f1"/><rect x="170.23" y="308.80" width="5.21" height="8.05" fill="#ecc8c8"/><rect x="175.39" y="308.80" width="5.21" height="8.05" fill="#dc9899"/><rect x="180.54" y="308.80" width="5.21" height="8.05" fill="#dc9899"/><rect x="185.70" y="308.80" width="5.21" height="8.05" fill="#ecc8c8"/><rect x="190.85" y="308.80" width="5.21" height="8.05" fill="#ecc8c8"/><rect x="196.01" y="308.80" width="5.21" height="8.05" fill="#dc9899"/><rect x="201.16" y="308.80" width="5.21" height="8.05" fill="#f5f0f1"/><rect x="206.31" y="308.80" width="5.21" height="8.05" fill="#ecc8c8"/><rect x="211.47" y="308.80" width="5.21" height="8.05" fill="#f5f0f1"/><rect x="216.62" y="308.80" width="5.21" height="8.05" fill="#dc9899"/><rect x="221.78" y="308.80" width="5.21" height="8.05" fill="#c75f62"/><rect x="226.94" y="308.80" width="5.21" height="8.05" fill="#dc9899"/><rect x="232.09" y="308.80" width="5.21" height="8.05" fill="#ecc8c8"/><rect x="237.25" y="308.80" width="5.21" height="8.05" fill="#c75f62"/><rect x="242.40" y="308.80" width="5.21" height="8.05" fill="#dc9899"/><rect x="247.56" y="308.80" width="5.21" height="8.05" fill="#dc9899"/><rect x="252.71" y="308.80" width="5.21" height="8.05" fill="#f5f0f1"/><rect x="257.87" y="308.80" width="5.21" height="8.05" fill="#ecc8c8"/><rect x="263.02" y="308.80" width="5.21" height="8.05" fill="#ecc8c8"/><rect x="268.18" y="308.80" width="5.21" height="8.05" fill="#c9d2e5"/><rect x="273.33" y="308.80" width="5.21" height="8.05" fill="#c9d2e5"/><rect x="278.49" y="308.80" width="5.21" height="8.05" fill="#a2b4d6"/><rect x="283.64" y="308.80" width="5.21" height="8.05" fill="#a2b4d6"/><rect x="288.80" y="308.80" width="5.21" height="8.05" fill="#c9d2e5"/><rect x="293.95" y="308.80" width="5.21" height="8.05" fill="#c9d2e5"/><rect x="299.11" y="308.80" width="5.21" height="8.05" fill="#f5f0f1"/><rect x="304.26" y="308.80" width="5.21" height="8.05" fill="#ecc8c8"/><rect x="309.42" y="308.80" width="5.21" height="8.05" fill="#ecc8c8"/><rect x="314.57" y="308.80" width="5.21" height="8.05" fill="#f5f0f1"/><rect x="319.73" y="308.80" width="5.21" height="8.05" fill="#c9d2e5"/><rect x="324.88" y="308.80" width="5.21" height="8.05" fill="#dc9899"/><rect x="330.04" y="308.80" width="5.21" height="8.05" fill="#c9d2e5"/><rect x="335.19" y="308.80" width="5.21" height="8.05" fill="#c9d2e5"/><rect x="340.35" y="308.80" width="5.21" height="8.05" fill="#dc9899"/><rect x="345.50" y="308.80" width="5.21" height="8.05" fill="#a2b4d6"/><rect x="350.66" y="308.80" width="5.21" height="8.05" fill="#ecc8c8"/><rect x="355.81" y="308.80" width="5.21" height="8.05" fill="#f5f0f1"/><rect x="360.97" y="308.80" width="5.21" height="8.05" fill="#ecc8c8"/><rect x="366.12" y="308.80" width="5.21" height="8.05" fill="#dc9899"/><rect x="371.28" y="308.80" width="5.21" height="8.05" fill="#dc9899"/><rect x="376.43" y="308.80" width="5.21" height="8.05" fill="#f5f0f1"/><rect x="381.59" y="308.80" width="5.21" height="8.05" fill="#f5f0f1"/><rect x="386.74" y="308.80" width="5.21" height="8.05" fill="#2f6cb4"/><rect x="391.89" y="308.80" width="5.21" height="8.05" fill="#c9d2e5"/><rect x="397.05" y="308.80" width="5.21" height="8.05" fill="#f5f0f1"/><rect x="402.21" y="308.80" width="5.21" height="8.05" fill="#dc9899"/><rect x="407.36" y="308.80" width="5.21" height="8.05" fill="#a2b4d6"/><rect x="412.52" y="308.80" width="5.21" height="8.05" fill="#f5f0f1"/><rect x="417.67" y="308.80" width="5.21" height="8.05" fill="#ecc8c8"/><rect x="422.83" y="308.80" width="5.21" height="8.05" fill="#ecc8c8"/><rect x="427.98" y="308.80" width="5.21" height="8.05" fill="#ecc8c8"/><rect x="433.14" y="308.80" width="5.21" height="8.05" fill="#c75f62"/><rect x="438.29" y="308.80" width="5.21" height="8.05" fill="#c75f62"/><rect x="443.45" y="308.80" width="5.21" height="8.05" fill="#dc9899"/><rect x="448.60" y="308.80" width="5.21" height="8.05" fill="#ecc8c8"/><rect x="453.76" y="308.80" width="5.21" height="8.05" fill="#b73d45"/><rect x="458.91" y="308.80" width="5.21" height="8.05" fill="#dc9899"/><rect x="464.07" y="308.80" width="5.21" height="8.05" fill="#dc9899"/><rect x="469.22" y="308.80" width="5.21" height="8.05" fill="#dc9899"/><rect x="474.38" y="308.80" width="5.21" height="8.05" fill="#dc9899"/><rect x="479.53" y="308.80" width="5.21" height="8.05" fill="#dc9899"/><rect x="484.69" y="308.80" width="5.21" height="8.05" fill="#ecc8c8"/><rect x="489.84" y="308.80" width="5.21" height="8.05" fill="#f5f0f1"/><rect x="495.00" y="308.80" width="5.21" height="8.05" fill="#dc9899"/><rect x="500.15" y="308.80" width="5.21" height="8.05" fill="#ecc8c8"/><rect x="505.31" y="308.80" width="5.21" height="8.05" fill="#c75f62"/><rect x="510.46" y="308.80" width="5.21" height="8.05" fill="#c75f62"/><rect x="515.62" y="308.80" width="5.21" height="8.05" fill="#c75f62"/><rect x="520.77" y="308.80" width="5.21" height="8.05" fill="#b73d45"/><rect x="525.92" y="308.80" width="5.21" height="8.05" fill="#dc9899"/><rect x="531.08" y="308.80" width="5.21" height="8.05" fill="#b73d45"/><rect x="536.24" y="308.80" width="5.21" height="8.05" fill="#c75f62"/><rect x="541.39" y="308.80" width="5.21" height="8.05" fill="#c75f62"/><rect x="139.30" y="316.80" width="5.21" height="8.05" fill="#c9d2e5"/><rect x="144.46" y="316.80" width="5.21" height="8.05" fill="#c9d2e5"/><rect x="149.61" y="316.80" width="5.21" height="8.05" fill="#c9d2e5"/><rect x="154.77" y="316.80" width="5.21" height="8.05" fill="#c9d2e5"/><rect x="159.92" y="316.80" width="5.21" height="8.05" fill="#c9d2e5"/><rect x="165.08" y="316.80" width="5.21" height="8.05" fill="#a2b4d6"/><rect x="170.23" y="316.80" width="5.21" height="8.05" fill="#ecc8c8"/><rect x="175.39" y="316.80" width="5.21" height="8.05" fill="#dc9899"/><rect x="180.54" y="316.80" width="5.21" height="8.05" fill="#ecc8c8"/><rect x="185.70" y="316.80" width="5.21" height="8.05" fill="#c9d2e5"/><rect x="190.85" y="316.80" width="5.21" height="8.05" fill="#ecc8c8"/><rect x="196.01" y="316.80" width="5.21" height="8.05" fill="#dc9899"/><rect x="201.16" y="316.80" width="5.21" height="8.05" fill="#f5f0f1"/><rect x="206.31" y="316.80" width="5.21" height="8.05" fill="#ecc8c8"/><rect x="211.47" y="316.80" width="5.21" height="8.05" fill="#a2b4d6"/><rect x="216.62" y="316.80" width="5.21" height="8.05" fill="#dc9899"/><rect x="221.78" y="316.80" width="5.21" height="8.05" fill="#c75f62"/><rect x="226.94" y="316.80" width="5.21" height="8.05" fill="#dc9899"/><rect x="232.09" y="316.80" width="5.21" height="8.05" fill="#f5f0f1"/><rect x="237.25" y="316.80" width="5.21" height="8.05" fill="#c75f62"/><rect x="242.40" y="316.80" width="5.21" height="8.05" fill="#dc9899"/><rect x="247.56" y="316.80" width="5.21" height="8.05" fill="#dc9899"/><rect x="252.71" y="316.80" width="5.21" height="8.05" fill="#f5f0f1"/><rect x="257.87" y="316.80" width="5.21" height="8.05" fill="#ecc8c8"/><rect x="263.02" y="316.80" width="5.21" height="8.05" fill="#f5f0f1"/><rect x="268.18" y="316.80" width="5.21" height="8.05" fill="#f5f0f1"/><rect x="273.33" y="316.80" width="5.21" height="8.05" fill="#c9d2e5"/><rect x="278.49" y="316.80" width="5.21" height="8.05" fill="#a2b4d6"/><rect x="283.64" y="316.80" width="5.21" height="8.05" fill="#c9d2e5"/><rect x="288.80" y="316.80" width="5.21" height="8.05" fill="#c9d2e5"/><rect x="293.95" y="316.80" width="5.21" height="8.05" fill="#f5f0f1"/><rect x="299.11" y="316.80" width="5.21" height="8.05" fill="#f5f0f1"/><rect x="304.26" y="316.80" width="5.21" height="8.05" fill="#f5f0f1"/><rect x="309.42" y="316.80" width="5.21" height="8.05" fill="#ecc8c8"/><rect x="314.57" y="316.80" width="5.21" height="8.05" fill="#f5f0f1"/><rect x="319.73" y="316.80" width="5.21" height="8.05" fill="#c9d2e5"/><rect x="324.88" y="316.80" width="5.21" height="8.05" fill="#ecc8c8"/><rect x="330.04" y="316.80" width="5.21" height="8.05" fill="#c9d2e5"/><rect x="335.19" y="316.80" width="5.21" height="8.05" fill="#f5f0f1"/><rect x="340.35" y="316.80" width="5.21" height="8.05" fill="#ecc8c8"/><rect x="345.50" y="316.80" width="5.21" height="8.05" fill="#f5f0f1"/><rect x="350.66" y="316.80" width="5.21" height="8.05" fill="#f5f0f1"/><rect x="355.81" y="316.80" width="5.21" height="8.05" fill="#f5f0f1"/><rect x="360.97" y="316.80" width="5.21" height="8.05" fill="#f5f0f1"/><rect x="366.12" y="316.80" width="5.21" height="8.05" fill="#ecc8c8"/><rect x="371.28" y="316.80" width="5.21" height="8.05" fill="#ecc8c8"/><rect x="376.43" y="316.80" width="5.21" height="8.05" fill="#c9d2e5"/><rect x="381.59" y="316.80" width="5.21" height="8.05" fill="#f5f0f1"/><rect x="386.74" y="316.80" width="5.21" height="8.05" fill="#2f6cb4"/><rect x="391.89" y="316.80" width="5.21" height="8.05" fill="#2f6cb4"/><rect x="397.05" y="316.80" width="5.21" height="8.05" fill="#f5f0f1"/><rect x="402.21" y="316.80" width="5.21" height="8.05" fill="#ecc8c8"/><rect x="407.36" y="316.80" width="5.21" height="8.05" fill="#f5f0f1"/><rect x="412.52" y="316.80" width="5.21" height="8.05" fill="#c9d2e5"/><rect x="417.67" y="316.80" width="5.21" height="8.05" fill="#ecc8c8"/><rect x="422.83" y="316.80" width="5.21" height="8.05" fill="#ecc8c8"/><rect x="427.98" y="316.80" width="5.21" height="8.05" fill="#ecc8c8"/><rect x="433.14" y="316.80" width="5.21" height="8.05" fill="#c75f62"/><rect x="438.29" y="316.80" width="5.21" height="8.05" fill="#dc9899"/><rect x="443.45" y="316.80" width="5.21" height="8.05" fill="#dc9899"/><rect x="448.60" y="316.80" width="5.21" height="8.05" fill="#ecc8c8"/><rect x="453.76" y="316.80" width="5.21" height="8.05" fill="#b73d45"/><rect x="458.91" y="316.80" width="5.21" height="8.05" fill="#dc9899"/><rect x="464.07" y="316.80" width="5.21" height="8.05" fill="#ecc8c8"/><rect x="469.22" y="316.80" width="5.21" height="8.05" fill="#ecc8c8"/><rect x="474.38" y="316.80" width="5.21" height="8.05" fill="#ecc8c8"/><rect x="479.53" y="316.80" width="5.21" height="8.05" fill="#ecc8c8"/><rect x="484.69" y="316.80" width="5.21" height="8.05" fill="#f5f0f1"/><rect x="489.84" y="316.80" width="5.21" height="8.05" fill="#f5f0f1"/><rect x="495.00" y="316.80" width="5.21" height="8.05" fill="#dc9899"/><rect x="500.15" y="316.80" width="5.21" height="8.05" fill="#f5f0f1"/><rect x="505.31" y="316.80" width="5.21" height="8.05" fill="#c75f62"/><rect x="510.46" y="316.80" width="5.21" height="8.05" fill="#c75f62"/><rect x="515.62" y="316.80" width="5.21" height="8.05" fill="#dc9899"/><rect x="520.77" y="316.80" width="5.21" height="8.05" fill="#b73d45"/><rect x="525.92" y="316.80" width="5.21" height="8.05" fill="#dc9899"/><rect x="531.08" y="316.80" width="5.21" height="8.05" fill="#b73d45"/><rect x="536.24" y="316.80" width="5.21" height="8.05" fill="#c75f62"/><rect x="541.39" y="316.80" width="5.21" height="8.05" fill="#c75f62"/></g><g stroke="#ffffff" stroke-opacity="0.10" stroke-width="0.5"><line x1="144.46" y1="84.8" x2="144.46" y2="324.8"/><line x1="149.61" y1="84.8" x2="149.61" y2="324.8"/><line x1="154.77" y1="84.8" x2="154.77" y2="324.8"/><line x1="159.92" y1="84.8" x2="159.92" y2="324.8"/><line x1="165.08" y1="84.8" x2="165.08" y2="324.8"/><line x1="170.23" y1="84.8" x2="170.23" y2="324.8"/><line x1="175.39" y1="84.8" x2="175.39" y2="324.8"/><line x1="180.54" y1="84.8" x2="180.54" y2="324.8"/><line x1="185.70" y1="84.8" x2="185.70" y2="324.8"/><line x1="190.85" y1="84.8" x2="190.85" y2="324.8"/><line x1="196.01" y1="84.8" x2="196.01" y2="324.8"/><line x1="201.16" y1="84.8" x2="201.16" y2="324.8"/><line x1="206.31" y1="84.8" x2="206.31" y2="324.8"/><line x1="211.47" y1="84.8" x2="211.47" y2="324.8"/><line x1="216.62" y1="84.8" x2="216.62" y2="324.8"/><line x1="221.78" y1="84.8" x2="221.78" y2="324.8"/><line x1="226.94" y1="84.8" x2="226.94" y2="324.8"/><line x1="232.09" y1="84.8" x2="232.09" y2="324.8"/><line x1="237.25" y1="84.8" x2="237.25" y2="324.8"/><line x1="242.40" y1="84.8" x2="242.40" y2="324.8"/><line x1="247.56" y1="84.8" x2="247.56" y2="324.8"/><line x1="252.71" y1="84.8" x2="252.71" y2="324.8"/><line x1="257.87" y1="84.8" x2="257.87" y2="324.8"/><line x1="263.02" y1="84.8" x2="263.02" y2="324.8"/><line x1="268.18" y1="84.8" x2="268.18" y2="324.8"/><line x1="273.33" y1="84.8" x2="273.33" y2="324.8"/><line x1="278.49" y1="84.8" x2="278.49" y2="324.8"/><line x1="283.64" y1="84.8" x2="283.64" y2="324.8"/><line x1="288.80" y1="84.8" x2="288.80" y2="324.8"/><line x1="293.95" y1="84.8" x2="293.95" y2="324.8"/><line x1="299.11" y1="84.8" x2="299.11" y2="324.8"/><line x1="304.26" y1="84.8" x2="304.26" y2="324.8"/><line x1="309.42" y1="84.8" x2="309.42" y2="324.8"/><line x1="314.57" y1="84.8" x2="314.57" y2="324.8"/><line x1="319.73" y1="84.8" x2="319.73" y2="324.8"/><line x1="324.88" y1="84.8" x2="324.88" y2="324.8"/><line x1="330.04" y1="84.8" x2="330.04" y2="324.8"/><line x1="335.19" y1="84.8" x2="335.19" y2="324.8"/><line x1="340.35" y1="84.8" x2="340.35" y2="324.8"/><line x1="345.50" y1="84.8" x2="345.50" y2="324.8"/><line x1="350.66" y1="84.8" x2="350.66" y2="324.8"/><line x1="355.81" y1="84.8" x2="355.81" y2="324.8"/><line x1="360.97" y1="84.8" x2="360.97" y2="324.8"/><line x1="366.12" y1="84.8" x2="366.12" y2="324.8"/><line x1="371.28" y1="84.8" x2="371.28" y2="324.8"/><line x1="376.43" y1="84.8" x2="376.43" y2="324.8"/><line x1="381.59" y1="84.8" x2="381.59" y2="324.8"/><line x1="386.74" y1="84.8" x2="386.74" y2="324.8"/><line x1="391.89" y1="84.8" x2="391.89" y2="324.8"/><line x1="397.05" y1="84.8" x2="397.05" y2="324.8"/><line x1="402.21" y1="84.8" x2="402.21" y2="324.8"/><line x1="407.36" y1="84.8" x2="407.36" y2="324.8"/><line x1="412.52" y1="84.8" x2="412.52" y2="324.8"/><line x1="417.67" y1="84.8" x2="417.67" y2="324.8"/><line x1="422.83" y1="84.8" x2="422.83" y2="324.8"/><line x1="427.98" y1="84.8" x2="427.98" y2="324.8"/><line x1="433.14" y1="84.8" x2="433.14" y2="324.8"/><line x1="438.29" y1="84.8" x2="438.29" y2="324.8"/><line x1="443.45" y1="84.8" x2="443.45" y2="324.8"/><line x1="448.60" y1="84.8" x2="448.60" y2="324.8"/><line x1="453.76" y1="84.8" x2="453.76" y2="324.8"/><line x1="458.91" y1="84.8" x2="458.91" y2="324.8"/><line x1="464.07" y1="84.8" x2="464.07" y2="324.8"/><line x1="469.22" y1="84.8" x2="469.22" y2="324.8"/><line x1="474.38" y1="84.8" x2="474.38" y2="324.8"/><line x1="479.53" y1="84.8" x2="479.53" y2="324.8"/><line x1="484.69" y1="84.8" x2="484.69" y2="324.8"/><line x1="489.84" y1="84.8" x2="489.84" y2="324.8"/><line x1="495.00" y1="84.8" x2="495.00" y2="324.8"/><line x1="500.15" y1="84.8" x2="500.15" y2="324.8"/><line x1="505.31" y1="84.8" x2="505.31" y2="324.8"/><line x1="510.46" y1="84.8" x2="510.46" y2="324.8"/><line x1="515.62" y1="84.8" x2="515.62" y2="324.8"/><line x1="520.77" y1="84.8" x2="520.77" y2="324.8"/><line x1="525.92" y1="84.8" x2="525.92" y2="324.8"/><line x1="531.08" y1="84.8" x2="531.08" y2="324.8"/><line x1="536.24" y1="84.8" x2="536.24" y2="324.8"/><line x1="541.39" y1="84.8" x2="541.39" y2="324.8"/></g><rect x="139.55" y="51.05" width="4.66" height="9.70" fill="#fdd0a2" stroke="#5a5a5a" stroke-width="0.5" stroke-opacity="0.8"/><rect x="144.71" y="51.05" width="4.66" height="9.70" fill="#fdd0a2" stroke="#5a5a5a" stroke-width="0.5" stroke-opacity="0.8"/><rect x="149.86" y="51.05" width="4.66" height="9.70" fill="#e0897b" stroke="#5a5a5a" stroke-width="0.5" stroke-opacity="0.8"/><rect x="160.17" y="51.05" width="4.66" height="9.70" fill="#5bc5d3" stroke="#5a5a5a" stroke-width="0.5" stroke-opacity="0.8"/><rect x="165.33" y="51.05" width="4.66" height="9.70" fill="#d8281f" stroke="#5a5a5a" stroke-width="0.5" stroke-opacity="0.8"/><rect x="175.64" y="51.05" width="4.66" height="9.70" fill="#fdd0a2" stroke="#5a5a5a" stroke-width="0.5" stroke-opacity="0.8"/><rect x="180.79" y="51.05" width="4.66" height="9.70" fill="#5bc5d3" stroke="#5a5a5a" stroke-width="0.5" stroke-opacity="0.8"/><rect x="185.95" y="51.05" width="4.66" height="9.70" fill="#e0897b" stroke="#5a5a5a" stroke-width="0.5" stroke-opacity="0.8"/><rect x="196.26" y="51.05" width="4.66" height="9.70" fill="#5bc5d3" stroke="#5a5a5a" stroke-width="0.5" stroke-opacity="0.8"/><rect x="206.56" y="51.05" width="4.66" height="9.70" fill="#6abd45" stroke="#5a5a5a" stroke-width="0.5" stroke-opacity="0.8"/><rect x="211.72" y="51.05" width="4.66" height="9.70" fill="#fdd0a2" stroke="#5a5a5a" stroke-width="0.5" stroke-opacity="0.8"/><rect x="216.88" y="51.05" width="4.66" height="9.70" fill="#6abd45" stroke="#5a5a5a" stroke-width="0.5" stroke-opacity="0.8"/><rect x="222.03" y="51.05" width="4.66" height="9.70" fill="#5bc5d3" stroke="#5a5a5a" stroke-width="0.5" stroke-opacity="0.8"/><rect x="227.19" y="51.05" width="4.66" height="9.70" fill="#fdd0a2" stroke="#5a5a5a" stroke-width="0.5" stroke-opacity="0.8"/><rect x="232.34" y="51.05" width="4.66" height="9.70" fill="#e0897b" stroke="#5a5a5a" stroke-width="0.5" stroke-opacity="0.8"/><rect x="237.50" y="51.05" width="4.66" height="9.70" fill="#5bc5d3" stroke="#5a5a5a" stroke-width="0.5" stroke-opacity="0.8"/><rect x="242.65" y="51.05" width="4.66" height="9.70" fill="#5bc5d3" stroke="#5a5a5a" stroke-width="0.5" stroke-opacity="0.8"/><rect x="258.12" y="51.05" width="4.66" height="9.70" fill="#e0897b" stroke="#5a5a5a" stroke-width="0.5" stroke-opacity="0.8"/><rect x="289.05" y="51.05" width="4.66" height="9.70" fill="#d8281f" stroke="#5a5a5a" stroke-width="0.5" stroke-opacity="0.8"/><rect x="294.20" y="51.05" width="4.66" height="9.70" fill="#e0897b" stroke="#5a5a5a" stroke-width="0.5" stroke-opacity="0.8"/><rect x="304.51" y="51.05" width="4.66" height="9.70" fill="#fdd0a2" stroke="#5a5a5a" stroke-width="0.5" stroke-opacity="0.8"/><rect x="330.29" y="51.05" width="4.66" height="9.70" fill="#5bc5d3" stroke="#5a5a5a" stroke-width="0.5" stroke-opacity="0.8"/><rect x="340.60" y="51.05" width="4.66" height="9.70" fill="#fdd0a2" stroke="#5a5a5a" stroke-width="0.5" stroke-opacity="0.8"/><rect x="345.75" y="51.05" width="4.66" height="9.70" fill="#d8281f" stroke="#5a5a5a" stroke-width="0.5" stroke-opacity="0.8"/><rect x="402.46" y="51.05" width="4.66" height="9.70" fill="#e0897b" stroke="#5a5a5a" stroke-width="0.5" stroke-opacity="0.8"/><rect x="417.92" y="51.05" width="4.66" height="9.70" fill="#d8281f" stroke="#5a5a5a" stroke-width="0.5" stroke-opacity="0.8"/><rect x="428.23" y="51.05" width="4.66" height="9.70" fill="#e0897b" stroke="#5a5a5a" stroke-width="0.5" stroke-opacity="0.8"/><rect x="433.39" y="51.05" width="4.66" height="9.70" fill="#d8281f" stroke="#5a5a5a" stroke-width="0.5" stroke-opacity="0.8"/><rect x="438.54" y="51.05" width="4.66" height="9.70" fill="#fdd0a2" stroke="#5a5a5a" stroke-width="0.5" stroke-opacity="0.8"/><rect x="443.70" y="51.05" width="4.66" height="9.70" fill="#e0897b" stroke="#5a5a5a" stroke-width="0.5" stroke-opacity="0.8"/><rect x="448.85" y="51.05" width="4.66" height="9.70" fill="#d8281f" stroke="#5a5a5a" stroke-width="0.5" stroke-opacity="0.8"/><rect x="454.01" y="51.05" width="4.66" height="9.70" fill="#d8281f" stroke="#5a5a5a" stroke-width="0.5" stroke-opacity="0.8"/><rect x="459.16" y="51.05" width="4.66" height="9.70" fill="#e0897b" stroke="#5a5a5a" stroke-width="0.5" stroke-opacity="0.8"/><rect x="464.32" y="51.05" width="4.66" height="9.70" fill="#d8281f" stroke="#5a5a5a" stroke-width="0.5" stroke-opacity="0.8"/><rect x="469.47" y="51.05" width="4.66" height="9.70" fill="#e0897b" stroke="#5a5a5a" stroke-width="0.5" stroke-opacity="0.8"/><rect x="474.62" y="51.05" width="4.66" height="9.70" fill="#fdd0a2" stroke="#5a5a5a" stroke-width="0.5" stroke-opacity="0.8"/><rect x="479.78" y="51.05" width="4.66" height="9.70" fill="#d8281f" stroke="#5a5a5a" stroke-width="0.5" stroke-opacity="0.8"/><rect x="484.94" y="51.05" width="4.66" height="9.70" fill="#e0897b" stroke="#5a5a5a" stroke-width="0.5" stroke-opacity="0.8"/><rect x="490.09" y="51.05" width="4.66" height="9.70" fill="#6abd45" stroke="#5a5a5a" stroke-width="0.5" stroke-opacity="0.8"/><rect x="495.25" y="51.05" width="4.66" height="9.70" fill="#e0897b" stroke="#5a5a5a" stroke-width="0.5" stroke-opacity="0.8"/><rect x="500.40" y="51.05" width="4.66" height="9.70" fill="#6abd45" stroke="#5a5a5a" stroke-width="0.5" stroke-opacity="0.8"/><rect x="505.56" y="51.05" width="4.66" height="9.70" fill="#7c1518" stroke="#5a5a5a" stroke-width="0.5" stroke-opacity="0.8"/><rect x="510.71" y="51.05" width="4.66" height="9.70" fill="#d8281f" stroke="#5a5a5a" stroke-width="0.5" stroke-opacity="0.8"/><rect x="515.87" y="51.05" width="4.66" height="9.70" fill="#7c1518" stroke="#5a5a5a" stroke-width="0.5" stroke-opacity="0.8"/><rect x="521.02" y="51.05" width="4.66" height="9.70" fill="#d8281f" stroke="#5a5a5a" stroke-width="0.5" stroke-opacity="0.8"/><rect x="526.17" y="51.05" width="4.66" height="9.70" fill="#e0897b" stroke="#5a5a5a" stroke-width="0.5" stroke-opacity="0.8"/><rect x="531.33" y="51.05" width="4.66" height="9.70" fill="#7c1518" stroke="#5a5a5a" stroke-width="0.5" stroke-opacity="0.8"/><rect x="536.49" y="51.05" width="4.66" height="9.70" fill="#fdd0a2" stroke="#5a5a5a" stroke-width="0.5" stroke-opacity="0.8"/><rect x="541.64" y="51.05" width="4.66" height="9.70" fill="#e0897b" stroke="#5a5a5a" stroke-width="0.5" stroke-opacity="0.8"/><rect x="139.55" y="62.15" width="4.66" height="10.30" fill="#6c58a8" stroke="#5a5a5a" stroke-width="0.5" stroke-opacity="0.8"/><rect x="144.71" y="62.15" width="4.66" height="10.30" fill="#6c58a8" stroke="#5a5a5a" stroke-width="0.5" stroke-opacity="0.8"/><rect x="149.86" y="62.15" width="4.66" height="10.30" fill="#6c58a8" stroke="#5a5a5a" stroke-width="0.5" stroke-opacity="0.8"/><rect x="165.33" y="62.15" width="4.66" height="10.30" fill="#6e87c6" stroke="#5a5a5a" stroke-width="0.5" stroke-opacity="0.8"/><rect x="175.64" y="62.15" width="4.66" height="10.30" fill="#6c58a8" stroke="#5a5a5a" stroke-width="0.5" stroke-opacity="0.8"/><rect x="185.95" y="62.15" width="4.66" height="10.30" fill="#f26b21" stroke="#5a5a5a" stroke-width="0.5" stroke-opacity="0.8"/><rect x="211.72" y="62.15" width="4.66" height="10.30" fill="#6e87c6" stroke="#5a5a5a" stroke-width="0.5" stroke-opacity="0.8"/><rect x="216.88" y="62.15" width="4.66" height="10.30" fill="#f26b21" stroke="#5a5a5a" stroke-width="0.5" stroke-opacity="0.8"/><rect x="227.19" y="62.15" width="4.66" height="10.30" fill="#6c58a8" stroke="#5a5a5a" stroke-width="0.5" stroke-opacity="0.8"/><rect x="232.34" y="62.15" width="4.66" height="10.30" fill="#f26b21" stroke="#5a5a5a" stroke-width="0.5" stroke-opacity="0.8"/><rect x="258.12" y="62.15" width="4.66" height="10.30" fill="#f26b21" stroke="#5a5a5a" stroke-width="0.5" stroke-opacity="0.8"/><rect x="289.05" y="62.15" width="4.66" height="10.30" fill="#f26b21" stroke="#5a5a5a" stroke-width="0.5" stroke-opacity="0.8"/><rect x="294.20" y="62.15" width="4.66" height="10.30" fill="#f8b323" stroke="#5a5a5a" stroke-width="0.5" stroke-opacity="0.8"/><rect x="304.51" y="62.15" width="4.66" height="10.30" fill="#f8b323" stroke="#5a5a5a" stroke-width="0.5" stroke-opacity="0.8"/><rect x="340.60" y="62.15" width="4.66" height="10.30" fill="#6c58a8" stroke="#5a5a5a" stroke-width="0.5" stroke-opacity="0.8"/><rect x="345.75" y="62.15" width="4.66" height="10.30" fill="#f8b323" stroke="#5a5a5a" stroke-width="0.5" stroke-opacity="0.8"/><rect x="402.46" y="62.15" width="4.66" height="10.30" fill="#f26b21" stroke="#5a5a5a" stroke-width="0.5" stroke-opacity="0.8"/><rect x="417.92" y="62.15" width="4.66" height="10.30" fill="#6e87c6" stroke="#5a5a5a" stroke-width="0.5" stroke-opacity="0.8"/><rect x="428.23" y="62.15" width="4.66" height="10.30" fill="#f26b21" stroke="#5a5a5a" stroke-width="0.5" stroke-opacity="0.8"/><rect x="433.39" y="62.15" width="4.66" height="10.30" fill="#6e87c6" stroke="#5a5a5a" stroke-width="0.5" stroke-opacity="0.8"/><rect x="438.54" y="62.15" width="4.66" height="10.30" fill="#6e87c6" stroke="#5a5a5a" stroke-width="0.5" stroke-opacity="0.8"/><rect x="443.70" y="62.15" width="4.66" height="10.30" fill="#6e87c6" stroke="#5a5a5a" stroke-width="0.5" stroke-opacity="0.8"/><rect x="448.85" y="62.15" width="4.66" height="10.30" fill="#6c58a8" stroke="#5a5a5a" stroke-width="0.5" stroke-opacity="0.8"/><rect x="454.01" y="62.15" width="4.66" height="10.30" fill="#f26b21" stroke="#5a5a5a" stroke-width="0.5" stroke-opacity="0.8"/><rect x="459.16" y="62.15" width="4.66" height="10.30" fill="#6e87c6" stroke="#5a5a5a" stroke-width="0.5" stroke-opacity="0.8"/><rect x="464.32" y="62.15" width="4.66" height="10.30" fill="#f26b21" stroke="#5a5a5a" stroke-width="0.5" stroke-opacity="0.8"/><rect x="469.47" y="62.15" width="4.66" height="10.30" fill="#f8b323" stroke="#5a5a5a" stroke-width="0.5" stroke-opacity="0.8"/><rect x="474.62" y="62.15" width="4.66" height="10.30" fill="#6e87c6" stroke="#5a5a5a" stroke-width="0.5" stroke-opacity="0.8"/><rect x="479.78" y="62.15" width="4.66" height="10.30" fill="#6e87c6" stroke="#5a5a5a" stroke-width="0.5" stroke-opacity="0.8"/><rect x="484.94" y="62.15" width="4.66" height="10.30" fill="#6c58a8" stroke="#5a5a5a" stroke-width="0.5" stroke-opacity="0.8"/><rect x="495.25" y="62.15" width="4.66" height="10.30" fill="#6e87c6" stroke="#5a5a5a" stroke-width="0.5" stroke-opacity="0.8"/><rect x="500.40" y="62.15" width="4.66" height="10.30" fill="#6e87c6" stroke="#5a5a5a" stroke-width="0.5" stroke-opacity="0.8"/><rect x="505.56" y="62.15" width="4.66" height="10.30" fill="#6e87c6" stroke="#5a5a5a" stroke-width="0.5" stroke-opacity="0.8"/><rect x="510.71" y="62.15" width="4.66" height="10.30" fill="#6c58a8" stroke="#5a5a5a" stroke-width="0.5" stroke-opacity="0.8"/><rect x="515.87" y="62.15" width="4.66" height="10.30" fill="#6e87c6" stroke="#5a5a5a" stroke-width="0.5" stroke-opacity="0.8"/><rect x="521.02" y="62.15" width="4.66" height="10.30" fill="#6e87c6" stroke="#5a5a5a" stroke-width="0.5" stroke-opacity="0.8"/><rect x="526.17" y="62.15" width="4.66" height="10.30" fill="#6e87c6" stroke="#5a5a5a" stroke-width="0.5" stroke-opacity="0.8"/><rect x="531.33" y="62.15" width="4.66" height="10.30" fill="#6e87c6" stroke="#5a5a5a" stroke-width="0.5" stroke-opacity="0.8"/><rect x="536.49" y="62.15" width="4.66" height="10.30" fill="#6e87c6" stroke="#5a5a5a" stroke-width="0.5" stroke-opacity="0.8"/><rect x="541.64" y="62.15" width="4.66" height="10.30" fill="#6e87c6" stroke="#5a5a5a" stroke-width="0.5" stroke-opacity="0.8"/><rect x="139.55" y="73.85" width="4.66" height="9.70" fill="#3a8fd2" stroke="#5a5a5a" stroke-width="0.5" stroke-opacity="0.8"/><rect x="144.71" y="73.85" width="4.66" height="9.70" fill="#3a8fd2" stroke="#5a5a5a" stroke-width="0.5" stroke-opacity="0.8"/><rect x="149.86" y="73.85" width="4.66" height="9.70" fill="#3a8fd2" stroke="#5a5a5a" stroke-width="0.5" stroke-opacity="0.8"/><rect x="155.02" y="73.85" width="4.66" height="9.70" fill="#b03a9c" stroke="#5a5a5a" stroke-width="0.5" stroke-opacity="0.8"/><rect x="160.17" y="73.85" width="4.66" height="9.70" fill="#5bc5d3" stroke="#5a5a5a" stroke-width="0.5" stroke-opacity="0.8"/><rect x="165.33" y="73.85" width="4.66" height="9.70" fill="#3a8fd2" stroke="#5a5a5a" stroke-width="0.5" stroke-opacity="0.8"/><rect x="170.48" y="73.85" width="4.66" height="9.70" fill="#b03a9c" stroke="#5a5a5a" stroke-width="0.5" stroke-opacity="0.8"/><rect x="175.64" y="73.85" width="4.66" height="9.70" fill="#3a8fd2" stroke="#5a5a5a" stroke-width="0.5" stroke-opacity="0.8"/><rect x="180.79" y="73.85" width="4.66" height="9.70" fill="#5bc5d3" stroke="#5a5a5a" stroke-width="0.5" stroke-opacity="0.8"/><rect x="185.95" y="73.85" width="4.66" height="9.70" fill="#3a8fd2" stroke="#5a5a5a" stroke-width="0.5" stroke-opacity="0.8"/><rect x="191.10" y="73.85" width="4.66" height="9.70" fill="#b03a9c" stroke="#5a5a5a" stroke-width="0.5" stroke-opacity="0.8"/><rect x="196.26" y="73.85" width="4.66" height="9.70" fill="#5bc5d3" stroke="#5a5a5a" stroke-width="0.5" stroke-opacity="0.8"/><rect x="201.41" y="73.85" width="4.66" height="9.70" fill="#b03a9c" stroke="#5a5a5a" stroke-width="0.5" stroke-opacity="0.8"/><rect x="206.56" y="73.85" width="4.66" height="9.70" fill="#6abd45" stroke="#5a5a5a" stroke-width="0.5" stroke-opacity="0.8"/><rect x="211.72" y="73.85" width="4.66" height="9.70" fill="#3a8fd2" stroke="#5a5a5a" stroke-width="0.5" stroke-opacity="0.8"/><rect x="216.88" y="73.85" width="4.66" height="9.70" fill="#6abd45" stroke="#5a5a5a" stroke-width="0.5" stroke-opacity="0.8"/><rect x="222.03" y="73.85" width="4.66" height="9.70" fill="#5bc5d3" stroke="#5a5a5a" stroke-width="0.5" stroke-opacity="0.8"/><rect x="227.19" y="73.85" width="4.66" height="9.70" fill="#3a8fd2" stroke="#5a5a5a" stroke-width="0.5" stroke-opacity="0.8"/><rect x="232.34" y="73.85" width="4.66" height="9.70" fill="#3a8fd2" stroke="#5a5a5a" stroke-width="0.5" stroke-opacity="0.8"/><rect x="237.50" y="73.85" width="4.66" height="9.70" fill="#5bc5d3" stroke="#5a5a5a" stroke-width="0.5" stroke-opacity="0.8"/><rect x="242.65" y="73.85" width="4.66" height="9.70" fill="#5bc5d3" stroke="#5a5a5a" stroke-width="0.5" stroke-opacity="0.8"/><rect x="247.81" y="73.85" width="4.66" height="9.70" fill="#b03a9c" stroke="#5a5a5a" stroke-width="0.5" stroke-opacity="0.8"/><rect x="252.96" y="73.85" width="4.66" height="9.70" fill="#b03a9c" stroke="#5a5a5a" stroke-width="0.5" stroke-opacity="0.8"/><rect x="258.12" y="73.85" width="4.66" height="9.70" fill="#3a8fd2" stroke="#5a5a5a" stroke-width="0.5" stroke-opacity="0.8"/><rect x="263.27" y="73.85" width="4.66" height="9.70" fill="#b03a9c" stroke="#5a5a5a" stroke-width="0.5" stroke-opacity="0.8"/><rect x="268.43" y="73.85" width="4.66" height="9.70" fill="#b03a9c" stroke="#5a5a5a" stroke-width="0.5" stroke-opacity="0.8"/><rect x="273.58" y="73.85" width="4.66" height="9.70" fill="#b03a9c" stroke="#5a5a5a" stroke-width="0.5" stroke-opacity="0.8"/><rect x="278.74" y="73.85" width="4.66" height="9.70" fill="#b03a9c" stroke="#5a5a5a" stroke-width="0.5" stroke-opacity="0.8"/><rect x="283.89" y="73.85" width="4.66" height="9.70" fill="#b03a9c" stroke="#5a5a5a" stroke-width="0.5" stroke-opacity="0.8"/><rect x="289.05" y="73.85" width="4.66" height="9.70" fill="#3a8fd2" stroke="#5a5a5a" stroke-width="0.5" stroke-opacity="0.8"/><rect x="294.20" y="73.85" width="4.66" height="9.70" fill="#3a8fd2" stroke="#5a5a5a" stroke-width="0.5" stroke-opacity="0.8"/><rect x="299.36" y="73.85" width="4.66" height="9.70" fill="#b03a9c" stroke="#5a5a5a" stroke-width="0.5" stroke-opacity="0.8"/><rect x="304.51" y="73.85" width="4.66" height="9.70" fill="#3a8fd2" stroke="#5a5a5a" stroke-width="0.5" stroke-opacity="0.8"/><rect x="309.67" y="73.85" width="4.66" height="9.70" fill="#b03a9c" stroke="#5a5a5a" stroke-width="0.5" stroke-opacity="0.8"/><rect x="314.82" y="73.85" width="4.66" height="9.70" fill="#b03a9c" stroke="#5a5a5a" stroke-width="0.5" stroke-opacity="0.8"/><rect x="319.98" y="73.85" width="4.66" height="9.70" fill="#b03a9c" stroke="#5a5a5a" stroke-width="0.5" stroke-opacity="0.8"/><rect x="325.13" y="73.85" width="4.66" height="9.70" fill="#b03a9c" stroke="#5a5a5a" stroke-width="0.5" stroke-opacity="0.8"/><rect x="330.29" y="73.85" width="4.66" height="9.70" fill="#5bc5d3" stroke="#5a5a5a" stroke-width="0.5" stroke-opacity="0.8"/><rect x="335.44" y="73.85" width="4.66" height="9.70" fill="#b03a9c" stroke="#5a5a5a" stroke-width="0.5" stroke-opacity="0.8"/><rect x="340.60" y="73.85" width="4.66" height="9.70" fill="#3a8fd2" stroke="#5a5a5a" stroke-width="0.5" stroke-opacity="0.8"/><rect x="345.75" y="73.85" width="4.66" height="9.70" fill="#3a8fd2" stroke="#5a5a5a" stroke-width="0.5" stroke-opacity="0.8"/><rect x="350.91" y="73.85" width="4.66" height="9.70" fill="#b03a9c" stroke="#5a5a5a" stroke-width="0.5" stroke-opacity="0.8"/><rect x="356.06" y="73.85" width="4.66" height="9.70" fill="#b03a9c" stroke="#5a5a5a" stroke-width="0.5" stroke-opacity="0.8"/><rect x="361.22" y="73.85" width="4.66" height="9.70" fill="#b03a9c" stroke="#5a5a5a" stroke-width="0.5" stroke-opacity="0.8"/><rect x="366.37" y="73.85" width="4.66" height="9.70" fill="#b03a9c" stroke="#5a5a5a" stroke-width="0.5" stroke-opacity="0.8"/><rect x="371.53" y="73.85" width="4.66" height="9.70" fill="#b03a9c" stroke="#5a5a5a" stroke-width="0.5" stroke-opacity="0.8"/><rect x="376.68" y="73.85" width="4.66" height="9.70" fill="#b03a9c" stroke="#5a5a5a" stroke-width="0.5" stroke-opacity="0.8"/><rect x="381.84" y="73.85" width="4.66" height="9.70" fill="#b03a9c" stroke="#5a5a5a" stroke-width="0.5" stroke-opacity="0.8"/><rect x="386.99" y="73.85" width="4.66" height="9.70" fill="#b03a9c" stroke="#5a5a5a" stroke-width="0.5" stroke-opacity="0.8"/><rect x="392.14" y="73.85" width="4.66" height="9.70" fill="#b03a9c" stroke="#5a5a5a" stroke-width="0.5" stroke-opacity="0.8"/><rect x="397.30" y="73.85" width="4.66" height="9.70" fill="#b03a9c" stroke="#5a5a5a" stroke-width="0.5" stroke-opacity="0.8"/><rect x="402.46" y="73.85" width="4.66" height="9.70" fill="#3a8fd2" stroke="#5a5a5a" stroke-width="0.5" stroke-opacity="0.8"/><rect x="407.61" y="73.85" width="4.66" height="9.70" fill="#b03a9c" stroke="#5a5a5a" stroke-width="0.5" stroke-opacity="0.8"/><rect x="412.77" y="73.85" width="4.66" height="9.70" fill="#b03a9c" stroke="#5a5a5a" stroke-width="0.5" stroke-opacity="0.8"/><rect x="417.92" y="73.85" width="4.66" height="9.70" fill="#3a8fd2" stroke="#5a5a5a" stroke-width="0.5" stroke-opacity="0.8"/><rect x="423.08" y="73.85" width="4.66" height="9.70" fill="#b03a9c" stroke="#5a5a5a" stroke-width="0.5" stroke-opacity="0.8"/><rect x="428.23" y="73.85" width="4.66" height="9.70" fill="#3a8fd2" stroke="#5a5a5a" stroke-width="0.5" stroke-opacity="0.8"/><rect x="433.39" y="73.85" width="4.66" height="9.70" fill="#3a8fd2" stroke="#5a5a5a" stroke-width="0.5" stroke-opacity="0.8"/><rect x="438.54" y="73.85" width="4.66" height="9.70" fill="#3a8fd2" stroke="#5a5a5a" stroke-width="0.5" stroke-opacity="0.8"/><rect x="443.70" y="73.85" width="4.66" height="9.70" fill="#3a8fd2" stroke="#5a5a5a" stroke-width="0.5" stroke-opacity="0.8"/><rect x="448.85" y="73.85" width="4.66" height="9.70" fill="#3a8fd2" stroke="#5a5a5a" stroke-width="0.5" stroke-opacity="0.8"/><rect x="454.01" y="73.85" width="4.66" height="9.70" fill="#3a8fd2" stroke="#5a5a5a" stroke-width="0.5" stroke-opacity="0.8"/><rect x="459.16" y="73.85" width="4.66" height="9.70" fill="#3a8fd2" stroke="#5a5a5a" stroke-width="0.5" stroke-opacity="0.8"/><rect x="464.32" y="73.85" width="4.66" height="9.70" fill="#3a8fd2" stroke="#5a5a5a" stroke-width="0.5" stroke-opacity="0.8"/><rect x="469.47" y="73.85" width="4.66" height="9.70" fill="#3a8fd2" stroke="#5a5a5a" stroke-width="0.5" stroke-opacity="0.8"/><rect x="474.62" y="73.85" width="4.66" height="9.70" fill="#3a8fd2" stroke="#5a5a5a" stroke-width="0.5" stroke-opacity="0.8"/><rect x="479.78" y="73.85" width="4.66" height="9.70" fill="#3a8fd2" stroke="#5a5a5a" stroke-width="0.5" stroke-opacity="0.8"/><rect x="484.94" y="73.85" width="4.66" height="9.70" fill="#3a8fd2" stroke="#5a5a5a" stroke-width="0.5" stroke-opacity="0.8"/><rect x="490.09" y="73.85" width="4.66" height="9.70" fill="#6abd45" stroke="#5a5a5a" stroke-width="0.5" stroke-opacity="0.8"/><rect x="495.25" y="73.85" width="4.66" height="9.70" fill="#3a8fd2" stroke="#5a5a5a" stroke-width="0.5" stroke-opacity="0.8"/><rect x="500.40" y="73.85" width="4.66" height="9.70" fill="#6abd45" stroke="#5a5a5a" stroke-width="0.5" stroke-opacity="0.8"/><rect x="505.56" y="73.85" width="4.66" height="9.70" fill="#3a8fd2" stroke="#5a5a5a" stroke-width="0.5" stroke-opacity="0.8"/><rect x="510.71" y="73.85" width="4.66" height="9.70" fill="#3a8fd2" stroke="#5a5a5a" stroke-width="0.5" stroke-opacity="0.8"/><rect x="515.87" y="73.85" width="4.66" height="9.70" fill="#3a8fd2" stroke="#5a5a5a" stroke-width="0.5" stroke-opacity="0.8"/><rect x="521.02" y="73.85" width="4.66" height="9.70" fill="#3a8fd2" stroke="#5a5a5a" stroke-width="0.5" stroke-opacity="0.8"/><rect x="526.17" y="73.85" width="4.66" height="9.70" fill="#3a8fd2" stroke="#5a5a5a" stroke-width="0.5" stroke-opacity="0.8"/><rect x="531.33" y="73.85" width="4.66" height="9.70" fill="#3a8fd2" stroke="#5a5a5a" stroke-width="0.5" stroke-opacity="0.8"/><rect x="536.49" y="73.85" width="4.66" height="9.70" fill="#3a8fd2" stroke="#5a5a5a" stroke-width="0.5" stroke-opacity="0.8"/><rect x="541.64" y="73.85" width="4.66" height="9.70" fill="#3a8fd2" stroke="#5a5a5a" stroke-width="0.5" stroke-opacity="0.8"/><g font-family="Liberation Sans, sans-serif" font-size="7.2" fill="#3a3a3a"><text x="550.3" y="92.10">GNAS</text><text x="550.3" y="100.10">ATM</text><text x="550.3" y="108.10" font-style="italic">Granulicatella adiacens</text><text x="550.3" y="116.10">GNAQ</text><text x="550.3" y="124.10" font-style="italic">Streptomyces vinaceusdrappus</text><text x="550.3" y="132.10" font-style="italic">Caproicibacter fermentans</text><text x="550.3" y="140.10" font-style="italic">Selenomonas sputigena</text><text x="550.3" y="148.10">APC</text><text x="550.3" y="156.10">TP53</text><text x="550.3" y="164.10" font-style="italic">Porphyromonas asaccharolytics</text><text x="550.3" y="172.10">SMAD4</text><text x="550.3" y="180.10" font-style="italic">Gemella morbillorum</text><text x="550.3" y="188.10" font-style="italic">Parvimonas micra</text><text x="550.3" y="196.10">BRAF</text><text x="550.3" y="204.10">ERBB2</text><text x="550.3" y="212.10">FBXW7</text><text x="550.3" y="220.10">KRAS</text><text x="550.3" y="228.10" font-style="italic">Hungatella hathewayi</text><text x="550.3" y="236.10" font-style="italic">Intestinimonas butyriciproducens</text><text x="550.3" y="244.10" font-style="italic">Clostridium scindens</text><text x="550.3" y="252.10">PPP2R5C-cpg1402</text><text x="550.3" y="260.10">LRRC4-cpg700</text><text x="550.3" y="268.10">LRRC4-cpg704</text><text x="550.3" y="276.10">LRRC4-cpg705</text><text x="550.3" y="284.10">VIM-cpg500</text><text x="550.3" y="292.10">SDC2-cpg809</text><text x="550.3" y="300.10">SDC2-cpg808</text><text x="550.3" y="308.10">CERS4-cpg1900</text><text x="550.3" y="316.10">SDC2-cpg807</text><text x="550.3" y="324.10">SDC2-cpg803</text></g><g font-family="Liberation Sans, sans-serif" font-size="7.3" font-weight="bold" fill="#3a3a3a"><text x="550.3" y="58.60">Stage</text><text x="550.3" y="70.00">Site</text><text x="550.3" y="81.40">Category</text></g><rect x="36.90" y="339.4" width="10.70" height="5.2" fill="#2f66b1"/><rect x="47.50" y="339.4" width="10.70" height="5.2" fill="#577fbd"/><rect x="58.10" y="339.4" width="10.70" height="5.2" fill="#6f8fc5"/><rect x="68.70" y="339.4" width="10.70" height="5.2" fill="#869fcd"/><rect x="79.30" y="339.4" width="10.70" height="5.2" fill="#9db1d6"/><rect x="89.90" y="339.4" width="10.70" height="5.2" fill="#b5c3df"/><rect x="100.50" y="339.4" width="10.70" height="5.2" fill="#ccd5e8"/><rect x="111.10" y="339.4" width="10.70" height="5.2" fill="#e3e6ef"/><rect x="121.70" y="339.4" width="10.70" height="5.2" fill="#faf9fa"/><rect x="132.30" y="339.4" width="10.70" height="5.2" fill="#f3e0e1"/><rect x="142.90" y="339.4" width="10.70" height="5.2" fill="#ebc9ca"/><rect x="153.50" y="339.4" width="10.70" height="5.2" fill="#e3b3b4"/><rect x="164.10" y="339.4" width="10.70" height="5.2" fill="#db9d9e"/><rect x="174.70" y="339.4" width="10.70" height="5.2" fill="#d38788"/><rect x="185.30" y="339.4" width="10.70" height="5.2" fill="#ca7173"/><rect x="195.90" y="339.4" width="10.70" height="5.2" fill="#c15b5e"/><rect x="206.50" y="339.4" width="10.70" height="5.2" fill="#b54649"/><line x1="47.50" y1="339.4" x2="47.50" y2="344.6" stroke="#ffffff" stroke-opacity="0.35" stroke-width="0.5"/><line x1="58.10" y1="339.4" x2="58.10" y2="344.6" stroke="#ffffff" stroke-opacity="0.35" stroke-width="0.5"/><line x1="68.70" y1="339.4" x2="68.70" y2="344.6" stroke="#ffffff" stroke-opacity="0.35" stroke-width="0.5"/><line x1="79.30" y1="339.4" x2="79.30" y2="344.6" stroke="#ffffff" stroke-opacity="0.35" stroke-width="0.5"/><line x1="89.90" y1="339.4" x2="89.90" y2="344.6" stroke="#ffffff" stroke-opacity="0.35" stroke-width="0.5"/><line x1="100.50" y1="339.4" x2="100.50" y2="344.6" stroke="#ffffff" stroke-opacity="0.35" stroke-width="0.5"/><line x1="111.10" y1="339.4" x2="111.10" y2="344.6" stroke="#ffffff" stroke-opacity="0.35" stroke-width="0.5"/><line x1="121.70" y1="339.4" x2="121.70" y2="344.6" stroke="#ffffff" stroke-opacity="0.35" stroke-width="0.5"/><line x1="132.30" y1="339.4" x2="132.30" y2="344.6" stroke="#ffffff" stroke-opacity="0.35" stroke-width="0.5"/><line x1="142.90" y1="339.4" x2="142.90" y2="344.6" stroke="#ffffff" stroke-opacity="0.35" stroke-width="0.5"/><line x1="153.50" y1="339.4" x2="153.50" y2="344.6" stroke="#ffffff" stroke-opacity="0.35" stroke-width="0.5"/><line x1="164.10" y1="339.4" x2="164.10" y2="344.6" stroke="#ffffff" stroke-opacity="0.35" stroke-width="0.5"/><line x1="174.70" y1="339.4" x2="174.70" y2="344.6" stroke="#ffffff" stroke-opacity="0.35" stroke-width="0.5"/><line x1="185.30" y1="339.4" x2="185.30" y2="344.6" stroke="#ffffff" stroke-opacity="0.35" stroke-width="0.5"/><line x1="195.90" y1="339.4" x2="195.90" y2="344.6" stroke="#ffffff" stroke-opacity="0.35" stroke-width="0.5"/><line x1="206.50" y1="339.4" x2="206.50" y2="344.6" stroke="#ffffff" stroke-opacity="0.35" stroke-width="0.5"/><g font-family="Liberation Sans, sans-serif" font-size="6.6" fill="#777" text-anchor="middle"><text x="37.90" y="337.0">0</text><text x="76.04" y="337.0">0.2</text><text x="114.18" y="337.0">0.4</text><text x="152.31" y="337.0">0.6</text><text x="190.45" y="337.0">0.8</text></g><g font-family="Liberation Sans, sans-serif" font-size="6.9" font-weight="bold" fill="#3a3a3a" text-anchor="middle"><text x="127" y="353.4">Scaled value</text><text x="319.6" y="353.3">Stage</text><text x="449" y="353.3">Site</text><text x="596" y="353.3">Category</text></g><rect x="249.60" y="339.2" width="25.10" height="5.6" rx="2.8" fill="#fdd0a2" stroke="#555" stroke-width="0.5" stroke-opacity="0.7"/><text x="262.15" y="337.0" font-family="Liberation Sans, sans-serif" font-size="6.6" fill="#777" text-anchor="middle">1</text><rect x="278.40" y="339.2" width="25.10" height="5.6" rx="2.8" fill="#e0897b" stroke="#555" stroke-width="0.5" stroke-opacity="0.7"/><text x="290.95" y="337.0" font-family="Liberation Sans, sans-serif" font-size="6.6" fill="#777" text-anchor="middle">2</text><rect x="307.20" y="339.2" width="25.10" height="5.6" rx="2.8" fill="#d8281f" stroke="#555" stroke-width="0.5" stroke-opacity="0.7"/><text x="319.75" y="337.0" font-family="Liberation Sans, sans-serif" font-size="6.6" fill="#777" text-anchor="middle">3</text><rect x="336.00" y="339.2" width="25.10" height="5.6" rx="2.8" fill="#7c1518" stroke="#555" stroke-width="0.5" stroke-opacity="0.7"/><text x="348.55" y="337.0" font-family="Liberation Sans, sans-serif" font-size="6.6" fill="#777" text-anchor="middle">4</text><rect x="392.90" y="339.2" width="25.00" height="5.6" rx="2.8" fill="#f8b323" stroke="#555" stroke-width="0.5" stroke-opacity="0.7"/><text x="405.40" y="337.0" font-family="Liberation Sans, sans-serif" font-size="6.6" fill="#777" text-anchor="middle">Right</text><rect x="421.80" y="339.2" width="25.00" height="5.6" rx="2.8" fill="#f26b21" stroke="#555" stroke-width="0.5" stroke-opacity="0.7"/><text x="434.30" y="337.0" font-family="Liberation Sans, sans-serif" font-size="6.6" fill="#777" text-anchor="middle">Mid</text><rect x="450.70" y="339.2" width="25.00" height="5.6" rx="2.8" fill="#6c58a8" stroke="#555" stroke-width="0.5" stroke-opacity="0.7"/><text x="463.20" y="337.0" font-family="Liberation Sans, sans-serif" font-size="6.6" fill="#777" text-anchor="middle">Left</text><rect x="479.60" y="339.2" width="25.00" height="5.6" rx="2.8" fill="#6e87c6" stroke="#555" stroke-width="0.5" stroke-opacity="0.7"/><text x="492.10" y="337.0" font-family="Liberation Sans, sans-serif" font-size="6.6" fill="#777" text-anchor="middle">Rectum</text><rect x="536.50" y="339.2" width="25.00" height="5.6" rx="2.8" fill="#b03a9c" stroke="#555" stroke-width="0.5" stroke-opacity="0.7"/><text x="549.00" y="337.0" font-family="Liberation Sans, sans-serif" font-size="6.6" fill="#777" text-anchor="middle">Control</text><rect x="566.60" y="339.2" width="25.00" height="5.6" rx="2.8" fill="#3a8fd2" stroke="#555" stroke-width="0.5" stroke-opacity="0.7"/><text x="579.10" y="337.0" font-family="Liberation Sans, sans-serif" font-size="6.6" fill="#777" text-anchor="middle">CRC+</text><rect x="596.70" y="339.2" width="25.00" height="5.6" rx="2.8" fill="#5bc5d3" stroke="#555" stroke-width="0.5" stroke-opacity="0.7"/><text x="609.20" y="337.0" font-family="Liberation Sans, sans-serif" font-size="6.6" fill="#777" text-anchor="middle">E-Polyps+</text><rect x="626.80" y="339.2" width="25.00" height="5.6" rx="2.8" fill="#6abd45" stroke="#555" stroke-width="0.5" stroke-opacity="0.7"/><text x="639.30" y="337.0" font-family="Liberation Sans, sans-serif" font-size="6.6" fill="#777" text-anchor="middle">L-Polyps+</text><path d="M139.30 128.80L136.20 128.80M139.30 136.80L136.20 136.80M136.20 128.80L136.20 136.80M139.30 120.80L135.50 120.80M136.20 132.80L135.50 132.80M135.50 120.80L135.50 132.80M139.30 112.80L134.70 112.80M135.50 126.80L134.70 126.80M134.70 112.80L134.70 126.80M139.30 104.80L131.40 104.80M134.70 119.80L131.40 119.80M131.40 104.80L131.40 119.80M139.30 96.80L130.40 96.80M131.40 112.30L130.40 112.30M130.40 96.80L130.40 112.30M139.30 88.80L127.40 88.80M130.40 104.55L127.40 104.55M127.40 88.80L127.40 104.55M139.30 144.80L116.40 144.80M139.30 152.80L116.40 152.80M116.40 144.80L116.40 152.80M139.30 176.80L126.50 176.80M139.30 184.80L126.50 184.80M126.50 176.80L126.50 184.80M139.30 168.80L121.50 168.80M126.50 180.80L121.50 180.80M121.50 168.80L121.50 180.80M139.30 160.80L120.20 160.80M121.50 174.80L120.20 174.80M120.20 160.80L120.20 174.80M139.30 200.80L123.70 200.80M139.30 208.80L123.70 208.80M123.70 200.80L123.70 208.80M139.30 192.80L121.50 192.80M123.70 204.80L121.50 204.80M121.50 192.80L121.50 204.80M139.30 232.80L130.50 232.80M139.30 240.80L130.50 240.80M130.50 232.80L130.50 240.80M139.30 224.80L126.30 224.80M130.50 236.80L126.30 236.80M126.30 224.80L126.30 236.80M139.30 216.80L119.20 216.80M126.30 230.80L119.20 230.80M119.20 216.80L119.20 230.80M121.50 198.80L118.30 198.80M119.20 223.80L118.30 223.80M118.30 198.80L118.30 223.80M120.20 167.80L115.80 167.80M118.30 211.30L115.80 211.30M115.80 167.80L115.80 211.30M116.40 148.80L112.30 148.80M115.80 189.55L112.30 189.55M112.30 148.80L112.30 189.55M127.40 96.68L104.40 96.68M112.30 169.18L104.40 169.18M104.40 96.68L104.40 169.18M139.30 264.80L126.70 264.80M139.30 272.80L126.70 272.80M126.70 264.80L126.70 272.80M139.30 256.80L125.30 256.80M126.70 268.80L125.30 268.80M125.30 256.80L125.30 268.80M139.30 248.80L122.50 248.80M125.30 262.80L122.50 262.80M122.50 248.80L122.50 262.80M139.30 280.80L131.40 280.80M139.30 288.80L131.40 288.80M131.40 280.80L131.40 288.80M139.30 312.80L132.90 312.80M139.30 320.80L132.90 320.80M132.90 312.80L132.90 320.80M139.30 304.80L126.50 304.80M132.90 316.80L126.50 316.80M126.50 304.80L126.50 316.80M139.30 296.80L123.30 296.80M126.50 310.80L123.30 310.80M123.30 296.80L123.30 310.80M131.40 284.80L117.60 284.80M123.30 303.80L117.60 303.80M117.60 284.80L117.60 303.80M122.50 255.80L98.70 255.80M117.60 294.30L98.70 294.30M98.70 255.80L98.70 294.30M104.40 132.93L40.60 132.93M98.70 275.05L40.60 275.05M40.60 132.93L40.60 275.05" fill="none" stroke="#666" stroke-width="0.8" stroke-linecap="square"/><path d="M152.19 50.80L152.19 43.80M157.34 50.80L157.34 43.80M152.19 43.80L157.34 43.80M147.03 50.80L147.03 43.40M154.76 43.80L154.76 43.40M147.03 43.40L154.76 43.40M141.88 50.80L141.88 40.60M150.90 43.40L150.90 40.60M141.88 40.60L150.90 40.60M172.81 50.80L172.81 46.40M177.96 50.80L177.96 46.40M172.81 46.40L177.96 46.40M167.65 50.80L167.65 45.50M175.38 46.40L175.38 45.50M167.65 45.50L175.38 45.50M162.50 50.80L162.50 45.10M171.52 45.50L171.52 45.10M162.50 45.10L171.52 45.10M198.58 50.80L198.58 48.20M203.74 50.80L203.74 48.20M198.58 48.20L203.74 48.20M193.43 50.80L193.43 48.00M201.16 48.20L201.16 48.00M193.43 48.00L201.16 48.00M188.27 50.80L188.27 47.70M197.29 48.00L197.29 47.70M188.27 47.70L197.29 47.70M183.12 50.80L183.12 46.40M192.78 47.70L192.78 46.40M183.12 46.40L192.78 46.40M208.89 50.80L208.89 46.40M214.05 50.80L214.05 46.40M208.89 46.40L214.05 46.40M187.95 46.40L187.95 44.40M211.47 46.40L211.47 44.40M187.95 44.40L211.47 44.40M219.20 50.80L219.20 46.40M224.36 50.80L224.36 46.40M219.20 46.40L224.36 46.40M229.51 50.80L229.51 46.40M234.67 50.80L234.67 46.40M229.51 46.40L234.67 46.40M239.82 50.80L239.82 46.50M244.98 50.80L244.98 46.50M239.82 46.50L244.98 46.50M260.44 50.80L260.44 47.50M265.60 50.80L265.60 47.50M260.44 47.50L265.60 47.50M255.29 50.80L255.29 46.80M263.02 47.50L263.02 46.80M255.29 46.80L263.02 46.80M250.13 50.80L250.13 45.50M259.15 46.80L259.15 45.50M250.13 45.50L259.15 45.50M242.40 46.50L242.40 44.10M254.64 45.50L254.64 44.10M242.40 44.10L254.64 44.10M232.09 46.40L232.09 43.50M248.52 44.10L248.52 43.50M232.09 43.50L248.52 43.50M221.78 46.40L221.78 41.30M240.31 43.50L240.31 41.30M221.78 41.30L240.31 41.30M199.71 44.40L199.71 41.10M231.04 41.30L231.04 41.10M199.71 41.10L231.04 41.10M167.01 45.10L167.01 37.90M215.38 41.10L215.38 37.90M167.01 37.90L215.38 37.90M281.06 50.80L281.06 46.70M286.22 50.80L286.22 46.70M281.06 46.70L286.22 46.70M275.91 50.80L275.91 44.40M283.64 46.70L283.64 44.40M275.91 44.40L283.64 44.40M270.75 50.80L270.75 42.10M279.77 44.40L279.77 42.10M270.75 42.10L279.77 42.10M291.37 50.80L291.37 44.10M296.53 50.80L296.53 44.10M291.37 44.10L296.53 44.10M311.99 50.80L311.99 47.00M317.15 50.80L317.15 47.00M311.99 47.00L317.15 47.00M306.84 50.80L306.84 46.00M314.57 47.00L314.57 46.00M306.84 46.00L314.57 46.00M332.61 50.80L332.61 47.00M337.77 50.80L337.77 47.00M332.61 47.00L337.77 47.00M327.46 50.80L327.46 46.00M335.19 47.00L335.19 46.00M327.46 46.00L335.19 46.00M322.30 50.80L322.30 44.50M331.32 46.00L331.32 44.50M322.30 44.50L331.32 44.50M310.70 46.00L310.70 43.50M326.81 44.50L326.81 43.50M310.70 43.50L326.81 43.50M301.68 50.80L301.68 42.10M318.76 43.50L318.76 42.10M301.68 42.10L318.76 42.10M293.95 44.10L293.95 41.30M310.22 42.10L310.22 41.30M293.95 41.30L310.22 41.30M275.26 42.10L275.26 39.50M302.09 41.30L302.09 39.50M275.26 39.50L302.09 39.50M353.23 50.80L353.23 47.00M358.39 50.80L358.39 47.00M353.23 47.00L358.39 47.00M348.08 50.80L348.08 45.50M355.81 47.00L355.81 45.50M348.08 45.50L355.81 45.50M342.92 50.80L342.92 44.10M351.94 45.50L351.94 44.10M342.92 44.10L351.94 44.10M363.54 50.80L363.54 45.50M368.70 50.80L368.70 45.50M363.54 45.50L368.70 45.50M379.01 50.80L379.01 46.80M384.16 50.80L384.16 46.80M379.01 46.80L384.16 46.80M373.85 50.80L373.85 44.50M381.59 46.80L381.59 44.50M373.85 44.50L381.59 44.50M366.12 45.50L366.12 43.20M377.72 44.50L377.72 43.20M366.12 43.20L377.72 43.20M347.43 44.10L347.43 40.60M371.92 43.20L371.92 40.60M347.43 40.60L371.92 40.60M394.47 50.80L394.47 43.60M399.63 50.80L399.63 43.60M394.47 43.60L399.63 43.60M389.32 50.80L389.32 43.10M397.05 43.60L397.05 43.10M389.32 43.10L397.05 43.10M425.40 50.80L425.40 47.10M430.56 50.80L430.56 47.10M425.40 47.10L430.56 47.10M420.25 50.80L420.25 45.00M427.98 47.10L427.98 45.00M420.25 45.00L427.98 45.00M415.09 50.80L415.09 43.60M424.11 45.00L424.11 43.60M415.09 43.60L424.11 43.60M409.94 50.80L409.94 42.30M419.60 43.60L419.60 42.30M409.94 42.30L419.60 42.30M404.78 50.80L404.78 40.30M414.77 42.30L414.77 40.30M404.78 40.30L414.77 40.30M393.18 43.10L393.18 39.00M409.78 40.30L409.78 39.00M393.18 39.00L409.78 39.00M359.68 40.60L359.68 37.20M401.48 39.00L401.48 37.20M359.68 37.20L401.48 37.20M288.67 39.50L288.67 37.00M380.58 37.20L380.58 37.00M288.67 37.00L380.58 37.00M191.19 37.90L191.19 32.10M334.63 37.00L334.63 32.10M191.19 32.10L334.63 32.10M146.39 40.60L146.39 29.50M262.91 32.10L262.91 29.50M146.39 29.50L262.91 29.50M435.71 50.80L435.71 45.30M440.87 50.80L440.87 45.30M435.71 45.30L440.87 45.30M446.02 50.80L446.02 41.50M451.18 50.80L451.18 41.50M446.02 41.50L451.18 41.50M466.64 50.80L466.64 46.10M471.80 50.80L471.80 46.10M466.64 46.10L471.80 46.10M461.49 50.80L461.49 44.30M469.22 46.10L469.22 44.30M461.49 44.30L469.22 44.30M456.33 50.80L456.33 41.00M465.35 44.30L465.35 41.00M456.33 41.00L465.35 41.00M482.11 50.80L482.11 44.30M487.26 50.80L487.26 44.30M482.11 44.30L487.26 44.30M476.95 50.80L476.95 42.50M484.69 44.30L484.69 42.50M476.95 42.50L484.69 42.50M492.42 50.80L492.42 42.30M497.57 50.80L497.57 42.30M492.42 42.30L497.57 42.30M480.82 42.50L480.82 40.20M495.00 42.30L495.00 40.20M480.82 40.20L495.00 40.20M460.84 41.00L460.84 37.30M487.91 40.20L487.91 37.30M460.84 37.30L487.91 37.30M448.60 41.50L448.60 36.90M474.38 37.30L474.38 36.90M448.60 36.90L474.38 36.90M438.29 45.30L438.29 36.30M461.49 36.90L461.49 36.30M438.29 36.30L461.49 36.30M513.04 50.80L513.04 42.50M518.19 50.80L518.19 42.50M513.04 42.50L518.19 42.50M507.88 50.80L507.88 40.00M515.62 42.50L515.62 40.00M507.88 40.00L515.62 40.00M502.73 50.80L502.73 37.80M511.75 40.00L511.75 37.80M502.73 37.80L511.75 37.80M523.35 50.80L523.35 41.30M528.50 50.80L528.50 41.30M523.35 41.30L528.50 41.30M538.81 50.80L538.81 44.00M543.97 50.80L543.97 44.00M538.81 44.00L543.97 44.00M533.66 50.80L533.66 41.30M541.39 44.00L541.39 41.30M533.66 41.30L541.39 41.30M525.93 41.30L525.93 36.40M537.52 41.30L537.52 36.40M525.93 36.40L537.52 36.40M507.24 37.80L507.24 34.00M531.72 36.40L531.72 34.00M507.24 34.00L531.72 34.00M449.89 36.30L449.89 28.20M519.48 34.00L519.48 28.20M449.89 28.20L519.48 28.20M204.65 29.50L204.65 4.30M484.69 28.20L484.69 4.30M204.65 4.30L484.69 4.30" fill="none" stroke="#666" stroke-width="0.8" stroke-linecap="square"/><text x="6.4" y="12.9" font-family="Liberation Sans, sans-serif" font-size="8.5" font-weight="bold" fill="#444">a</text><rect x="17.9" y="4.8" width="52.4" height="10.399999999999999" rx="5.199999999999999" fill="#1b72c0"/><text x="26.65" y="13.20" font-family="Liberation Sans, sans-serif" font-size="9.0" font-weight="bold" fill="#fff" textLength="35.3" lengthAdjust="spacingAndGlyphs">Tri-omics</text><text x="6.6" y="370.9" font-family="Liberation Sans, sans-serif" font-size="8.5" font-weight="bold" fill="#444">b</text><rect x="17.9" y="363.3" width="52.4" height="9.5" rx="4.75" fill="#1b72c0"/><text x="26.65" y="371.25" font-family="Liberation Sans, sans-serif" font-size="9.0" font-weight="bold" fill="#fff" textLength="35.3" lengthAdjust="spacingAndGlyphs">Tri-omics</text><text x="6.6" y="613.4" font-family="Liberation Sans, sans-serif" font-size="8.5" font-weight="bold" fill="#444">c</text><rect x="17.9" y="604.7" width="52.4" height="9.799999999999955" rx="4.899999999999977" fill="#1b72c0"/><text x="23.30" y="612.80" font-family="Liberation Sans, sans-serif" font-size="9.0" font-weight="bold" fill="#fff" textLength="42.0" lengthAdjust="spacingAndGlyphs">Dual-omics</text><defs><path id="mP" d="M-1.0 -2.75H1.0V-1.0H2.75V1.0H1.0V2.75H-1.0V1.0H-2.75V-1.0H-1.0Z" fill="#5cc3d1" stroke="#3b3b3b" stroke-width="0.6"/><path id="mX" d="M-1.15 -2.7H1.15V-1.15H2.7V1.15H1.15V2.7H-1.15V1.15H-2.7V-1.15H-1.15Z" transform="rotate(45)" fill="#3a8bd0" stroke="#3b3b3b" stroke-width="0.6"/><path id="mD" d="M0 -2.85L2.85 0L0 2.85L-2.85 0Z" fill="#b13a9d" stroke="#3b3b3b" stroke-width="0.6"/><circle id="mO" r="2.1" fill="#6bbd47" stroke="#3b3b3b" stroke-width="0.6"/></defs><path d="M72.50 381.70V461.10M117.00 381.70V461.10M161.70 381.70V461.10M206.40 381.70V461.10M62.70 382.60H224.00M62.70 399.00H224.00M62.70 415.50H224.00M62.70 432.00H224.00M62.70 448.50H224.00" stroke="#d6d4cf" stroke-width="0.9" fill="none"/><polygon points="75.8,426.5 83.3,398.6 95.5,387.8 152.3,401.6 190.8,412.1 214.1,419.8 193.6,448.7 175.4,455.8 110.0,444.0 90.7,440.2 80.0,430.4" fill="#a3d9e7" fill-opacity="0.55"/><polygon points="72.2,427.1 86.5,404.9 117.1,425.0 117.7,446.2 94.9,440.8 88.9,439.0 80.6,436.1" fill="#e5b8d8" fill-opacity="0.72"/><path d="M62.70 381.70V461.10H224.00" stroke="#8c8c8c" stroke-width="1.1" fill="none"/><use href="#mD" x="86.5" y="404.9"/><use href="#mD" x="72.2" y="427.1"/><use href="#mD" x="90.4" y="424.1"/><use href="#mD" x="95.8" y="425.9"/><use href="#mD" x="102.3" y="424.1"/><use href="#mD" x="117.1" y="425.0"/><use href="#mD" x="80.6" y="436.1"/><use href="#mD" x="85.9" y="434.0"/><use href="#mD" x="89.5" y="434.3"/><use href="#mD" x="87.1" y="437.9"/><use href="#mD" x="97.9" y="430.7"/><use href="#mD" x="107.2" y="434.3"/><use href="#mD" x="111.7" y="435.5"/><use href="#mD" x="94.9" y="440.8"/><use href="#mD" x="100.3" y="440.2"/><use href="#mD" x="103.9" y="436.7"/><use href="#mD" x="117.7" y="446.2"/><use href="#mD" x="88.9" y="439.0"/><use href="#mD" x="92.0" y="437.0"/><use href="#mD" x="99.0" y="433.0"/><use href="#mD" x="105.0" y="439.5"/><use href="#mD" x="108.0" y="438.0"/><use href="#mX" x="95.5" y="387.8"/><use href="#mX" x="83.3" y="398.6"/><use href="#mX" x="98.3" y="417.3"/><use href="#mX" x="75.8" y="426.5"/><use href="#mX" x="80.0" y="430.4"/><use href="#mX" x="103.1" y="428.9"/><use href="#mX" x="95.2" y="432.8"/><use href="#mX" x="98.7" y="436.7"/><use href="#mX" x="90.7" y="440.2"/><use href="#mX" x="142.0" y="413.3"/><use href="#mX" x="130.2" y="419.9"/><use href="#mX" x="126.6" y="431.5"/><use href="#mX" x="135.4" y="430.1"/><use href="#mX" x="138.0" y="437.5"/><use href="#mX" x="138.0" y="442.0"/><use href="#mX" x="142.0" y="439.3"/><use href="#mX" x="124.2" y="442.6"/><use href="#mX" x="130.0" y="442.3"/><use href="#mX" x="121.9" y="445.6"/><use href="#mX" x="107.5" y="442.6"/><use href="#mX" x="152.3" y="401.6"/><use href="#mX" x="190.8" y="412.1"/><use href="#mX" x="214.1" y="419.8"/><use href="#mX" x="165.5" y="423.0"/><use href="#mX" x="173.6" y="425.5"/><use href="#mX" x="180.2" y="427.8"/><use href="#mX" x="189.3" y="427.3"/><use href="#mX" x="147.8" y="429.2"/><use href="#mX" x="147.5" y="430.8"/><use href="#mX" x="169.8" y="448.9"/><use href="#mX" x="193.6" y="448.7"/><use href="#mX" x="175.4" y="455.8"/><use href="#mX" x="101.0" y="438.0"/><use href="#mX" x="110.0" y="444.0"/><use href="#mX" x="114.0" y="441.0"/><use href="#mP" x="77.8" y="436.4"/><use href="#mP" x="109.9" y="437.9"/><use href="#mP" x="115.3" y="439.6"/><use href="#mP" x="118.3" y="442.6"/><use href="#mP" x="111.7" y="445.0"/><use href="#mP" x="127.6" y="445.6"/><use href="#mO" x="132.6" y="421.1"/><use href="#mO" x="104.7" y="440.5"/><use href="#mO" x="112.9" y="442.6"/><use href="#mO" x="145.9" y="440.8"/><g font-family="Liberation Sans, sans-serif" font-size="7.2" fill="#6a6a6a"><text x="72.50" y="472.30" text-anchor="middle">−10</text><text x="117.00" y="472.30" text-anchor="middle">0</text><text x="161.70" y="472.30" text-anchor="middle">10</text><text x="206.40" y="472.30" text-anchor="middle">20</text><text x="58.10" y="385.20" text-anchor="end">15</text><text x="58.10" y="401.60" text-anchor="end">10</text><text x="58.10" y="418.10" text-anchor="end">5</text><text x="58.10" y="434.60" text-anchor="end">0</text><text x="58.10" y="451.10" text-anchor="end">−5</text></g><text x="143.35" y="484.10" font-family="Liberation Sans, sans-serif" font-size="8.0" font-weight="bold" fill="#3a3a3a" text-anchor="middle">PC1 (38.8%)</text><text transform="translate(41.90,421.40) rotate(-90)" font-family="Liberation Sans, sans-serif" font-size="8.0" font-weight="bold" fill="#3a3a3a" text-anchor="middle">PC2 (10.0%)</text><path d="M289.80 382.00V460.70M334.40 382.00V460.70M379.10 382.00V460.70M423.80 382.00V460.70M280.40 390.20H441.00M280.40 408.70H441.00M280.40 426.80H441.00M280.40 445.30H441.00" stroke="#d6d4cf" stroke-width="0.9" fill="none"/><polygon points="293.2,435.7 300.6,409.3 352.7,388.1 391.1,411.3 410.7,424.8 431.3,445.2 320.3,455.4" fill="#a3d9e7" fill-opacity="0.55"/><polygon points="289.6,436.9 298.0,406.1 303.9,402.7 326.7,410.5 334.5,419.3 335.1,435.1 318.3,444.0" fill="#e5b8d8" fill-opacity="0.72"/><path d="M280.40 382.00V460.70H441.00" stroke="#8c8c8c" stroke-width="1.1" fill="none"/><use href="#mD" x="303.9" y="402.7"/><use href="#mD" x="298.0" y="406.1"/><use href="#mD" x="309.3" y="412.0"/><use href="#mD" x="334.5" y="419.3"/><use href="#mD" x="303.6" y="422.1"/><use href="#mD" x="315.9" y="420.7"/><use href="#mD" x="318.1" y="421.7"/><use href="#mD" x="312.0" y="425.5"/><use href="#mD" x="306.9" y="428.5"/><use href="#mD" x="314.7" y="429.3"/><use href="#mD" x="320.7" y="428.5"/><use href="#mD" x="304.5" y="432.4"/><use href="#mD" x="308.1" y="434.5"/><use href="#mD" x="312.3" y="432.4"/><use href="#mD" x="321.9" y="431.7"/><use href="#mD" x="289.6" y="436.9"/><use href="#mD" x="320.1" y="437.5"/><use href="#mD" x="324.5" y="438.7"/><use href="#mD" x="326.1" y="435.3"/><use href="#mD" x="318.3" y="444.0"/><use href="#mD" x="335.1" y="435.1"/><use href="#mD" x="326.7" y="410.5"/><use href="#mX" x="352.7" y="388.1"/><use href="#mX" x="315.6" y="406.3"/><use href="#mX" x="300.6" y="409.3"/><use href="#mX" x="322.3" y="409.1"/><use href="#mX" x="341.6" y="408.1"/><use href="#mX" x="308.4" y="421.3"/><use href="#mX" x="326.7" y="424.3"/><use href="#mX" x="330.3" y="424.9"/><use href="#mX" x="344.0" y="427.9"/><use href="#mX" x="347.6" y="434.5"/><use href="#mX" x="355.4" y="432.3"/><use href="#mX" x="359.6" y="434.5"/><use href="#mX" x="355.4" y="438.7"/><use href="#mX" x="293.2" y="435.7"/><use href="#mX" x="298.0" y="432.1"/><use href="#mX" x="312.9" y="438.4"/><use href="#mX" x="316.5" y="437.2"/><use href="#mX" x="329.1" y="438.3"/><use href="#mX" x="339.3" y="437.8"/><use href="#mX" x="312.3" y="444.6"/><use href="#mX" x="348.0" y="447.0"/><use href="#mX" x="320.3" y="455.4"/><use href="#mX" x="383.1" y="408.8"/><use href="#mX" x="391.1" y="411.3"/><use href="#mX" x="393.0" y="414.6"/><use href="#mX" x="387.1" y="421.4"/><use href="#mX" x="365.6" y="422.6"/><use href="#mX" x="364.7" y="427.6"/><use href="#mX" x="369.6" y="432.1"/><use href="#mX" x="359.8" y="434.0"/><use href="#mX" x="359.8" y="436.7"/><use href="#mX" x="406.4" y="426.8"/><use href="#mX" x="410.7" y="424.8"/><use href="#mX" x="408.3" y="429.7"/><use href="#mX" x="397.5" y="437.0"/><use href="#mX" x="431.3" y="445.2"/><use href="#mP" x="327.5" y="408.5"/><use href="#mP" x="295.6" y="430.9"/><use href="#mP" x="329.1" y="427.3"/><use href="#mP" x="335.4" y="435.7"/><use href="#mP" x="332.7" y="441.9"/><use href="#mP" x="344.6" y="431.2"/><use href="#mO" x="350.0" y="416.5"/><use href="#mO" x="321.9" y="423.7"/><use href="#mO" x="330.6" y="430.5"/><use href="#mO" x="363.2" y="420.5"/><g font-family="Liberation Sans, sans-serif" font-size="7.2" fill="#6a6a6a"><text x="289.80" y="471.90" text-anchor="middle">−10</text><text x="334.40" y="471.90" text-anchor="middle">0</text><text x="379.10" y="471.90" text-anchor="middle">10</text><text x="423.80" y="471.90" text-anchor="middle">20</text><text x="275.80" y="392.80" text-anchor="end">10</text><text x="275.80" y="411.30" text-anchor="end">5</text><text x="275.80" y="429.40" text-anchor="end">0</text><text x="275.80" y="447.90" text-anchor="end">−5</text></g><text x="360.70" y="483.70" font-family="Liberation Sans, sans-serif" font-size="8.0" font-weight="bold" fill="#3a3a3a" text-anchor="middle">PC1 (38.8%)</text><text transform="translate(259.60,421.35) rotate(-90)" font-family="Liberation Sans, sans-serif" font-size="8.0" font-weight="bold" fill="#3a3a3a" text-anchor="middle">PC3 (8.0%)</text><path d="M505.40 382.00V460.70M550.40 382.00V460.70M594.70 382.00V460.70M639.40 382.00V460.70M496.30 392.60H657.20M496.30 410.70H657.20M496.30 428.50H657.20M496.30 446.60H657.20" stroke="#d6d4cf" stroke-width="0.9" fill="none"/><polygon points="508.6,427.3 516.4,419.5 607.1,387.7 647.3,423.9 622.6,440.1 585.4,455.4 571.2,452.4" fill="#a3d9e7" fill-opacity="0.55"/><polygon points="505.6,420.7 528.0,412.1 536.7,415.0 550.5,439.3 523.5,440.8 519.3,438.1" fill="#e5b8d8" fill-opacity="0.72"/><path d="M496.30 382.00V460.70H657.20" stroke="#8c8c8c" stroke-width="1.1" fill="none"/><use href="#mD" x="505.6" y="420.7"/><use href="#mD" x="528.0" y="412.1"/><use href="#mD" x="528.9" y="415.3"/><use href="#mD" x="536.7" y="415.0"/><use href="#mD" x="522.9" y="418.3"/><use href="#mD" x="520.5" y="419.7"/><use href="#mD" x="514.0" y="431.2"/><use href="#mD" x="519.3" y="431.5"/><use href="#mD" x="521.7" y="432.7"/><use href="#mD" x="524.7" y="433.9"/><use href="#mD" x="531.9" y="430.3"/><use href="#mD" x="535.5" y="426.1"/><use href="#mD" x="541.5" y="428.5"/><use href="#mD" x="522.9" y="436.0"/><use href="#mD" x="519.3" y="438.1"/><use href="#mD" x="523.5" y="440.8"/><use href="#mD" x="530.7" y="440.1"/><use href="#mD" x="532.5" y="435.7"/><use href="#mD" x="550.5" y="439.3"/><use href="#mD" x="543.3" y="433.9"/><use href="#mX" x="516.4" y="419.5"/><use href="#mX" x="531.3" y="418.9"/><use href="#mX" x="536.3" y="421.9"/><use href="#mX" x="508.6" y="427.3"/><use href="#mX" x="513.4" y="426.1"/><use href="#mX" x="524.4" y="428.5"/><use href="#mX" x="528.3" y="426.4"/><use href="#mX" x="531.9" y="425.2"/><use href="#mX" x="528.1" y="433.3"/><use href="#mX" x="545.1" y="422.5"/><use href="#mX" x="554.7" y="420.3"/><use href="#mX" x="560.0" y="423.7"/><use href="#mX" x="563.0" y="421.7"/><use href="#mX" x="568.4" y="426.1"/><use href="#mX" x="563.9" y="429.1"/><use href="#mX" x="557.0" y="434.2"/><use href="#mX" x="571.2" y="434.5"/><use href="#mX" x="575.6" y="432.7"/><use href="#mX" x="541.5" y="433.9"/><use href="#mX" x="545.7" y="432.7"/><use href="#mX" x="571.2" y="452.4"/><use href="#mX" x="575.6" y="448.2"/><use href="#mX" x="607.1" y="387.7"/><use href="#mX" x="626.7" y="405.5"/><use href="#mX" x="624.0" y="409.4"/><use href="#mX" x="647.3" y="423.9"/><use href="#mX" x="581.4" y="419.5"/><use href="#mX" x="576.2" y="433.0"/><use href="#mX" x="613.4" y="433.1"/><use href="#mX" x="603.0" y="435.9"/><use href="#mX" x="598.9" y="437.4"/><use href="#mX" x="608.7" y="441.9"/><use href="#mX" x="622.6" y="440.1"/><use href="#mX" x="580.5" y="442.8"/><use href="#mX" x="576.2" y="448.1"/><use href="#mX" x="585.4" y="455.4"/><use href="#mP" x="511.0" y="433.9"/><use href="#mP" x="543.6" y="423.3"/><use href="#mP" x="551.1" y="426.7"/><use href="#mP" x="544.5" y="438.3"/><use href="#mP" x="560.6" y="436.9"/><use href="#mP" x="548.7" y="444.3"/><use href="#mO" x="537.9" y="435.1"/><use href="#mO" x="546.3" y="429.4"/><use href="#mO" x="566.0" y="416.5"/><use href="#mO" x="579.3" y="415.8"/><g font-family="Liberation Sans, sans-serif" font-size="7.2" fill="#6a6a6a"><text x="505.40" y="471.90" text-anchor="middle">−10</text><text x="550.40" y="471.90" text-anchor="middle">0</text><text x="594.70" y="471.90" text-anchor="middle">10</text><text x="639.40" y="471.90" text-anchor="middle">20</text><text x="491.70" y="395.20" text-anchor="end">10</text><text x="491.70" y="413.30" text-anchor="end">5</text><text x="491.70" y="431.10" text-anchor="end">0</text><text x="491.70" y="449.20" text-anchor="end">−5</text></g><text x="576.75" y="483.70" font-family="Liberation Sans, sans-serif" font-size="8.0" font-weight="bold" fill="#3a3a3a" text-anchor="middle">PC1 (38.8%)</text><text transform="translate(475.50,421.35) rotate(-90)" font-family="Liberation Sans, sans-serif" font-size="8.0" font-weight="bold" fill="#3a3a3a" text-anchor="middle">PC4 (6.5%)</text><path d="M88.30 497.50V576.40M121.90 497.50V576.40M155.10 497.50V576.40M188.70 497.50V576.40M222.00 497.50V576.40M62.80 505.20H223.30M62.80 523.70H223.30M62.80 542.10H223.30M62.80 560.60H223.30" stroke="#d6d4cf" stroke-width="0.9" fill="none"/><polygon points="74.0,529.7 126.3,503.0 190.0,524.3 212.2,553.4 128.7,570.7 94.3,553.1" fill="#a3d9e7" fill-opacity="0.55"/><polygon points="93.7,550.1 103.9,527.1 114.1,521.1 177.7,517.9 138.0,553.3 108.7,559.6" fill="#e5b8d8" fill-opacity="0.72"/><path d="M62.80 497.50V576.40H223.30" stroke="#8c8c8c" stroke-width="1.1" fill="none"/><use href="#mD" x="114.1" y="521.1"/><use href="#mD" x="103.9" y="527.1"/><use href="#mD" x="136.2" y="534.3"/><use href="#mD" x="138.6" y="540.2"/><use href="#mD" x="117.7" y="536.3"/><use href="#mD" x="113.5" y="539.1"/><use href="#mD" x="121.3" y="540.2"/><use href="#mD" x="118.3" y="542.6"/><use href="#mD" x="111.1" y="542.9"/><use href="#mD" x="106.9" y="544.7"/><use href="#mD" x="134.4" y="546.7"/><use href="#mD" x="137.4" y="549.5"/><use href="#mD" x="138.0" y="553.3"/><use href="#mD" x="117.1" y="553.9"/><use href="#mD" x="105.1" y="550.1"/><use href="#mD" x="93.7" y="550.1"/><use href="#mD" x="108.7" y="559.6"/><use href="#mD" x="177.7" y="517.9"/><use href="#mD" x="140.6" y="540.2"/><use href="#mX" x="126.3" y="503.0"/><use href="#mX" x="100.1" y="523.1"/><use href="#mX" x="74.0" y="529.7"/><use href="#mX" x="108.1" y="523.7"/><use href="#mX" x="135.0" y="526.4"/><use href="#mX" x="140.4" y="524.0"/><use href="#mX" x="87.7" y="536.3"/><use href="#mX" x="88.3" y="540.5"/><use href="#mX" x="100.1" y="538.7"/><use href="#mX" x="109.3" y="540.5"/><use href="#mX" x="128.8" y="537.7"/><use href="#mX" x="122.5" y="542.9"/><use href="#mX" x="126.0" y="543.5"/><use href="#mX" x="132.0" y="542.0"/><use href="#mX" x="124.5" y="547.1"/><use href="#mX" x="107.5" y="548.9"/><use href="#mX" x="94.3" y="553.1"/><use href="#mX" x="100.3" y="553.7"/><use href="#mX" x="110.5" y="553.4"/><use href="#mX" x="112.9" y="552.5"/><use href="#mX" x="130.8" y="552.2"/><use href="#mX" x="133.8" y="550.7"/><use href="#mX" x="120.4" y="559.6"/><use href="#mX" x="128.7" y="570.7"/><use href="#mX" x="152.2" y="521.4"/><use href="#mX" x="190.0" y="524.3"/><use href="#mX" x="162.6" y="544.6"/><use href="#mX" x="160.3" y="551.7"/><use href="#mX" x="184.2" y="547.1"/><use href="#mX" x="212.2" y="553.4"/><use href="#mX" x="146.5" y="560.0"/><use href="#mX" x="146.5" y="562.2"/><use href="#mP" x="110.5" y="523.5"/><use href="#mP" x="95.5" y="542.6"/><use href="#mP" x="99.3" y="542.0"/><use href="#mP" x="94.9" y="546.7"/><use href="#mP" x="100.9" y="550.7"/><use href="#mP" x="113.7" y="546.2"/><use href="#mP" x="106.3" y="557.0"/><use href="#mO" x="103.9" y="535.5"/><use href="#mO" x="103.9" y="538.7"/><use href="#mO" x="100.9" y="545.6"/><use href="#mO" x="144.4" y="531.7"/><g font-family="Liberation Sans, sans-serif" font-size="7.2" fill="#6a6a6a"><text x="88.30" y="587.60" text-anchor="middle">−5</text><text x="121.90" y="587.60" text-anchor="middle">0</text><text x="155.10" y="587.60" text-anchor="middle">5</text><text x="188.70" y="587.60" text-anchor="middle">10</text><text x="222.00" y="587.60" text-anchor="middle">15</text><text x="58.20" y="507.80" text-anchor="end">10</text><text x="58.20" y="526.30" text-anchor="end">5</text><text x="58.20" y="544.70" text-anchor="end">0</text><text x="58.20" y="563.20" text-anchor="end">−5</text></g><text x="143.05" y="599.40" font-family="Liberation Sans, sans-serif" font-size="8.0" font-weight="bold" fill="#3a3a3a" text-anchor="middle">PC2 (10.0%)</text><text transform="translate(42.00,536.95) rotate(-90)" font-family="Liberation Sans, sans-serif" font-size="8.0" font-weight="bold" fill="#3a3a3a" text-anchor="middle">PC3 (8.0%)</text><path d="M305.60 497.50V576.40M339.10 497.50V576.40M372.70 497.50V576.40M406.30 497.50V576.40M439.90 497.50V576.40M280.40 507.50H441.00M280.40 525.70H441.00M280.40 543.80H441.00M280.40 561.90H441.00" stroke="#d6d4cf" stroke-width="0.9" fill="none"/><polygon points="291.4,557.2 305.4,521.1 352.4,503.1 429.5,541.6 401.5,570.7 327.9,567.4" fill="#a3d9e7" fill-opacity="0.55"/><polygon points="311.4,542.5 321.3,526.7 351.8,530.3 394.8,546.7 356.0,556.3 330.9,554.0" fill="#e5b8d8" fill-opacity="0.72"/><path d="M280.40 497.50V576.40H441.00" stroke="#8c8c8c" stroke-width="1.1" fill="none"/><use href="#mD" x="321.3" y="526.7"/><use href="#mD" x="324.9" y="530.1"/><use href="#mD" x="338.7" y="529.4"/><use href="#mD" x="351.8" y="530.3"/><use href="#mD" x="336.3" y="533.5"/><use href="#mD" x="326.9" y="534.3"/><use href="#mD" x="349.4" y="535.7"/><use href="#mD" x="355.2" y="539.3"/><use href="#mD" x="354.5" y="544.1"/><use href="#mD" x="322.5" y="538.3"/><use href="#mD" x="333.9" y="542.3"/><use href="#mD" x="335.1" y="545.3"/><use href="#mD" x="311.4" y="542.5"/><use href="#mD" x="326.4" y="551.3"/><use href="#mD" x="330.9" y="554.0"/><use href="#mD" x="334.5" y="553.3"/><use href="#mD" x="341.6" y="554.9"/><use href="#mD" x="353.6" y="554.3"/><use href="#mD" x="356.0" y="556.3"/><use href="#mD" x="394.8" y="546.7"/><use href="#mX" x="352.4" y="503.1"/><use href="#mX" x="305.4" y="521.1"/><use href="#mX" x="311.7" y="535.5"/><use href="#mX" x="318.3" y="537.1"/><use href="#mX" x="330.3" y="540.2"/><use href="#mX" x="339.9" y="538.7"/><use href="#mX" x="343.4" y="541.4"/><use href="#mX" x="346.1" y="534.5"/><use href="#mX" x="350.9" y="542.3"/><use href="#mX" x="323.1" y="543.5"/><use href="#mX" x="326.1" y="544.1"/><use href="#mX" x="325.5" y="547.7"/><use href="#mX" x="337.8" y="548.6"/><use href="#mX" x="348.2" y="548.3"/><use href="#mX" x="305.1" y="551.3"/><use href="#mX" x="318.3" y="549.5"/><use href="#mX" x="320.7" y="552.5"/><use href="#mX" x="349.2" y="555.5"/><use href="#mX" x="343.7" y="558.1"/><use href="#mX" x="357.6" y="552.7"/><use href="#mX" x="291.4" y="557.2"/><use href="#mX" x="327.9" y="567.4"/><use href="#mX" x="380.1" y="524.4"/><use href="#mX" x="369.4" y="534.2"/><use href="#mX" x="364.1" y="539.1"/><use href="#mX" x="363.9" y="544.4"/><use href="#mX" x="407.4" y="534.2"/><use href="#mX" x="429.5" y="541.6"/><use href="#mX" x="377.6" y="563.4"/><use href="#mX" x="401.5" y="570.7"/><use href="#mX" x="358.6" y="552.6"/><use href="#mP" x="327.6" y="538.3"/><use href="#mP" x="318.5" y="542.3"/><use href="#mP" x="330.9" y="548.6"/><use href="#mP" x="312.3" y="551.3"/><use href="#mP" x="316.5" y="553.7"/><use href="#mP" x="323.7" y="559.3"/><use href="#mO" x="321.3" y="530.7"/><use href="#mO" x="318.3" y="544.7"/><use href="#mO" x="321.9" y="550.1"/><use href="#mO" x="361.7" y="531.8"/><g font-family="Liberation Sans, sans-serif" font-size="7.2" fill="#6a6a6a"><text x="305.60" y="587.60" text-anchor="middle">−5</text><text x="339.10" y="587.60" text-anchor="middle">0</text><text x="372.70" y="587.60" text-anchor="middle">5</text><text x="406.30" y="587.60" text-anchor="middle">10</text><text x="439.90" y="587.60" text-anchor="middle">15</text><text x="275.80" y="510.10" text-anchor="end">10</text><text x="275.80" y="528.30" text-anchor="end">5</text><text x="275.80" y="546.40" text-anchor="end">0</text><text x="275.80" y="564.50" text-anchor="end">−5</text></g><text x="360.70" y="599.40" font-family="Liberation Sans, sans-serif" font-size="8.0" font-weight="bold" fill="#3a3a3a" text-anchor="middle">PC2 (10.0%)</text><text transform="translate(259.60,536.95) rotate(-90)" font-family="Liberation Sans, sans-serif" font-size="8.0" font-weight="bold" fill="#3a3a3a" text-anchor="middle">PC4 (6.5%)</text><path d="M528.20 497.50V576.40M565.10 497.50V576.40M602.10 497.50V576.40M639.40 497.50V576.40M496.30 507.50H657.20M496.30 525.70H657.20M496.30 543.80H657.20M496.30 561.90H657.20" stroke="#d6d4cf" stroke-width="0.9" fill="none"/><polygon points="507.4,536.9 597.7,503.0 645.5,541.4 555.3,570.4 542.1,567.4" fill="#a3d9e7" fill-opacity="0.55"/><polygon points="531.3,542.9 551.9,527.1 568.4,529.4 615.1,546.5 581.4,554.5 569.6,556.0 560.6,555.2 545.7,551.0" fill="#e5b8d8" fill-opacity="0.72"/><path d="M496.30 497.50V576.40H657.20" stroke="#8c8c8c" stroke-width="1.1" fill="none"/><use href="#mD" x="551.9" y="527.1"/><use href="#mD" x="555.5" y="530.3"/><use href="#mD" x="561.2" y="530.0"/><use href="#mD" x="568.4" y="529.4"/><use href="#mD" x="564.8" y="533.5"/><use href="#mD" x="554.3" y="534.3"/><use href="#mD" x="531.3" y="542.9"/><use href="#mD" x="540.9" y="542.3"/><use href="#mD" x="550.5" y="544.1"/><use href="#mD" x="576.2" y="538.7"/><use href="#mD" x="545.7" y="551.0"/><use href="#mD" x="560.6" y="555.2"/><use href="#mD" x="569.6" y="556.0"/><use href="#mD" x="566.0" y="548.9"/><use href="#mD" x="576.8" y="538.3"/><use href="#mD" x="608.1" y="546.3"/><use href="#mD" x="615.1" y="546.5"/><use href="#mD" x="596.1" y="549.0"/><use href="#mD" x="581.4" y="554.5"/><use href="#mD" x="576.2" y="553.9"/><use href="#mX" x="507.4" y="536.9"/><use href="#mX" x="528.6" y="538.7"/><use href="#mX" x="524.7" y="544.1"/><use href="#mX" x="530.1" y="548.5"/><use href="#mX" x="569.6" y="520.7"/><use href="#mX" x="560.3" y="524.3"/><use href="#mX" x="543.9" y="535.5"/><use href="#mX" x="542.7" y="539.9"/><use href="#mX" x="550.5" y="536.7"/><use href="#mX" x="555.9" y="540.7"/><use href="#mX" x="563.4" y="538.5"/><use href="#mX" x="571.7" y="539.9"/><use href="#mX" x="574.4" y="534.3"/><use href="#mX" x="545.1" y="547.7"/><use href="#mX" x="551.3" y="547.7"/><use href="#mX" x="553.5" y="549.8"/><use href="#mX" x="567.8" y="544.1"/><use href="#mX" x="568.4" y="547.7"/><use href="#mX" x="570.2" y="552.5"/><use href="#mX" x="564.0" y="558.1"/><use href="#mX" x="576.8" y="543.5"/><use href="#mX" x="576.8" y="551.3"/><use href="#mX" x="546.0" y="563.5"/><use href="#mX" x="542.1" y="567.4"/><use href="#mX" x="555.3" y="570.4"/><use href="#mX" x="597.7" y="503.0"/><use href="#mX" x="602.2" y="534.5"/><use href="#mX" x="608.1" y="534.2"/><use href="#mX" x="645.5" y="541.4"/><use href="#mX" x="577.5" y="543.8"/><use href="#mX" x="577.2" y="550.8"/><use href="#mX" x="602.2" y="547.7"/><use href="#mX" x="604.4" y="549.9"/><use href="#mX" x="603.0" y="552.6"/><use href="#mX" x="591.6" y="557.3"/><use href="#mX" x="575.6" y="534.2"/><use href="#mP" x="548.1" y="542.3"/><use href="#mP" x="557.0" y="548.3"/><use href="#mP" x="556.5" y="551.9"/><use href="#mP" x="564.2" y="550.7"/><use href="#mP" x="565.4" y="553.7"/><use href="#mP" x="534.9" y="559.3"/><use href="#mP" x="603.4" y="538.5"/><use href="#mO" x="558.5" y="544.3"/><use href="#mO" x="572.9" y="550.1"/><use href="#mO" x="579.3" y="531.2"/><use href="#mO" x="586.4" y="531.8"/><g font-family="Liberation Sans, sans-serif" font-size="7.2" fill="#6a6a6a"><text x="528.20" y="587.60" text-anchor="middle">−5</text><text x="565.10" y="587.60" text-anchor="middle">0</text><text x="602.10" y="587.60" text-anchor="middle">5</text><text x="639.40" y="587.60" text-anchor="middle">10</text><text x="491.70" y="510.10" text-anchor="end">10</text><text x="491.70" y="528.30" text-anchor="end">5</text><text x="491.70" y="546.40" text-anchor="end">0</text><text x="491.70" y="564.50" text-anchor="end">−5</text></g><text x="576.75" y="599.40" font-family="Liberation Sans, sans-serif" font-size="8.0" font-weight="bold" fill="#3a3a3a" text-anchor="middle">PC3 (8.0%)</text><text transform="translate(475.50,536.95) rotate(-90)" font-family="Liberation Sans, sans-serif" font-size="8.0" font-weight="bold" fill="#3a3a3a" text-anchor="middle">PC4 (6.5%)</text><path d="M97.40 622.80V701.20M133.40 622.80V701.20M169.30 622.80V701.20M205.30 622.80V701.20M62.70 623.80H223.90M62.70 639.20H223.90M62.70 654.60H223.90M62.70 670.00H223.90M62.70 685.50H223.90" stroke="#d4d7da" stroke-width="0.9" fill="none"/><polygon points="105.3,661.3 106.5,644.5 120.3,628.1 214.1,657.4 180.2,695.3 161.1,696.0 117.1,681.3 106.1,665.2" fill="#a3d9e7" fill-opacity="0.55"/><polygon points="72.5,672.3 107.2,652.1 124.0,659.5 133.8,664.9 131.4,670.9 125.0,676.0 114.1,682.8" fill="#e5b8d8" fill-opacity="0.72"/><path d="M62.70 622.80V701.20H223.90" stroke="#8c8c8c" stroke-width="1.1" fill="none"/><use href="#mD" x="107.2" y="652.1"/><use href="#mD" x="72.5" y="672.3"/><use href="#mD" x="88.6" y="669.7"/><use href="#mD" x="101.5" y="662.5"/><use href="#mD" x="112.3" y="661.9"/><use href="#mD" x="115.3" y="660.5"/><use href="#mD" x="124.0" y="659.5"/><use href="#mD" x="133.8" y="664.9"/><use href="#mD" x="110.5" y="667.9"/><use href="#mD" x="114.7" y="670.0"/><use href="#mD" x="118.3" y="669.1"/><use href="#mD" x="126.6" y="671.5"/><use href="#mD" x="131.4" y="670.9"/><use href="#mD" x="99.7" y="673.9"/><use href="#mD" x="102.1" y="676.9"/><use href="#mD" x="103.9" y="679.5"/><use href="#mD" x="114.1" y="674.5"/><use href="#mD" x="115.9" y="677.5"/><use href="#mD" x="114.1" y="682.8"/><use href="#mD" x="121.9" y="672.7"/><use href="#mD" x="125.0" y="676.0"/><use href="#mD" x="128.0" y="668.0"/><use href="#mX" x="120.3" y="628.1"/><use href="#mX" x="106.5" y="644.5"/><use href="#mX" x="105.3" y="661.3"/><use href="#mX" x="106.1" y="665.2"/><use href="#mX" x="118.9" y="661.3"/><use href="#mX" x="130.5" y="659.3"/><use href="#mX" x="121.9" y="665.5"/><use href="#mX" x="123.0" y="670.0"/><use href="#mX" x="133.0" y="666.9"/><use href="#mX" x="117.1" y="674.8"/><use href="#mX" x="117.1" y="681.3"/><use href="#mX" x="130.8" y="675.1"/><use href="#mX" x="135.0" y="675.3"/><use href="#mX" x="143.4" y="672.7"/><use href="#mX" x="142.2" y="678.7"/><use href="#mX" x="136.8" y="687.0"/><use href="#mX" x="161.7" y="644.2"/><use href="#mX" x="145.6" y="653.9"/><use href="#mX" x="151.3" y="655.2"/><use href="#mX" x="157.6" y="653.3"/><use href="#mX" x="190.6" y="651.1"/><use href="#mX" x="214.1" y="657.4"/><use href="#mX" x="187.1" y="664.6"/><use href="#mX" x="192.7" y="665.8"/><use href="#mX" x="176.7" y="666.8"/><use href="#mX" x="167.0" y="667.5"/><use href="#mX" x="159.5" y="669.0"/><use href="#mX" x="162.9" y="670.6"/><use href="#mX" x="145.3" y="670.2"/><use href="#mX" x="153.8" y="670.8"/><use href="#mX" x="143.8" y="673.7"/><use href="#mX" x="150.0" y="674.6"/><use href="#mX" x="190.6" y="681.5"/><use href="#mX" x="176.4" y="685.7"/><use href="#mX" x="161.1" y="696.0"/><use href="#mX" x="180.2" y="695.3"/><use href="#mP" x="107.5" y="672.7"/><use href="#mP" x="108.1" y="678.7"/><use href="#mP" x="123.6" y="677.8"/><use href="#mP" x="129.0" y="683.1"/><use href="#mP" x="132.6" y="679.9"/><use href="#mP" x="138.0" y="682.2"/><use href="#mP" x="136.8" y="684.0"/><use href="#mP" x="138.6" y="676.3"/><use href="#mP" x="147.5" y="683.7"/><use href="#mP" x="141.0" y="681.0"/><use href="#mO" x="129.6" y="679.9"/><use href="#mO" x="145.0" y="660.2"/><use href="#mO" x="155.4" y="676.5"/><g font-family="Liberation Sans, sans-serif" font-size="7.2" fill="#6a6a6a"><text x="97.40" y="712.40" text-anchor="middle">−10</text><text x="133.40" y="712.40" text-anchor="middle">0</text><text x="169.30" y="712.40" text-anchor="middle">10</text><text x="205.30" y="712.40" text-anchor="middle">20</text><text x="58.10" y="626.40" text-anchor="end">15</text><text x="58.10" y="641.80" text-anchor="end">10</text><text x="58.10" y="657.20" text-anchor="end">5</text><text x="58.10" y="672.60" text-anchor="end">0</text><text x="58.10" y="688.10" text-anchor="end">−5</text><text x="58.10" y="703.50" text-anchor="end">−10</text></g><text x="143.30" y="724.20" font-family="Liberation Sans, sans-serif" font-size="8.0" font-weight="bold" fill="#3a3a3a" text-anchor="middle">PC1 (44.4%)</text><text transform="translate(41.90,662.00) rotate(-90)" font-family="Liberation Sans, sans-serif" font-size="8.0" font-weight="bold" fill="#3a3a3a" text-anchor="middle">PC2 (11.2%)</text><path d="M314.80 622.50V701.20M350.80 622.50V701.20M386.80 622.50V701.20M422.70 622.50V701.20M280.50 637.90H441.30M280.50 662.00H441.30M280.50 686.40H441.30" stroke="#d4d7da" stroke-width="0.9" fill="none"/><polygon points="322.7,681.3 324.1,631.6 355.2,631.4 394.2,634.7 431.3,659.2 408.0,676.4 348.0,695.7" fill="#a3d9e7" fill-opacity="0.55"/><polygon points="289.8,629.2 317.3,628.1 350.6,648.7 356.0,676.0 344.0,685.2 330.9,682.2 327.3,678.4 305.7,653.2" fill="#e5b8d8" fill-opacity="0.72"/><path d="M280.50 622.50V701.20H441.30" stroke="#8c8c8c" stroke-width="1.1" fill="none"/><use href="#mD" x="289.8" y="629.2"/><use href="#mD" x="317.3" y="628.1"/><use href="#mD" x="321.3" y="638.9"/><use href="#mD" x="331.5" y="638.9"/><use href="#mD" x="319.1" y="644.3"/><use href="#mD" x="305.7" y="653.2"/><use href="#mD" x="330.9" y="655.0"/><use href="#mD" x="333.3" y="658.1"/><use href="#mD" x="335.3" y="660.5"/><use href="#mD" x="350.6" y="648.7"/><use href="#mD" x="342.2" y="652.9"/><use href="#mD" x="330.9" y="665.2"/><use href="#mD" x="335.7" y="666.1"/><use href="#mD" x="338.7" y="664.1"/><use href="#mD" x="344.6" y="664.3"/><use href="#mD" x="318.9" y="668.5"/><use href="#mD" x="329.1" y="670.3"/><use href="#mD" x="332.7" y="676.0"/><use href="#mD" x="327.3" y="678.4"/><use href="#mD" x="330.9" y="682.2"/><use href="#mD" x="337.5" y="679.9"/><use href="#mD" x="341.0" y="678.7"/><use href="#mD" x="344.0" y="685.2"/><use href="#mD" x="344.6" y="671.5"/><use href="#mD" x="356.0" y="676.0"/><use href="#mD" x="348.8" y="672.7"/><use href="#mX" x="324.1" y="631.6"/><use href="#mX" x="355.2" y="631.4"/><use href="#mX" x="336.3" y="638.0"/><use href="#mX" x="353.6" y="649.0"/><use href="#mX" x="334.5" y="653.5"/><use href="#mX" x="338.1" y="652.3"/><use href="#mX" x="334.5" y="671.7"/><use href="#mX" x="323.1" y="675.3"/><use href="#mX" x="322.7" y="681.3"/><use href="#mX" x="339.6" y="684.6"/><use href="#mX" x="344.0" y="668.1"/><use href="#mX" x="348.8" y="667.3"/><use href="#mX" x="351.8" y="674.5"/><use href="#mX" x="348.0" y="695.7"/><use href="#mX" x="359.0" y="679.9"/><use href="#mX" x="394.2" y="634.7"/><use href="#mX" x="409.7" y="645.8"/><use href="#mX" x="431.3" y="659.2"/><use href="#mX" x="378.2" y="645.8"/><use href="#mX" x="381.3" y="645.8"/><use href="#mX" x="384.4" y="646.7"/><use href="#mX" x="362.9" y="649.4"/><use href="#mX" x="397.5" y="653.1"/><use href="#mX" x="404.4" y="653.4"/><use href="#mX" x="393.6" y="658.6"/><use href="#mX" x="407.7" y="661.3"/><use href="#mX" x="376.4" y="655.0"/><use href="#mX" x="379.2" y="654.1"/><use href="#mX" x="374.6" y="659.5"/><use href="#mX" x="363.2" y="658.6"/><use href="#mX" x="368.8" y="667.2"/><use href="#mX" x="408.0" y="676.4"/><use href="#mX" x="361.1" y="680.1"/><use href="#mX" x="367.2" y="682.3"/><use href="#mX" x="372.1" y="680.9"/><use href="#mX" x="371.2" y="685.6"/><use href="#mP" x="325.2" y="653.3"/><use href="#mP" x="346.4" y="652.1"/><use href="#mP" x="341.0" y="658.3"/><use href="#mP" x="352.4" y="659.5"/><use href="#mP" x="354.2" y="655.9"/><use href="#mP" x="351.2" y="665.2"/><use href="#mP" x="350.6" y="670.3"/><use href="#mP" x="324.9" y="671.2"/><use href="#mP" x="356.6" y="681.6"/><use href="#mP" x="364.7" y="667.0"/><use href="#mO" x="346.4" y="655.9"/><use href="#mO" x="352.4" y="665.5"/><use href="#mO" x="362.3" y="643.3"/><use href="#mO" x="372.7" y="662.7"/><g font-family="Liberation Sans, sans-serif" font-size="7.2" fill="#6a6a6a"><text x="314.80" y="712.40" text-anchor="middle">−10</text><text x="350.80" y="712.40" text-anchor="middle">0</text><text x="386.80" y="712.40" text-anchor="middle">10</text><text x="422.70" y="712.40" text-anchor="middle">20</text><text x="275.90" y="640.50" text-anchor="end">5</text><text x="275.90" y="664.60" text-anchor="end">0</text><text x="275.90" y="689.00" text-anchor="end">−5</text></g><text x="360.90" y="724.20" font-family="Liberation Sans, sans-serif" font-size="8.0" font-weight="bold" fill="#3a3a3a" text-anchor="middle">PC1 (44.4%)</text><text transform="translate(259.70,661.85) rotate(-90)" font-family="Liberation Sans, sans-serif" font-size="8.0" font-weight="bold" fill="#3a3a3a" text-anchor="middle">PC3 (9.0%)</text><path d="M531.00 622.50V701.30M566.80 622.50V701.30M602.60 622.50V701.30M638.40 622.50V701.30M496.10 628.70H657.10M496.10 648.10H657.10M496.10 667.20H657.10M496.10 686.50H657.10" stroke="#d4d7da" stroke-width="0.9" fill="none"/><polygon points="538.5,667.3 539.1,662.5 610.2,628.0 647.3,658.3 625.9,675.2 595.0,692.3 587.0,696.0" fill="#a3d9e7" fill-opacity="0.55"/><polygon points="505.8,658.5 551.1,648.1 561.0,651.4 564.8,664.9 557.0,683.4 545.7,683.2 521.7,669.3" fill="#e5b8d8" fill-opacity="0.72"/><path d="M496.10 622.50V701.30H657.10" stroke="#8c8c8c" stroke-width="1.1" fill="none"/><use href="#mD" x="505.8" y="658.5"/><use href="#mD" x="521.7" y="669.3"/><use href="#mD" x="534.9" y="653.5"/><use href="#mD" x="533.1" y="656.5"/><use href="#mD" x="543.5" y="656.5"/><use href="#mD" x="547.5" y="652.1"/><use href="#mD" x="551.1" y="648.1"/><use href="#mD" x="553.5" y="650.9"/><use href="#mD" x="551.4" y="655.7"/><use href="#mD" x="561.0" y="651.4"/><use href="#mD" x="534.9" y="668.1"/><use href="#mD" x="546.9" y="667.6"/><use href="#mD" x="560.6" y="662.9"/><use href="#mD" x="564.8" y="664.9"/><use href="#mD" x="540.3" y="677.2"/><use href="#mD" x="547.5" y="676.0"/><use href="#mD" x="545.7" y="683.2"/><use href="#mD" x="557.0" y="683.4"/><use href="#mD" x="558.2" y="673.9"/><use href="#mX" x="539.1" y="662.5"/><use href="#mX" x="538.5" y="667.3"/><use href="#mX" x="551.7" y="662.1"/><use href="#mX" x="550.5" y="665.2"/><use href="#mX" x="554.1" y="666.1"/><use href="#mX" x="549.3" y="670.3"/><use href="#mX" x="550.5" y="672.7"/><use href="#mX" x="554.7" y="671.5"/><use href="#mX" x="560.0" y="670.3"/><use href="#mX" x="564.2" y="662.5"/><use href="#mX" x="568.4" y="658.3"/><use href="#mX" x="575.0" y="658.5"/><use href="#mX" x="566.6" y="670.9"/><use href="#mX" x="570.2" y="672.7"/><use href="#mX" x="566.6" y="681.6"/><use href="#mX" x="610.2" y="628.0"/><use href="#mX" x="624.0" y="641.1"/><use href="#mX" x="623.8" y="650.9"/><use href="#mX" x="647.3" y="658.3"/><use href="#mX" x="577.5" y="659.0"/><use href="#mX" x="592.5" y="661.1"/><use href="#mX" x="583.6" y="665.4"/><use href="#mX" x="579.3" y="667.8"/><use href="#mX" x="588.2" y="670.3"/><use href="#mX" x="583.0" y="671.7"/><use href="#mX" x="594.0" y="674.6"/><use href="#mX" x="595.8" y="679.5"/><use href="#mX" x="600.1" y="678.5"/><use href="#mX" x="609.3" y="671.5"/><use href="#mX" x="620.4" y="667.6"/><use href="#mX" x="625.9" y="675.2"/><use href="#mX" x="613.3" y="679.1"/><use href="#mX" x="590.3" y="685.0"/><use href="#mX" x="595.0" y="692.3"/><use href="#mX" x="587.0" y="696.0"/><use href="#mP" x="541.5" y="665.5"/><use href="#mP" x="540.9" y="672.1"/><use href="#mP" x="556.5" y="663.1"/><use href="#mP" x="560.6" y="674.5"/><use href="#mP" x="570.2" y="661.3"/><use href="#mP" x="572.0" y="667.9"/><use href="#mP" x="567.2" y="679.3"/><use href="#mP" x="572.0" y="682.5"/><use href="#mP" x="580.5" y="675.2"/><use href="#mO" x="567.8" y="667.6"/><use href="#mO" x="578.4" y="655.2"/><use href="#mO" x="588.7" y="651.6"/><g font-family="Liberation Sans, sans-serif" font-size="7.2" fill="#6a6a6a"><text x="531.00" y="712.50" text-anchor="middle">−10</text><text x="566.80" y="712.50" text-anchor="middle">0</text><text x="602.60" y="712.50" text-anchor="middle">10</text><text x="638.40" y="712.50" text-anchor="middle">20</text><text x="491.50" y="631.30" text-anchor="end">10</text><text x="491.50" y="650.70" text-anchor="end">5</text><text x="491.50" y="669.80" text-anchor="end">0</text><text x="491.50" y="689.10" text-anchor="end">−5</text></g><text x="576.60" y="724.30" font-family="Liberation Sans, sans-serif" font-size="8.0" font-weight="bold" fill="#3a3a3a" text-anchor="middle">PC1 (44.4%)</text><text transform="translate(475.30,661.90) rotate(-90)" font-family="Liberation Sans, sans-serif" font-size="8.0" font-weight="bold" fill="#3a3a3a" text-anchor="middle">PC4 (6.7%)</text><path d="M95.10 747.20V826.50M126.30 747.20V826.50M157.80 747.20V826.50M189.20 747.20V826.50M220.70 747.20V826.50M62.70 762.90H223.90M62.70 787.00H223.90M62.70 811.40H223.90" stroke="#d4d7da" stroke-width="0.9" fill="none"/><polygon points="74.2,770.7 115.0,756.4 178.9,756.7 212.2,777.4 148.2,821.0 108.4,804.3 102.7,801.3 74.6,778.3" fill="#a3d9e7" fill-opacity="0.55"/><polygon points="100.5,763.9 118.5,753.1 163.6,757.3 148.8,805.9 123.0,810.2 106.3,801.3" fill="#e5b8d8" fill-opacity="0.72"/><path d="M62.70 747.20V826.50H223.90" stroke="#8c8c8c" stroke-width="1.1" fill="none"/><use href="#mD" x="118.5" y="753.1"/><use href="#mD" x="122.5" y="754.3"/><use href="#mD" x="100.5" y="763.9"/><use href="#mD" x="108.1" y="764.2"/><use href="#mD" x="114.7" y="769.3"/><use href="#mD" x="112.5" y="774.0"/><use href="#mD" x="117.7" y="780.3"/><use href="#mD" x="115.3" y="783.5"/><use href="#mD" x="127.6" y="785.7"/><use href="#mD" x="136.8" y="784.5"/><use href="#mD" x="121.3" y="790.5"/><use href="#mD" x="127.6" y="791.7"/><use href="#mD" x="125.4" y="796.5"/><use href="#mD" x="113.5" y="797.1"/><use href="#mD" x="141.6" y="793.5"/><use href="#mD" x="130.8" y="803.4"/><use href="#mD" x="123.0" y="803.7"/><use href="#mD" x="123.0" y="810.2"/><use href="#mD" x="106.3" y="801.3"/><use href="#mD" x="143.4" y="796.5"/><use href="#mD" x="163.6" y="757.3"/><use href="#mD" x="141.5" y="793.0"/><use href="#mD" x="143.8" y="795.8"/><use href="#mD" x="144.8" y="799.6"/><use href="#mD" x="146.3" y="801.5"/><use href="#mD" x="148.8" y="805.9"/><use href="#mX" x="74.2" y="770.7"/><use href="#mX" x="74.6" y="778.3"/><use href="#mX" x="92.3" y="774.0"/><use href="#mX" x="115.0" y="756.4"/><use href="#mX" x="133.5" y="759.7"/><use href="#mX" x="143.4" y="763.0"/><use href="#mX" x="125.4" y="770.1"/><use href="#mX" x="126.6" y="774.3"/><use href="#mX" x="131.8" y="771.9"/><use href="#mX" x="135.6" y="771.1"/><use href="#mX" x="137.4" y="778.5"/><use href="#mX" x="128.4" y="780.3"/><use href="#mX" x="112.3" y="778.5"/><use href="#mX" x="94.3" y="783.9"/><use href="#mX" x="104.9" y="786.7"/><use href="#mX" x="116.5" y="792.0"/><use href="#mX" x="133.6" y="788.1"/><use href="#mX" x="115.9" y="799.5"/><use href="#mX" x="135.6" y="800.3"/><use href="#mX" x="102.7" y="801.3"/><use href="#mX" x="108.4" y="804.3"/><use href="#mX" x="118.3" y="806.0"/><use href="#mX" x="126.6" y="809.6"/><use href="#mX" x="134.4" y="810.2"/><use href="#mX" x="143.4" y="806.0"/><use href="#mX" x="178.9" y="756.7"/><use href="#mX" x="144.4" y="763.2"/><use href="#mX" x="178.7" y="779.3"/><use href="#mX" x="212.2" y="777.4"/><use href="#mX" x="152.8" y="784.3"/><use href="#mX" x="159.5" y="783.9"/><use href="#mX" x="161.3" y="785.4"/><use href="#mX" x="165.1" y="786.2"/><use href="#mX" x="155.7" y="792.1"/><use href="#mX" x="158.6" y="792.7"/><use href="#mX" x="144.8" y="806.3"/><use href="#mX" x="148.2" y="821.0"/><use href="#mP" x="99.3" y="776.7"/><use href="#mP" x="103.3" y="780.9"/><use href="#mP" x="109.3" y="777.9"/><use href="#mP" x="110.5" y="783.3"/><use href="#mP" x="97.9" y="780.9"/><use href="#mP" x="100.5" y="784.3"/><use href="#mP" x="106.9" y="790.5"/><use href="#mP" x="97.9" y="792.0"/><use href="#mP" x="103.3" y="795.5"/><use href="#mP" x="120.7" y="796.5"/><use href="#mP" x="115.3" y="805.5"/><use href="#mP" x="110.8" y="807.8"/><use href="#mO" x="113.5" y="787.9"/><use href="#mO" x="146.9" y="768.6"/><g font-family="Liberation Sans, sans-serif" font-size="7.2" fill="#6a6a6a"><text x="63.40" y="837.70" text-anchor="middle">−10</text><text x="95.10" y="837.70" text-anchor="middle">−5</text><text x="126.30" y="837.70" text-anchor="middle">0</text><text x="157.80" y="837.70" text-anchor="middle">5</text><text x="189.20" y="837.70" text-anchor="middle">10</text><text x="220.70" y="837.70" text-anchor="middle">15</text><text x="58.10" y="765.50" text-anchor="end">5</text><text x="58.10" y="789.60" text-anchor="end">0</text><text x="58.10" y="814.00" text-anchor="end">−5</text></g><text x="143.30" y="849.50" font-family="Liberation Sans, sans-serif" font-size="8.0" font-weight="bold" fill="#3a3a3a" text-anchor="middle">PC2 (11.2%)</text><text transform="translate(41.90,786.85) rotate(-90)" font-family="Liberation Sans, sans-serif" font-size="8.0" font-weight="bold" fill="#3a3a3a" text-anchor="middle">PC3 (9.0%)</text><path d="M312.60 747.20V826.50M343.40 747.20V826.50M375.20 747.20V826.50M406.70 747.20V826.50M438.10 747.20V826.50M280.50 753.60H441.30M280.50 772.90H441.30M280.50 792.20H441.30M280.50 811.40H441.30" stroke="#d4d7da" stroke-width="0.9" fill="none"/><polygon points="291.4,799.5 320.5,766.3 350.4,753.1 429.5,791.4 396.0,817.6 342.0,821.0 291.7,804.3" fill="#a3d9e7" fill-opacity="0.55"/><polygon points="317.7,793.2 332.1,776.1 344.6,773.4 359.8,778.7 381.1,802.0 361.1,808.5 344.6,808.8 330.3,801.0" fill="#e5b8d8" fill-opacity="0.72"/><path d="M280.50 747.20V826.50H441.30" stroke="#8c8c8c" stroke-width="1.1" fill="none"/><use href="#mD" x="344.6" y="773.4"/><use href="#mD" x="338.4" y="777.1"/><use href="#mD" x="332.1" y="776.1"/><use href="#mD" x="348.2" y="781.5"/><use href="#mD" x="359.0" y="778.8"/><use href="#mD" x="336.3" y="780.9"/><use href="#mD" x="339.9" y="783.9"/><use href="#mD" x="339.9" y="789.9"/><use href="#mD" x="343.4" y="792.9"/><use href="#mD" x="345.6" y="794.7"/><use href="#mD" x="342.2" y="797.1"/><use href="#mD" x="317.7" y="793.2"/><use href="#mD" x="330.3" y="801.0"/><use href="#mD" x="336.3" y="801.3"/><use href="#mD" x="339.9" y="800.1"/><use href="#mD" x="344.6" y="808.8"/><use href="#mD" x="354.2" y="805.5"/><use href="#mD" x="360.2" y="808.1"/><use href="#mD" x="330.9" y="790.2"/><use href="#mD" x="359.8" y="778.7"/><use href="#mD" x="361.7" y="781.2"/><use href="#mD" x="363.2" y="795.5"/><use href="#mD" x="381.1" y="802.0"/><use href="#mD" x="361.1" y="808.5"/><use href="#mX" x="350.4" y="753.1"/><use href="#mX" x="320.5" y="766.3"/><use href="#mX" x="291.4" y="799.5"/><use href="#mX" x="291.7" y="804.3"/><use href="#mX" x="309.3" y="797.1"/><use href="#mX" x="312.3" y="797.1"/><use href="#mX" x="325.5" y="783.5"/><use href="#mX" x="332.7" y="783.9"/><use href="#mX" x="336.3" y="784.3"/><use href="#mX" x="343.4" y="782.7"/><use href="#mX" x="345.6" y="786.9"/><use href="#mX" x="332.7" y="787.5"/><use href="#mX" x="320.7" y="789.9"/><use href="#mX" x="353.3" y="787.5"/><use href="#mX" x="354.8" y="792.9"/><use href="#mX" x="361.4" y="786.9"/><use href="#mX" x="330.3" y="797.1"/><use href="#mX" x="334.5" y="795.3"/><use href="#mX" x="351.8" y="797.7"/><use href="#mX" x="352.4" y="800.7"/><use href="#mX" x="342.8" y="804.3"/><use href="#mX" x="349.2" y="803.9"/><use href="#mX" x="351.2" y="807.0"/><use href="#mX" x="342.0" y="821.0"/><use href="#mX" x="323.3" y="795.3"/><use href="#mX" x="382.5" y="776.5"/><use href="#mX" x="370.3" y="783.3"/><use href="#mX" x="361.4" y="786.9"/><use href="#mX" x="365.6" y="787.9"/><use href="#mX" x="362.3" y="792.6"/><use href="#mX" x="373.3" y="790.4"/><use href="#mX" x="375.8" y="791.8"/><use href="#mX" x="377.0" y="793.4"/><use href="#mX" x="396.0" y="789.1"/><use href="#mX" x="429.5" y="791.4"/><use href="#mX" x="378.2" y="810.0"/><use href="#mX" x="396.0" y="817.6"/><use href="#mP" x="315.9" y="786.3"/><use href="#mP" x="327.9" y="788.3"/><use href="#mP" x="328.5" y="793.1"/><use href="#mP" x="325.5" y="791.1"/><use href="#mP" x="315.9" y="798.3"/><use href="#mP" x="321.3" y="799.8"/><use href="#mP" x="318.3" y="802.2"/><use href="#mP" x="324.3" y="804.9"/><use href="#mP" x="332.1" y="807.5"/><use href="#mP" x="338.1" y="797.1"/><use href="#mO" x="330.9" y="776.7"/><use href="#mO" x="322.9" y="792.6"/><use href="#mO" x="364.4" y="780.6"/><g font-family="Liberation Sans, sans-serif" font-size="7.2" fill="#6a6a6a"><text x="280.80" y="837.70" text-anchor="middle">−10</text><text x="312.60" y="837.70" text-anchor="middle">−5</text><text x="343.40" y="837.70" text-anchor="middle">0</text><text x="375.20" y="837.70" text-anchor="middle">5</text><text x="406.70" y="837.70" text-anchor="middle">10</text><text x="438.10" y="837.70" text-anchor="middle">15</text><text x="275.90" y="756.20" text-anchor="end">10</text><text x="275.90" y="775.50" text-anchor="end">5</text><text x="275.90" y="794.80" text-anchor="end">0</text><text x="275.90" y="814.00" text-anchor="end">−5</text></g><text x="360.90" y="849.50" font-family="Liberation Sans, sans-serif" font-size="8.0" font-weight="bold" fill="#3a3a3a" text-anchor="middle">PC2 (11.2%)</text><text transform="translate(259.70,786.85) rotate(-90)" font-family="Liberation Sans, sans-serif" font-size="8.0" font-weight="bold" fill="#3a3a3a" text-anchor="middle">PC4 (6.7%)</text><path d="M527.30 747.20V826.00M576.30 747.20V826.00M625.20 747.20V826.00M496.10 753.70H657.10M496.10 773.10H657.10M496.10 792.20H657.10M496.10 811.50H657.10" stroke="#d4d7da" stroke-width="0.9" fill="none"/><polygon points="507.4,788.1 547.2,766.3 632.0,753.3 638.8,789.1 592.2,817.6 529.3,821.0" fill="#a3d9e7" fill-opacity="0.55"/><polygon points="528.3,789.3 539.7,775.9 579.9,773.2 645.5,781.8 637.3,802.0 566.6,808.4 558.8,808.4 542.1,799.5" fill="#e5b8d8" fill-opacity="0.72"/><path d="M496.10 747.20V826.00H657.10" stroke="#8c8c8c" stroke-width="1.1" fill="none"/><use href="#mD" x="539.7" y="775.9"/><use href="#mD" x="543.3" y="781.2"/><use href="#mD" x="549.9" y="780.3"/><use href="#mD" x="563.3" y="778.9"/><use href="#mD" x="569.3" y="777.1"/><use href="#mD" x="572.0" y="776.4"/><use href="#mD" x="537.9" y="788.3"/><use href="#mD" x="528.3" y="789.3"/><use href="#mD" x="546.3" y="791.4"/><use href="#mD" x="547.2" y="795.3"/><use href="#mD" x="554.9" y="790.5"/><use href="#mD" x="559.4" y="788.7"/><use href="#mD" x="557.0" y="787.5"/><use href="#mD" x="542.1" y="799.5"/><use href="#mD" x="560.6" y="796.7"/><use href="#mD" x="558.8" y="808.4"/><use href="#mD" x="566.6" y="808.4"/><use href="#mD" x="568.4" y="798.9"/><use href="#mD" x="579.9" y="773.2"/><use href="#mD" x="645.5" y="781.8"/><use href="#mD" x="643.4" y="784.0"/><use href="#mD" x="622.8" y="791.0"/><use href="#mD" x="623.8" y="793.4"/><use href="#mD" x="612.8" y="793.1"/><use href="#mD" x="603.2" y="801.2"/><use href="#mD" x="593.4" y="800.2"/><use href="#mD" x="637.3" y="802.0"/><use href="#mD" x="581.4" y="805.3"/><use href="#mD" x="585.4" y="794.7"/><use href="#mX" x="547.2" y="766.3"/><use href="#mX" x="507.4" y="788.1"/><use href="#mX" x="530.5" y="788.3"/><use href="#mX" x="538.1" y="783.9"/><use href="#mX" x="541.2" y="783.3"/><use href="#mX" x="551.1" y="783.5"/><use href="#mX" x="549.3" y="787.5"/><use href="#mX" x="537.3" y="793.5"/><use href="#mX" x="535.5" y="797.1"/><use href="#mX" x="528.9" y="797.7"/><use href="#mX" x="566.6" y="787.5"/><use href="#mX" x="572.0" y="786.9"/><use href="#mX" x="564.2" y="794.7"/><use href="#mX" x="555.9" y="797.7"/><use href="#mX" x="574.4" y="807.0"/><use href="#mX" x="576.8" y="796.5"/><use href="#mX" x="529.3" y="821.0"/><use href="#mX" x="632.0" y="753.3"/><use href="#mX" x="578.7" y="776.3"/><use href="#mX" x="582.4" y="783.3"/><use href="#mX" x="602.0" y="782.4"/><use href="#mX" x="591.0" y="786.1"/><use href="#mX" x="625.5" y="786.7"/><use href="#mX" x="638.8" y="789.1"/><use href="#mX" x="597.1" y="791.4"/><use href="#mX" x="578.1" y="794.7"/><use href="#mX" x="583.3" y="793.1"/><use href="#mX" x="583.3" y="797.1"/><use href="#mX" x="577.7" y="798.6"/><use href="#mX" x="594.0" y="794.7"/><use href="#mX" x="603.2" y="797.5"/><use href="#mX" x="609.3" y="799.9"/><use href="#mX" x="607.1" y="803.2"/><use href="#mX" x="611.2" y="804.5"/><use href="#mX" x="594.6" y="804.1"/><use href="#mX" x="575.6" y="806.9"/><use href="#mX" x="580.5" y="810.2"/><use href="#mX" x="592.2" y="817.6"/><use href="#mP" x="534.1" y="792.9"/><use href="#mP" x="557.0" y="797.4"/><use href="#mP" x="560.0" y="801.3"/><use href="#mP" x="566.4" y="800.1"/><use href="#mP" x="569.3" y="804.6"/><use href="#mP" x="539.1" y="807.5"/><use href="#mP" x="583.8" y="788.2"/><use href="#mP" x="588.5" y="786.4"/><use href="#mP" x="594.6" y="791.0"/><use href="#mP" x="596.8" y="798.3"/><use href="#mP" x="589.5" y="799.9"/><use href="#mP" x="582.1" y="801.7"/><use href="#mO" x="569.0" y="792.6"/><use href="#mO" x="575.0" y="776.7"/><use href="#mO" x="614.2" y="780.3"/><use href="#mO" x="589.5" y="799.0"/><g font-family="Liberation Sans, sans-serif" font-size="7.2" fill="#6a6a6a"><text x="527.30" y="837.20" text-anchor="middle">−5</text><text x="576.30" y="837.20" text-anchor="middle">0</text><text x="625.20" y="837.20" text-anchor="middle">5</text><text x="491.50" y="756.30" text-anchor="end">10</text><text x="491.50" y="775.70" text-anchor="end">5</text><text x="491.50" y="794.80" text-anchor="end">0</text><text x="491.50" y="814.10" text-anchor="end">−5</text></g><text x="576.60" y="849.00" font-family="Liberation Sans, sans-serif" font-size="8.0" font-weight="bold" fill="#3a3a3a" text-anchor="middle">PC3 (9.0%)</text><text transform="translate(475.30,786.60) rotate(-90)" font-family="Liberation Sans, sans-serif" font-size="8.0" font-weight="bold" fill="#3a3a3a" text-anchor="middle">PC4 (6.7%)</text><text x="243.9" y="865.6" font-family="Liberation Sans, sans-serif" font-size="7.0" font-weight="bold" fill="#2d7cc4">Category</text><use href="#mD" transform="translate(285.2,863.2) scale(1.45)"/><text x="293.0" y="865.6" font-family="Liberation Sans, sans-serif" font-size="7.0" fill="#777">Control</text><use href="#mX" transform="translate(330.2,863.2) scale(1.45)"/><text x="337.3" y="865.6" font-family="Liberation Sans, sans-serif" font-size="7.0" fill="#777">CRC+</text><use href="#mP" transform="translate(367.8,863.2) scale(1.45)"/><text x="374.9" y="865.6" font-family="Liberation Sans, sans-serif" font-size="7.0" fill="#777">E-Polyps+</text><use href="#mO" transform="translate(418.9,863.2) scale(1.45)"/><text x="426.3" y="865.6" font-family="Liberation Sans, sans-serif" font-size="7.0" fill="#777">L-Polyps+</text></svg></body></html>
